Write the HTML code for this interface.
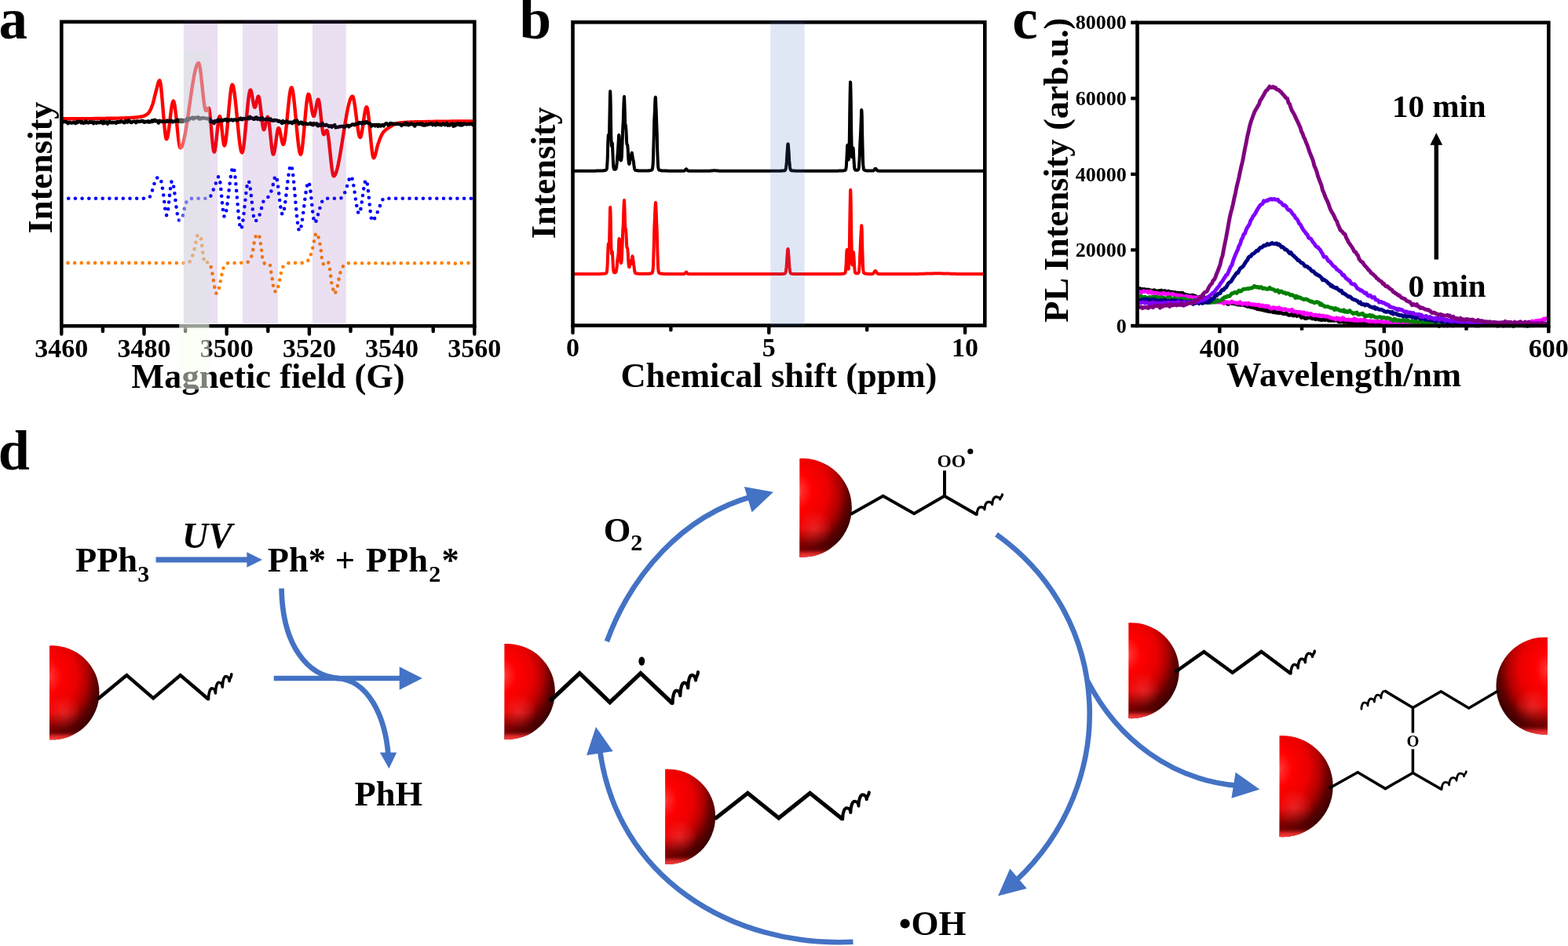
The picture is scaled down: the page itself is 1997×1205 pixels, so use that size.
<!DOCTYPE html>
<html><head><meta charset="utf-8"><title>Figure</title>
<style>html,body{margin:0;padding:0;background:#fff;overflow:hidden}svg{display:block}</style>
</head><body>
<svg width="1997" height="1205" viewBox="0 0 1997 1205" font-family="'Liberation Serif', serif" font-weight="bold">
<rect width="1997" height="1205" fill="#fff"/>
<defs>
<radialGradient id="g0" gradientUnits="userSpaceOnUse" cx="58.2" cy="861.9" r="79.2" gradientTransform="translate(58.2,861.9) scale(1,1.15) translate(-58.2,-861.9)"><stop offset="0" stop-color="#ff6a6a"/><stop offset="0.10" stop-color="#ff2a2a"/><stop offset="0.25" stop-color="#ff0000"/><stop offset="0.50" stop-color="#ea0000"/><stop offset="0.66" stop-color="#b40000"/><stop offset="0.80" stop-color="#620000"/><stop offset="0.92" stop-color="#3c0000"/><stop offset="1" stop-color="#2a0000"/></radialGradient>
<radialGradient id="f0" gradientUnits="userSpaceOnUse" cx="81" cy="907.5" r="22.8"><stop offset="0" stop-color="#ff4a4a" stop-opacity="0.45"/><stop offset="1" stop-color="#ff4a4a" stop-opacity="0"/></radialGradient>
<linearGradient id="r0" gradientUnits="userSpaceOnUse" x1="0" y1="822.3" x2="0" y2="942.3"><stop offset="0" stop-color="#400000" stop-opacity="0"/><stop offset="0.72" stop-color="#400000" stop-opacity="0"/><stop offset="0.86" stop-color="#500000" stop-opacity="0.3"/><stop offset="0.91" stop-color="#700000" stop-opacity="0.25"/><stop offset="0.96" stop-color="#ff3030" stop-opacity="0.75"/><stop offset="1" stop-color="#ff4545" stop-opacity="1"/></linearGradient>
<radialGradient id="g3" gradientUnits="userSpaceOnUse" cx="637.5" cy="860.3" r="80.5" gradientTransform="translate(637.5,860.3) scale(1,1.15) translate(-637.5,-860.3)"><stop offset="0" stop-color="#ff6a6a"/><stop offset="0.10" stop-color="#ff2a2a"/><stop offset="0.25" stop-color="#ff0000"/><stop offset="0.50" stop-color="#ea0000"/><stop offset="0.66" stop-color="#b40000"/><stop offset="0.80" stop-color="#620000"/><stop offset="0.92" stop-color="#3c0000"/><stop offset="1" stop-color="#2a0000"/></radialGradient>
<radialGradient id="f3" gradientUnits="userSpaceOnUse" cx="660.7" cy="906.6" r="23.2"><stop offset="0" stop-color="#ff4a4a" stop-opacity="0.45"/><stop offset="1" stop-color="#ff4a4a" stop-opacity="0"/></radialGradient>
<linearGradient id="r3" gradientUnits="userSpaceOnUse" x1="0" y1="820" x2="0" y2="942"><stop offset="0" stop-color="#400000" stop-opacity="0"/><stop offset="0.72" stop-color="#400000" stop-opacity="0"/><stop offset="0.86" stop-color="#500000" stop-opacity="0.3"/><stop offset="0.91" stop-color="#700000" stop-opacity="0.25"/><stop offset="0.96" stop-color="#ff3030" stop-opacity="0.75"/><stop offset="1" stop-color="#ff4545" stop-opacity="1"/></linearGradient>
<radialGradient id="g6" gradientUnits="userSpaceOnUse" cx="1013.3" cy="625.4" r="83.2" gradientTransform="translate(1013.3,625.4) scale(1,1.15) translate(-1013.3,-625.4)"><stop offset="0" stop-color="#ff6a6a"/><stop offset="0.10" stop-color="#ff2a2a"/><stop offset="0.25" stop-color="#ff0000"/><stop offset="0.50" stop-color="#ea0000"/><stop offset="0.66" stop-color="#b40000"/><stop offset="0.80" stop-color="#620000"/><stop offset="0.92" stop-color="#3c0000"/><stop offset="1" stop-color="#2a0000"/></radialGradient>
<radialGradient id="f6" gradientUnits="userSpaceOnUse" cx="1037.2" cy="673.3" r="23.9"><stop offset="0" stop-color="#ff4a4a" stop-opacity="0.45"/><stop offset="1" stop-color="#ff4a4a" stop-opacity="0"/></radialGradient>
<linearGradient id="r6" gradientUnits="userSpaceOnUse" x1="0" y1="583.8" x2="0" y2="709.8"><stop offset="0" stop-color="#400000" stop-opacity="0"/><stop offset="0.72" stop-color="#400000" stop-opacity="0"/><stop offset="0.86" stop-color="#500000" stop-opacity="0.3"/><stop offset="0.91" stop-color="#700000" stop-opacity="0.25"/><stop offset="0.96" stop-color="#ff3030" stop-opacity="0.75"/><stop offset="1" stop-color="#ff4545" stop-opacity="1"/></linearGradient>
<radialGradient id="g9" gradientUnits="userSpaceOnUse" cx="842.3" cy="1019.7" r="80" gradientTransform="translate(842.3,1019.7) scale(1,1.15) translate(-842.3,-1019.7)"><stop offset="0" stop-color="#ff6a6a"/><stop offset="0.10" stop-color="#ff2a2a"/><stop offset="0.25" stop-color="#ff0000"/><stop offset="0.50" stop-color="#ea0000"/><stop offset="0.66" stop-color="#b40000"/><stop offset="0.80" stop-color="#620000"/><stop offset="0.92" stop-color="#3c0000"/><stop offset="1" stop-color="#2a0000"/></radialGradient>
<radialGradient id="f9" gradientUnits="userSpaceOnUse" cx="865.3" cy="1065.8" r="23"><stop offset="0" stop-color="#ff4a4a" stop-opacity="0.45"/><stop offset="1" stop-color="#ff4a4a" stop-opacity="0"/></radialGradient>
<linearGradient id="r9" gradientUnits="userSpaceOnUse" x1="0" y1="979.7" x2="0" y2="1100.9"><stop offset="0" stop-color="#400000" stop-opacity="0"/><stop offset="0.72" stop-color="#400000" stop-opacity="0"/><stop offset="0.86" stop-color="#500000" stop-opacity="0.3"/><stop offset="0.91" stop-color="#700000" stop-opacity="0.25"/><stop offset="0.96" stop-color="#ff3030" stop-opacity="0.75"/><stop offset="1" stop-color="#ff4545" stop-opacity="1"/></linearGradient>
<radialGradient id="g12" gradientUnits="userSpaceOnUse" cx="1432.4" cy="833.5" r="80.5" gradientTransform="translate(1432.4,833.5) scale(1,1.15) translate(-1432.4,-833.5)"><stop offset="0" stop-color="#ff6a6a"/><stop offset="0.10" stop-color="#ff2a2a"/><stop offset="0.25" stop-color="#ff0000"/><stop offset="0.50" stop-color="#ea0000"/><stop offset="0.66" stop-color="#b40000"/><stop offset="0.80" stop-color="#620000"/><stop offset="0.92" stop-color="#3c0000"/><stop offset="1" stop-color="#2a0000"/></radialGradient>
<radialGradient id="f12" gradientUnits="userSpaceOnUse" cx="1455.6" cy="879.8" r="23.2"><stop offset="0" stop-color="#ff4a4a" stop-opacity="0.45"/><stop offset="1" stop-color="#ff4a4a" stop-opacity="0"/></radialGradient>
<linearGradient id="r12" gradientUnits="userSpaceOnUse" x1="0" y1="793.2" x2="0" y2="915.2"><stop offset="0" stop-color="#400000" stop-opacity="0"/><stop offset="0.72" stop-color="#400000" stop-opacity="0"/><stop offset="0.86" stop-color="#500000" stop-opacity="0.3"/><stop offset="0.91" stop-color="#700000" stop-opacity="0.25"/><stop offset="0.96" stop-color="#ff3030" stop-opacity="0.75"/><stop offset="1" stop-color="#ff4545" stop-opacity="1"/></linearGradient>
<radialGradient id="g15" gradientUnits="userSpaceOnUse" cx="1976" cy="852.6" r="81.8" gradientTransform="translate(1976,852.6) scale(1,1.15) translate(-1976,-852.6)"><stop offset="0" stop-color="#ff6a6a"/><stop offset="0.10" stop-color="#ff2a2a"/><stop offset="0.25" stop-color="#ff0000"/><stop offset="0.50" stop-color="#ea0000"/><stop offset="0.66" stop-color="#b40000"/><stop offset="0.80" stop-color="#620000"/><stop offset="0.92" stop-color="#3c0000"/><stop offset="1" stop-color="#2a0000"/></radialGradient>
<radialGradient id="f15" gradientUnits="userSpaceOnUse" cx="1952.4" cy="899.7" r="23.6"><stop offset="0" stop-color="#ff4a4a" stop-opacity="0.45"/><stop offset="1" stop-color="#ff4a4a" stop-opacity="0"/></radialGradient>
<linearGradient id="r15" gradientUnits="userSpaceOnUse" x1="0" y1="811.7" x2="0" y2="935.7"><stop offset="0" stop-color="#400000" stop-opacity="0"/><stop offset="0.72" stop-color="#400000" stop-opacity="0"/><stop offset="0.86" stop-color="#500000" stop-opacity="0.3"/><stop offset="0.91" stop-color="#700000" stop-opacity="0.25"/><stop offset="0.96" stop-color="#ff3030" stop-opacity="0.75"/><stop offset="1" stop-color="#ff4545" stop-opacity="1"/></linearGradient>
<radialGradient id="g18" gradientUnits="userSpaceOnUse" cx="1624.3" cy="979.6" r="85.3" gradientTransform="translate(1624.3,979.6) scale(1,1.15) translate(-1624.3,-979.6)"><stop offset="0" stop-color="#ff6a6a"/><stop offset="0.10" stop-color="#ff2a2a"/><stop offset="0.25" stop-color="#ff0000"/><stop offset="0.50" stop-color="#ea0000"/><stop offset="0.66" stop-color="#b40000"/><stop offset="0.80" stop-color="#620000"/><stop offset="0.92" stop-color="#3c0000"/><stop offset="1" stop-color="#2a0000"/></radialGradient>
<radialGradient id="f18" gradientUnits="userSpaceOnUse" cx="1648.9" cy="1028.7" r="24.5"><stop offset="0" stop-color="#ff4a4a" stop-opacity="0.45"/><stop offset="1" stop-color="#ff4a4a" stop-opacity="0"/></radialGradient>
<linearGradient id="r18" gradientUnits="userSpaceOnUse" x1="0" y1="937" x2="0" y2="1066.2"><stop offset="0" stop-color="#400000" stop-opacity="0"/><stop offset="0.72" stop-color="#400000" stop-opacity="0"/><stop offset="0.86" stop-color="#500000" stop-opacity="0.3"/><stop offset="0.91" stop-color="#700000" stop-opacity="0.25"/><stop offset="0.96" stop-color="#ff3030" stop-opacity="0.75"/><stop offset="1" stop-color="#ff4545" stop-opacity="1"/></linearGradient>
</defs>
<g id="panel-a">
<path d="M78.3,151.3L78.8,151.3L79.3,151.3L79.8,151.3L80.3,151.3L80.8,151.3L81.3,151.3L81.8,151.3L82.3,151.3L82.8,151.3L83.3,151.3L83.8,151.3L84.3,151.3L84.8,151.3L85.3,151.3L85.8,151.3L86.3,151.3L86.8,151.3L87.3,151.3L87.8,151.3L88.3,151.3L88.8,151.3L89.3,151.3L89.8,151.3L90.3,151.3L90.8,151.3L91.3,151.3L91.8,151.3L92.3,151.3L92.8,151.3L93.3,151.3L93.8,151.3L94.3,151.3L94.8,151.3L95.3,151.3L95.8,151.3L96.3,151.3L96.8,151.2L97.3,151.2L97.8,151.2L98.3,151.2L98.8,151.2L99.3,151.2L99.8,151.2L100.3,151.2L100.8,151.2L101.3,151.2L101.8,151.2L102.3,151.2L102.8,151.2L103.3,151.2L103.8,151.2L104.3,151.2L104.8,151.2L105.3,151.2L105.8,151.2L106.3,151.2L106.8,151.2L107.3,151.2L107.8,151.2L108.3,151.2L108.8,151.2L109.3,151.2L109.8,151.2L110.3,151.1L110.8,151.1L111.3,151.1L111.8,151.1L112.3,151.1L112.8,151.1L113.3,151.1L113.8,151.1L114.3,151.1L114.8,151.1L115.3,151.1L115.8,151.1L116.3,151.1L116.8,151.1L117.3,151.1L117.8,151.1L118.3,151.1L118.8,151.1L119.3,151.1L119.8,151.1L120.3,151L120.8,151L121.3,151L121.8,151L122.3,151L122.8,151L123.3,151L123.8,151L124.3,151L124.8,151L125.3,151L125.8,151L126.3,151L126.8,151L127.3,151L127.8,151L128.3,150.9L128.8,150.9L129.3,150.9L129.8,150.9L130.3,150.9L130.8,150.9L131.3,150.9L131.8,150.9L132.3,150.9L132.8,150.9L133.3,150.9L133.8,150.9L134.3,150.9L134.8,150.9L135.3,150.8L135.8,150.8L136.3,150.8L136.8,150.8L137.3,150.8L137.8,150.8L138.3,150.8L138.8,150.8L139.3,150.8L139.8,150.8L140.3,150.8L140.8,150.8L141.3,150.8L141.8,150.7L142.3,150.7L142.8,150.7L143.3,150.7L143.8,150.7L144.3,150.7L144.8,150.7L145.3,150.7L145.8,150.7L146.3,150.7L146.8,150.7L147.3,150.6L147.8,150.6L148.3,150.6L148.8,150.6L149.3,150.6L149.8,150.6L150.3,150.6L150.8,150.6L151.3,150.6L151.8,150.6L152.3,150.6L152.8,150.5L153.3,150.5L153.8,150.5L154.3,150.5L154.8,150.5L155.3,150.5L155.8,150.5L156.3,150.4L156.8,150.4L157.3,150.4L157.8,150.4L158.3,150.4L158.8,150.4L159.3,150.3L159.8,150.3L160.3,150.3L160.8,150.3L161.3,150.2L161.8,150.2L162.3,150.2L162.8,150.2L163.3,150.1L163.8,150.1L164.3,150.1L164.8,150.1L165.3,150L165.8,150L166.3,150L166.8,150L167.3,149.9L167.8,149.9L168.3,149.9L168.8,149.8L169.3,149.8L169.8,149.8L170.3,149.7L170.8,149.7L171.3,149.7L171.8,149.6L172.3,149.6L172.8,149.5L173.3,149.5L173.8,149.4L174.3,149.4L174.8,149.3L175.3,149.3L175.8,149.2L176.3,149.2L176.8,149.1L177.3,149L177.8,148.9L178.3,148.8L178.8,148.8L179.3,148.7L179.8,148.6L180.3,148.5L180.8,148.3L181.3,148.2L181.8,148.1L182.3,148L182.8,147.9L183.3,147.7L183.8,147.5L184.3,147.3L184.8,147.1L185.3,146.8L185.8,146.6L186.3,146.2L186.8,145.9L187.3,145.5L187.8,145.1L188.3,144.7L188.8,144.2L189.3,143.7L189.8,143L190.3,142.3L190.8,141.4L191.3,140.4L191.8,139.4L192.3,138.3L192.8,137.1L193.3,135.8L193.8,134.5L194.3,133.2L194.8,131.6L195.3,129.7L195.8,127.8L196.3,125.7L196.8,123.6L197.3,121.6L197.8,119.6L198.3,117.7L198.8,115.9L199.3,114L199.8,112L200.3,110L200.8,108L201.3,106.2L201.8,104.7L202.3,103.5L202.8,102.8L203.3,102.6L203.8,103.6L204.3,105.7L204.8,109L205.3,113.1L205.8,118L206.3,123.5L206.8,129.4L207.3,135.6L207.8,141.8L208.3,148.1L208.8,154.1L209.3,159.8L209.8,164.9L210.3,169.4L210.8,173L211.3,175.6L211.8,177.1L212.3,177.2L212.8,176.4L213.3,174.8L213.8,172.5L214.3,169.5L214.8,166.2L215.3,162.4L215.8,158.4L216.3,154.3L216.8,150.1L217.3,146L217.8,142.1L218.3,138.4L218.8,135.2L219.3,132.5L219.8,130.5L220.3,129.2L220.8,128.7L221.3,129.2L221.8,130.8L222.3,133.1L222.8,136.2L223.3,140L223.8,144.2L224.3,148.8L224.8,153.6L225.3,158.6L225.8,163.6L226.3,168.4L226.8,173L227.3,177.2L227.8,181L228.3,184.1L228.8,186.4L229.3,188L229.8,188.5L230.3,188.3L230.8,187.9L231.3,187.2L231.8,186.2L232.3,185L232.8,183.5L233.3,181.8L233.8,179.9L234.3,177.8L234.8,175.5L235.3,173L235.8,170.4L236.3,167.6L236.8,164.7L237.3,161.7L237.8,158.5L238.3,155.3L238.8,152L239.3,148.6L239.8,145.2L240.3,141.7L240.8,138.2L241.3,134.7L241.8,131.2L242.3,127.7L242.8,124.2L243.3,120.8L243.8,117.4L244.3,114.1L244.8,110.8L245.3,107.7L245.8,104.6L246.3,101.7L246.8,98.9L247.3,96.2L247.8,93.7L248.3,91.4L248.8,89.2L249.3,87.3L249.8,85.5L250.3,84L250.8,82.7L251.3,81.7L251.8,80.9L252.3,80.4L252.8,80.2L253.3,80.5L253.8,81.8L254.3,83.8L254.8,86.6L255.3,90.1L255.8,94L256.3,98.3L256.8,102.9L257.3,107.7L257.8,112.5L258.3,117.3L258.8,122L259.3,126.4L259.8,130.4L260.3,133.9L260.8,136.8L261.3,139.1L261.8,140.5L262.3,141L262.8,140.8L263.3,140.2L263.8,139.5L264.3,138.7L264.8,138L265.3,137.6L265.8,137.6L266.3,139L266.8,141.7L267.3,145.4L267.8,150L268.3,155.3L268.8,160.9L269.3,166.8L269.8,172.6L270.3,178.1L270.8,183.1L271.3,187.4L271.8,190.7L272.3,192.9L272.8,193.7L273.3,193L273.8,191.2L274.3,188.3L274.8,184.7L275.3,180.4L275.8,175.8L276.3,170.9L276.8,166L277.3,161.4L277.8,157.1L278.3,153.5L278.8,150.6L279.3,148.8L279.8,148.1L280.3,148.8L280.8,150.9L281.3,153.9L281.8,157.8L282.3,162.2L282.8,166.8L283.3,171.4L283.8,175.8L284.3,179.7L284.8,182.7L285.3,184.8L285.8,185.5L286.3,184.9L286.8,183.4L287.3,180.9L287.8,177.6L288.3,173.6L288.8,169L289.3,164L289.8,158.6L290.3,153L290.8,147.2L291.3,141.5L291.8,135.8L292.3,130.4L292.8,125.3L293.3,120.6L293.8,116.5L294.3,113L294.8,110.4L295.3,108.6L295.8,107.8L296.3,108.1L296.8,109.1L297.3,110.9L297.8,113.4L298.3,116.4L298.8,120L299.3,124L299.8,128.4L300.3,133.1L300.8,138.1L301.3,143.2L301.8,148.5L302.3,153.7L302.8,159L303.3,164.1L303.8,169.1L304.3,173.8L304.8,178.2L305.3,182.2L305.8,185.8L306.3,188.8L306.8,191.3L307.3,193.1L307.8,194.1L308.3,194.4L308.8,193.7L309.3,192.1L309.8,189.7L310.3,186.5L310.8,182.7L311.3,178.4L311.8,173.7L312.3,168.6L312.8,163.3L313.3,157.8L313.8,152.2L314.3,146.7L314.8,141.4L315.3,136.2L315.8,131.4L316.3,127L316.8,123.1L317.3,119.8L317.8,117.2L318.3,115.5L318.8,114.6L319.3,114.7L319.8,115.8L320.3,117.7L320.8,120.1L321.3,123L321.8,126L322.3,129L322.8,131.8L323.3,134.2L323.8,135.9L324.3,136.8L324.8,136.7L325.3,135.8L325.8,134.1L326.3,132.1L326.8,129.8L327.3,127.5L327.8,125.5L328.3,123.8L328.8,122.9L329.3,122.8L329.8,123.9L330.3,126L330.8,129L331.3,132.7L331.8,136.8L332.3,141.3L332.8,145.8L333.3,150.3L333.8,154.5L334.3,158.3L334.8,161.4L335.3,163.8L335.8,165.1L336.3,165.2L336.8,164.4L337.3,162.7L337.8,160.6L338.3,158.1L338.8,155.6L339.3,153.2L339.8,151.1L340.3,149.6L340.8,148.9L341.3,149.3L341.8,151L342.3,153.6L342.8,157.1L343.3,161.3L343.8,165.9L344.3,170.8L344.8,175.8L345.3,180.6L345.8,185.2L346.3,189.2L346.8,192.6L347.3,195.1L347.8,196.5L348.3,196.6L348.8,195.7L349.3,193.8L349.8,191.3L350.3,188.2L350.8,184.7L351.3,181L351.8,177.2L352.3,173.6L352.8,170.2L353.3,167.3L353.8,165L354.3,163.5L354.8,163L355.3,163.4L355.8,164.6L356.3,166.3L356.8,168.4L357.3,170.9L357.8,173.5L358.3,176.1L358.8,178.6L359.3,180.7L359.8,182.4L360.3,183.6L360.8,184L361.3,183.5L361.8,182.1L362.3,179.9L362.8,177L363.3,173.4L363.8,169.4L364.3,164.9L364.8,160.1L365.3,155L365.8,149.8L366.3,144.6L366.8,139.5L367.3,134.4L367.8,129.7L368.3,125.3L368.8,121.3L369.3,117.9L369.8,115.1L370.3,113L370.8,111.8L371.3,111.5L371.8,112.1L372.3,113.6L372.8,115.8L373.3,118.7L373.8,122.3L374.3,126.3L374.8,130.7L375.3,135.6L375.8,140.7L376.3,146L376.8,151.4L377.3,156.8L377.8,162.2L378.3,167.5L378.8,172.6L379.3,177.5L379.8,181.9L380.3,185.9L380.8,189.5L381.3,192.4L381.8,194.6L382.3,196.1L382.8,196.7L383.3,196.3L383.8,194.9L384.3,192.6L384.8,189.4L385.3,185.5L385.8,181L386.3,176.1L386.8,170.7L387.3,165.1L387.8,159.4L388.3,153.6L388.8,148L389.3,142.5L389.8,137.4L390.3,132.7L390.8,128.5L391.3,125.1L391.8,122.4L392.3,120.6L392.8,119.8L393.3,120.1L393.8,121.2L394.3,123L394.8,125.3L395.3,128.1L395.8,131.1L396.3,134.3L396.8,137.4L397.3,140.4L397.8,143.1L398.3,145.3L398.8,147L399.3,147.9L399.8,148L400.3,147.2L400.8,145.6L401.3,143.5L401.8,140.9L402.3,138.2L402.8,135.3L403.3,132.6L403.8,130.2L404.3,128.3L404.8,127L405.3,126.5L405.8,127.2L406.3,129L406.8,131.8L407.3,135.4L407.8,139.6L408.3,144.1L408.8,148.9L409.3,153.7L409.8,158.2L410.3,162.4L410.8,166L411.3,168.8L411.8,170.6L412.3,171.3L412.8,171L413.3,170.4L413.8,169.5L414.3,168.4L414.8,167.4L415.3,166.6L415.8,166.1L416.3,166.1L416.8,167L417.3,168.9L417.8,171.6L418.3,174.9L418.8,178.8L419.3,183.2L419.8,187.9L420.3,192.7L420.8,197.6L421.3,202.4L421.8,207.1L422.3,211.5L422.8,215.4L423.3,218.7L423.8,221.4L424.3,223.3L424.8,224.2L425.3,224.3L425.8,224L426.3,223.4L426.8,222.7L427.3,221.7L427.8,220.4L428.3,219L428.8,217.4L429.3,215.6L429.8,213.7L430.3,211.5L430.8,209.3L431.3,206.8L431.8,204.3L432.3,201.7L432.8,198.9L433.3,196.1L433.8,193.1L434.3,190.1L434.8,187.1L435.3,184L435.8,180.8L436.3,177.6L436.8,174.5L437.3,171.3L437.8,168.1L438.3,164.9L438.8,161.8L439.3,158.7L439.8,155.7L440.3,152.7L440.8,149.8L441.3,147L441.8,144.3L442.3,141.7L442.8,139.2L443.3,136.8L443.8,134.6L444.3,132.5L444.8,130.6L445.3,128.9L445.8,127.4L446.3,126L446.8,124.9L447.3,124L447.8,123.3L448.3,122.9L448.8,122.7L449.3,123L449.8,123.9L450.3,125.6L450.8,127.8L451.3,130.6L451.8,133.7L452.3,137.2L452.8,141L453.3,144.9L453.8,148.9L454.3,152.8L454.8,156.7L455.3,160.5L455.8,164L456.3,167.1L456.8,169.9L457.3,172.1L457.8,173.8L458.3,174.7L458.8,175L459.3,174.4L459.8,173.1L460.3,171.1L460.8,168.7L461.3,165.8L461.8,162.6L462.3,159.1L462.8,155.6L463.3,152.1L463.8,148.6L464.3,145.4L464.8,142.5L465.3,140.1L465.8,138.1L466.3,136.8L466.8,136.2L467.3,136.6L467.8,138L468.3,140.4L468.8,143.7L469.3,147.6L469.8,152.1L470.3,157L470.8,162.2L471.3,167.6L471.8,173L472.3,178.3L472.8,183.4L473.3,188.1L473.8,192.2L474.3,195.8L474.8,198.5L475.3,200.4L475.8,201.2L476.3,201L476.8,200.3L477.3,199.2L477.8,197.7L478.3,196L478.8,194L479.3,191.9L479.8,189.8L480.3,187.7L480.8,185.7L481.3,184L481.8,182.5L482.3,181.2L482.8,179.8L483.3,178.5L483.8,177.2L484.3,175.9L484.8,174.7L485.3,173.5L485.8,172.4L486.3,171.4L486.8,170.5L487.3,169.7L487.8,169L488.3,168.4L488.8,167.8L489.3,167.3L489.8,166.8L490.3,166.3L490.8,165.8L491.3,165.4L491.8,165L492.3,164.6L492.8,164.2L493.3,163.9L493.8,163.5L494.3,163.2L494.8,162.9L495.3,162.6L495.8,162.2L496.3,161.9L496.8,161.6L497.3,161.3L497.8,161L498.3,160.6L498.8,160.3L499.3,160L499.8,159.6L500.3,159.3L500.8,159L501.3,158.7L501.8,158.4L502.3,158.2L502.8,157.9L503.3,157.7L503.8,157.5L504.3,157.3L504.8,157.2L505.3,157.1L505.8,157L506.3,156.9L506.8,156.9L507.3,156.8L507.8,156.7L508.3,156.7L508.8,156.6L509.3,156.5L509.8,156.5L510.3,156.4L510.8,156.4L511.3,156.3L511.8,156.3L512.3,156.2L512.8,156.2L513.3,156.1L513.8,156.1L514.3,156.1L514.8,156L515.3,156L515.8,155.9L516.3,155.9L516.8,155.9L517.3,155.8L517.8,155.8L518.3,155.8L518.8,155.7L519.3,155.7L519.8,155.7L520.3,155.7L520.8,155.6L521.3,155.6L521.8,155.6L522.3,155.6L522.8,155.5L523.3,155.5L523.8,155.5L524.3,155.5L524.8,155.5L525.3,155.4L525.8,155.4L526.3,155.4L526.8,155.4L527.3,155.4L527.8,155.4L528.3,155.3L528.8,155.3L529.3,155.3L529.8,155.3L530.3,155.3L530.8,155.3L531.3,155.3L531.8,155.3L532.3,155.2L532.8,155.2L533.3,155.2L533.8,155.2L534.3,155.2L534.8,155.2L535.3,155.2L535.8,155.2L536.3,155.2L536.8,155.1L537.3,155.1L537.8,155.1L538.3,155.1L538.8,155.1L539.3,155.1L539.8,155.1L540.3,155.1L540.8,155.1L541.3,155.1L541.8,155L542.3,155L542.8,155L543.3,155L543.8,155L544.3,155L544.8,155L545.3,155L545.8,155L546.3,155L546.8,154.9L547.3,154.9L547.8,154.9L548.3,154.9L548.8,154.9L549.3,154.9L549.8,154.9L550.3,154.9L550.8,154.9L551.3,154.9L551.8,154.9L552.3,154.8L552.8,154.8L553.3,154.8L553.8,154.8L554.3,154.8L554.8,154.8L555.3,154.8L555.8,154.8L556.3,154.8L556.8,154.8L557.3,154.8L557.8,154.8L558.3,154.8L558.8,154.7L559.3,154.7L559.8,154.7L560.3,154.7L560.8,154.7L561.3,154.7L561.8,154.7L562.3,154.7L562.8,154.7L563.3,154.7L563.8,154.7L564.3,154.7L564.8,154.7L565.3,154.7L565.8,154.6L566.3,154.6L566.8,154.6L567.3,154.6L567.8,154.6L568.3,154.6L568.8,154.6L569.3,154.6L569.8,154.6L570.3,154.6L570.8,154.6L571.3,154.6L571.8,154.6L572.3,154.6L572.8,154.6L573.3,154.6L573.8,154.6L574.3,154.6L574.8,154.5L575.3,154.5L575.8,154.5L576.3,154.5L576.8,154.5L577.3,154.5L577.8,154.5L578.3,154.5L578.8,154.5L579.3,154.5L579.8,154.5L580.3,154.5L580.8,154.5L581.3,154.5L581.8,154.5L582.3,154.5L582.8,154.5L583.3,154.5L583.8,154.5L584.3,154.5L584.8,154.5L585.3,154.5L585.8,154.5L586.3,154.5L586.8,154.5L587.3,154.4L587.8,154.4L588.3,154.4L588.8,154.4L589.3,154.4L589.8,154.4L590.3,154.4L590.8,154.4L591.3,154.4L591.8,154.4L592.3,154.4L592.8,154.4L593.3,154.4L593.8,154.4L594.3,154.4L594.8,154.4L595.3,154.4L595.8,154.4L596.3,154.4L596.8,154.4L597.3,154.4L597.8,154.4L598.3,154.4L598.8,154.4L599.3,154.4L599.8,154.4L600.3,154.4L600.8,154.4L601.3,154.4L601.8,154.4L602.3,154.4L602.8,154.4L603.3,154.4L603.8,154.4L604.3,154.4" fill="none" stroke="#ff0000" stroke-width="4.4" stroke-linejoin="round" stroke-linecap="round"/>
<path d="M78.3,155.3L79.5,155.7L80.7,155.3L81.9,154.8L83.1,155.3L84.3,154.9L85.5,155.9L86.7,157.2L87.9,155.6L89.1,155.6L90.3,156.6L91.5,156.6L92.7,156.4L93.9,155.5L95.1,156.4L96.3,157.1L97.5,155.3L98.7,156.1L99.9,154.8L101.1,155.3L102.3,154.8L103.5,156.3L104.7,155.3L105.9,156.7L107.1,156.6L108.3,156.3L109.5,154.2L110.7,155.9L111.9,156.3L113.1,156.5L114.3,155L115.5,155.9L116.7,155.4L117.9,155.5L119.1,157.2L120.3,155.5L121.5,156.1L122.7,156.9L123.9,155.6L125.1,156L126.3,156.2L127.5,156.1L128.7,154.9L129.9,156.1L131.1,157.2L132.3,154.6L133.5,156.7L134.7,156L135.9,155.3L137.1,157.7L138.3,156.5L139.5,154.7L140.7,155.9L141.9,156.3L143.1,155.6L144.3,156.3L145.5,155.6L146.7,156.3L147.9,156.9L149.1,155L150.3,155.8L151.5,155.1L152.7,155.6L153.9,154.4L155.1,154.9L156.3,155.2L157.5,156.1L158.7,156.3L159.9,154L161.1,154.5L162.3,155.7L163.5,153.3L164.7,154.6L165.9,154.9L167.1,156.1L168.3,155.6L169.5,154.6L170.7,154.6L171.9,154.6L173.1,156.2L174.3,154.4L175.5,154.5L176.7,155.1L177.9,154.7L179.1,154.6L180.3,153.8L181.5,154.7L182.7,154.3L183.9,155.8L185.1,155.3L186.3,154.7L187.5,155.3L188.7,154.4L189.9,155.6L191.1,154.7L192.3,155.2L193.5,153.5L194.7,154.9L195.9,153.1L197.1,152.8L198.3,154.3L199.5,153.8L200.7,154.7L201.9,156.6L203.1,153.8L204.3,154L205.5,154.8L206.7,155L207.9,154.4L209.1,154.4L210.3,155.2L211.5,155L212.7,153.6L213.9,154.5L215.1,154.6L216.3,153.6L217.5,154.8L218.7,153.8L219.9,155.4L221.1,154.7L222.3,154.6L223.5,154L224.7,154.4L225.9,152.7L227.1,153.5L228.3,154.8L229.5,152.6L230.7,155.2L231.9,152.8L233.1,154.8L234.3,153.1L235.5,154.3L236.7,153.4L237.9,151.4L239.1,153.3L240.3,152.8L241.5,151L242.7,150.7L243.9,150.6L245.1,149.7L246.3,151.5L247.5,149.9L248.7,150.3L249.9,149.6L251.1,149.7L252.3,149.2L253.5,151.5L254.7,150.3L255.9,151.3L257.1,150.6L258.3,150L259.5,150.5L260.7,150.4L261.9,151L263.1,150.9L264.3,151.3L265.5,150.8L266.7,152L267.9,155.1L269.1,154L270.3,154.5L271.5,156.1L272.7,157L273.9,154.1L275.1,154.8L276.3,154L277.5,152.5L278.7,154.4L279.9,153.5L281.1,153.5L282.3,152.7L283.5,153.7L284.7,152.7L285.9,153L287.1,152.1L288.3,152L289.5,154.2L290.7,152.5L291.9,153.2L293.1,152.9L294.3,152.5L295.5,152.4L296.7,153.4L297.9,152.5L299.1,152.5L300.3,152.6L301.5,153.5L302.7,152.9L303.9,152.5L305.1,151.4L306.3,150.5L307.5,152.4L308.7,152.2L309.9,150.9L311.1,151.3L312.3,151.3L313.5,151.1L314.7,151L315.9,149.6L317.1,151.3L318.3,148.7L319.5,150.6L320.7,150.3L321.9,150.7L323.1,151.8L324.3,151.7L325.5,149.6L326.7,149.4L327.9,151.9L329.1,150.5L330.3,151.5L331.5,152.4L332.7,150.3L333.9,150L335.1,152.3L336.3,152.2L337.5,152L338.7,152.4L339.9,151.7L341.1,151.2L342.3,152.6L343.5,152L344.7,151.5L345.9,153.6L347.1,153.2L348.3,153.8L349.5,152.8L350.7,153.3L351.9,153.2L353.1,153.5L354.3,154.6L355.5,153.9L356.7,155.1L357.9,155.3L359.1,156.9L360.3,154L361.5,156.1L362.7,155.3L363.9,155.5L365.1,154.3L366.3,155.3L367.5,156.4L368.7,155.7L369.9,156L371.1,155.7L372.3,157.1L373.5,156.1L374.7,154.2L375.9,155.6L377.1,154.5L378.3,153.5L379.5,156L380.7,157.8L381.9,156.7L383.1,155.7L384.3,156L385.5,158L386.7,157.2L387.9,157.2L389.1,157.2L390.3,157.4L391.5,158.2L392.7,158.1L393.9,157.9L395.1,156.9L396.3,158.4L397.5,157.5L398.7,159.2L399.9,157.1L401.1,158.3L402.3,158.5L403.5,157.4L404.7,160.3L405.9,160.2L407.1,158.6L408.3,159.8L409.5,159.6L410.7,157L411.9,159.7L413.1,159.5L414.3,159.7L415.5,158.8L416.7,159.7L417.9,159.9L419.1,161.2L420.3,160.5L421.5,160.3L422.7,161.8L423.9,160.1L425.1,160.4L426.3,159.2L427.5,162.4L428.7,161.9L429.9,162L431.1,161.8L432.3,161.3L433.5,161.4L434.7,160.9L435.9,160.9L437.1,161L438.3,162.2L439.5,161.2L440.7,160.5L441.9,159.9L443.1,159.7L444.3,161.5L445.5,160.4L446.7,159.8L447.9,159.1L449.1,158.2L450.3,158.8L451.5,159.4L452.7,158L453.9,157.9L455.1,157.7L456.3,157.7L457.5,156L458.7,157L459.9,156.2L461.1,157.5L462.3,155.7L463.5,156.6L464.7,157.1L465.9,155.3L467.1,155.3L468.3,156.5L469.5,157.1L470.7,157L471.9,158.9L473.1,160.7L474.3,159L475.5,159.5L476.7,159L477.9,160.3L479.1,158.9L480.3,158.9L481.5,160.9L482.7,158.8L483.9,160.4L485.1,160.6L486.3,159.2L487.5,159.3L488.7,160.4L489.9,158.3L491.1,157.9L492.3,157.1L493.5,158.2L494.7,159.4L495.9,158.8L497.1,157L498.3,157.1L499.5,157.3L500.7,158.1L501.9,157.6L503.1,158L504.3,158.2L505.5,157.7L506.7,157.9L507.9,158.2L509.1,158L510.3,158.6L511.5,159.9L512.7,158.8L513.9,158.4L515.1,156.9L516.3,158.8L517.5,156.7L518.7,157.2L519.9,159.3L521.1,159.1L522.3,158.4L523.5,157L524.7,158.2L525.9,157.9L527.1,159.1L528.3,160.5L529.5,158.7L530.7,157.8L531.9,157.4L533.1,158.4L534.3,158.3L535.5,157.5L536.7,158.6L537.9,157.5L539.1,159.5L540.3,159.5L541.5,159.5L542.7,158.1L543.9,159L545.1,158.4L546.3,158.2L547.5,158.2L548.7,157.3L549.9,157.2L551.1,159.2L552.3,158.3L553.5,158.7L554.7,159.4L555.9,156.9L557.1,157.8L558.3,158.7L559.5,158.9L560.7,158.2L561.9,159.4L563.1,158.7L564.3,157.4L565.5,157.7L566.7,159.2L567.9,158.9L569.1,156.8L570.3,159.7L571.5,159L572.7,159.7L573.9,158.2L575.1,158.2L576.3,157.5L577.5,160.8L578.7,158.4L579.9,160L581.1,157.9L582.3,158.7L583.5,157L584.7,158.2L585.9,159.4L587.1,157.4L588.3,159.5L589.5,158.9L590.7,157.6L591.9,158.1L593.1,158.1L594.3,158.5L595.5,158.1L596.7,157.8L597.9,158.3L599.1,157.7L600.3,157.4L601.5,158.5L602.7,159.4L603.9,157.2" fill="none" stroke="#000" stroke-width="4.4" stroke-linejoin="round" stroke-linecap="round"/>
<path d="M79,252.7L79.3,252.7L79.6,252.7L79.9,252.7L80.2,252.7L80.5,252.7L80.8,252.7L81.1,252.7L81.4,252.7L81.7,252.7L82,252.7L82.3,252.7L82.6,252.7L82.9,252.7L83.2,252.7L83.5,252.7L83.8,252.7L84.1,252.7L84.4,252.7L84.7,252.7L85,252.7L85.3,252.7L85.6,252.7L85.9,252.7L86.2,252.7L86.5,252.7L86.8,252.7L87.1,252.7L87.4,252.7L87.7,252.7L88,252.7L88.3,252.7L88.6,252.7L88.9,252.7L89.2,252.7L89.5,252.7L89.8,252.7L90.1,252.7L90.4,252.7L90.7,252.7L91,252.7L91.3,252.7L91.6,252.7L91.9,252.7L92.2,252.7L92.5,252.7L92.8,252.7L93.1,252.7L93.4,252.7L93.7,252.7L94,252.7L94.3,252.7L94.6,252.7L94.9,252.7L95.2,252.7L95.5,252.7L95.8,252.7L96.1,252.7L96.4,252.7L96.7,252.7L97,252.7L97.3,252.7L97.6,252.7L97.9,252.7L98.2,252.7L98.5,252.7L98.8,252.7L99.1,252.7L99.4,252.7L99.7,252.7L100,252.7L100.3,252.7L100.6,252.7L100.9,252.7L101.2,252.7L101.5,252.7L101.8,252.7L102.1,252.7L102.4,252.7L102.7,252.7L103,252.7L103.3,252.7L103.6,252.7L103.9,252.7L104.2,252.7L104.5,252.7L104.8,252.7L105.1,252.7L105.4,252.7L105.7,252.7L106,252.7L106.3,252.7L106.6,252.7L106.9,252.7L107.2,252.7L107.5,252.7L107.8,252.7L108.1,252.7L108.4,252.7L108.7,252.7L109,252.7L109.3,252.7L109.6,252.7L109.9,252.7L110.2,252.7L110.5,252.7L110.8,252.7L111.1,252.7L111.4,252.7L111.7,252.7L112,252.7L112.3,252.7L112.6,252.7L112.9,252.7L113.2,252.7L113.5,252.7L113.8,252.7L114.1,252.7L114.4,252.7L114.7,252.7L115,252.7L115.3,252.7L115.6,252.7L115.9,252.7L116.2,252.7L116.5,252.7L116.8,252.7L117.1,252.7L117.4,252.7L117.7,252.7L118,252.7L118.3,252.7L118.6,252.7L118.9,252.7L119.2,252.7L119.5,252.7L119.8,252.7L120.1,252.7L120.4,252.7L120.7,252.7L121,252.7L121.3,252.7L121.6,252.7L121.9,252.7L122.2,252.7L122.5,252.7L122.8,252.7L123.1,252.7L123.4,252.7L123.7,252.7L124,252.7L124.3,252.7L124.6,252.7L124.9,252.7L125.2,252.7L125.5,252.7L125.8,252.7L126.1,252.7L126.4,252.7L126.7,252.7L127,252.7L127.3,252.7L127.6,252.7L127.9,252.7L128.2,252.7L128.5,252.7L128.8,252.7L129.1,252.7L129.4,252.7L129.7,252.7L130,252.7L130.3,252.7L130.6,252.7L130.9,252.7L131.2,252.7L131.5,252.7L131.8,252.7L132.1,252.7L132.4,252.7L132.7,252.7L133,252.7L133.3,252.7L133.6,252.7L133.9,252.7L134.2,252.7L134.5,252.7L134.8,252.7L135.1,252.7L135.4,252.7L135.7,252.7L136,252.7L136.3,252.7L136.6,252.7L136.9,252.7L137.2,252.7L137.5,252.7L137.8,252.7L138.1,252.7L138.4,252.7L138.7,252.7L139,252.7L139.3,252.7L139.6,252.7L139.9,252.7L140.2,252.7L140.5,252.7L140.8,252.7L141.1,252.7L141.4,252.7L141.7,252.7L142,252.7L142.3,252.7L142.6,252.7L142.9,252.7L143.2,252.7L143.5,252.7L143.8,252.7L144.1,252.7L144.4,252.7L144.7,252.7L145,252.7L145.3,252.7L145.6,252.7L145.9,252.7L146.2,252.7L146.5,252.7L146.8,252.7L147.1,252.7L147.4,252.7L147.7,252.7L148,252.7L148.3,252.7L148.6,252.7L148.9,252.7L149.2,252.7L149.5,252.7L149.8,252.7L150.1,252.7L150.4,252.7L150.7,252.7L151,252.7L151.3,252.7L151.6,252.7L151.9,252.7L152.2,252.7L152.5,252.7L152.8,252.7L153.1,252.7L153.4,252.7L153.7,252.7L154,252.7L154.3,252.7L154.6,252.7L154.9,252.7L155.2,252.7L155.5,252.7L155.8,252.7L156.1,252.7L156.4,252.7L156.7,252.7L157,252.7L157.3,252.7L157.6,252.7L157.9,252.7L158.2,252.7L158.5,252.7L158.8,252.7L159.1,252.7L159.4,252.7L159.7,252.7L160,252.7L160.3,252.7L160.6,252.7L160.9,252.7L161.2,252.7L161.5,252.7L161.8,252.7L162.1,252.7L162.4,252.7L162.7,252.7L163,252.7L163.3,252.7L163.6,252.7L163.9,252.7L164.2,252.7L164.5,252.7L164.8,252.7L165.1,252.7L165.4,252.7L165.7,252.7L166,252.7L166.3,252.7L166.6,252.7L166.9,252.7L167.2,252.7L167.5,252.7L167.8,252.7L168.1,252.7L168.4,252.7L168.7,252.7L169,252.7L169.3,252.7L169.6,252.7L169.9,252.7L170.2,252.7L170.5,252.7L170.8,252.7L171.1,252.7L171.4,252.7L171.7,252.7L172,252.7L172.3,252.7L172.6,252.7L172.9,252.7L173.2,252.7L173.5,252.7L173.8,252.7L174.1,252.7L174.4,252.7L174.7,252.7L175,252.7L175.3,252.7L175.6,252.7L175.9,252.7L176.2,252.7L176.5,252.7L176.8,252.7L177.1,252.7L177.4,252.7L177.7,252.7L178,252.7L178.3,252.7L178.6,252.7L178.9,252.7L179.2,252.7L179.5,252.7L179.8,252.7L180.1,252.7L180.4,252.7L180.7,252.7L181,252.7L181.3,252.7L181.6,252.7L181.9,252.7L182.2,252.7L182.5,252.7L182.8,252.7L183.1,252.7L183.4,252.7L183.7,252.7L184,252.7L184.3,252.7L184.6,252.7L184.9,252.7L185.2,252.7L185.5,252.7L185.8,252.7L186.1,252.7L186.4,252.7L186.7,252.6L187,252.6L187.3,252.5L187.6,252.4L187.9,252.3L188.2,252.2L188.5,252.1L188.8,252L189.1,251.8L189.4,251.6L189.7,251.5L190,251.3L190.3,251.1L190.6,250.9L190.9,250.6L191.2,250.2L191.5,249.7L191.8,249.1L192.1,248.3L192.4,247.5L192.7,246.6L193,245.7L193.3,244.8L193.6,243.8L193.9,242.8L194.2,241.9L194.5,241L194.8,240.1L195.1,239.1L195.4,238L195.7,236.9L196,235.8L196.3,234.7L196.6,233.6L196.9,232.6L197.2,231.8L197.5,231L197.8,230.3L198.1,229.5L198.4,228.8L198.7,228.1L199,227.5L199.3,227L199.6,226.7L199.9,226.5L200.2,226.5L200.5,226.5L200.8,226.5L201.1,226.5L201.4,226.5L201.7,226.5L202,226.5L202.3,226.5L202.6,226.5L202.9,226.5L203.2,226.5L203.5,226.5L203.8,226.5L204.1,226.7L204.4,227.3L204.7,228.2L205,229.4L205.3,230.7L205.6,232.3L205.9,233.9L206.2,235.6L206.5,237.3L206.8,239L207.1,240.5L207.4,242.3L207.7,244.3L208,246.5L208.3,248.9L208.6,251.4L208.9,254L209.2,256.6L209.5,259.2L209.8,261.7L210.1,264.2L210.4,266.4L210.7,268.5L211,270.3L211.3,271.9L211.6,273.1L211.9,273.9L212.2,274.3L212.5,274.2L212.8,273.6L213.1,272.6L213.4,271.2L213.7,269.4L214,267.3L214.3,265L214.6,262.4L214.9,259.7L215.2,256.9L215.5,254L215.8,251L216.1,248.1L216.4,245.3L216.7,242.6L217,240L217.3,237.7L217.6,235.6L217.9,233.8L218.2,232.4L218.5,231.4L218.8,230.8L219.1,230.7L219.4,231L219.7,231.5L220,232.4L220.3,233.5L220.6,234.8L220.9,236.3L221.2,238L221.5,239.9L221.8,241.9L222.1,244.1L222.4,246.4L222.7,248.7L223,251.1L223.3,253.5L223.6,256L223.9,258.5L224.2,260.9L224.5,263.3L224.8,265.6L225.1,267.8L225.4,269.9L225.7,271.9L226,273.8L226.3,275.4L226.6,276.9L226.9,278.1L227.2,279.1L227.5,279.9L227.8,280.3L228.1,280.5L228.4,280.5L228.7,280.4L229,280.4L229.3,280.3L229.6,280.2L229.9,280L230.2,279.8L230.5,279.6L230.8,279.4L231.1,279.2L231.4,278.9L231.7,278.6L232,278.3L232.3,277.5L232.6,276.4L232.9,275L233.2,273.5L233.5,271.9L233.8,270.5L234.1,269.3L234.4,268L234.7,266.7L235,265.5L235.3,264.3L235.6,263.1L235.9,262.1L236.2,261.2L236.5,260.2L236.8,259.3L237.1,258.4L237.4,257.6L237.7,256.8L238,256.1L238.3,255.5L238.6,255.1L238.9,254.8L239.2,254.6L239.5,254.5L239.8,254.3L240.1,254.1L240.4,254L240.7,253.9L241,253.7L241.3,253.6L241.6,253.5L241.9,253.4L242.2,253.3L242.5,253.2L242.8,253.1L243.1,253.1L243.4,253L243.7,252.9L244,252.9L244.3,252.8L244.6,252.8L244.9,252.8L245.2,252.7L245.5,252.7L245.8,252.7L246.1,252.7L246.4,252.7L246.7,252.7L247,252.7L247.3,252.7L247.6,252.7L247.9,252.7L248.2,252.7L248.5,252.7L248.8,252.7L249.1,252.7L249.4,252.7L249.7,252.7L250,252.7L250.3,252.7L250.6,252.7L250.9,252.7L251.2,252.7L251.5,252.7L251.8,252.7L252.1,252.7L252.4,252.7L252.7,252.7L253,252.7L253.3,252.7L253.6,252.7L253.9,252.7L254.2,252.7L254.5,252.7L254.8,252.7L255.1,252.7L255.4,252.7L255.7,252.7L256,252.7L256.3,252.7L256.6,252.7L256.9,252.7L257.2,252.7L257.5,252.7L257.8,252.7L258.1,252.7L258.4,252.7L258.7,252.7L259,252.7L259.3,252.7L259.6,252.7L259.9,252.7L260.2,252.7L260.5,252.7L260.8,252.7L261.1,252.7L261.4,252.7L261.7,252.7L262,252.7L262.3,252.7L262.6,252.7L262.9,252.7L263.2,252.7L263.5,252.7L263.8,252.7L264.1,252.7L264.4,252.7L264.7,252.7L265,252.7L265.3,252.7L265.6,252.7L265.9,252.7L266.2,252.7L266.5,252.5L266.8,252.3L267.1,251.9L267.4,251.4L267.7,250.9L268,250.3L268.3,249.7L268.6,249L268.9,248.3L269.2,247.6L269.5,246.8L269.8,246.1L270.1,245.4L270.4,244.8L270.7,244.2L271,243.5L271.3,242.8L271.6,242L271.9,241.3L272.2,240.5L272.5,239.8L272.8,239L273.1,238.2L273.4,237.5L273.7,236.7L274,236L274.3,235.2L274.6,234.4L274.9,233.5L275.2,232.6L275.5,231.7L275.8,230.7L276.1,229.8L276.4,228.9L276.7,228L277,227.3L277.3,226.6L277.6,226L277.9,225.5L278.2,225.1L278.5,224.9L278.8,224.9L279.1,225.4L279.4,226.3L279.7,227.7L280,229.4L280.3,231.5L280.6,233.9L280.9,236.6L281.2,239.4L281.5,242.4L281.8,245.6L282.1,248.8L282.4,252L282.7,255.2L283,258.4L283.3,261.4L283.6,264.2L283.9,266.9L284.2,269.3L284.5,271.4L284.8,273.1L285.1,274.5L285.4,275.4L285.7,275.9L286,275.8L286.3,275.5L286.6,275L286.9,274.2L287.2,273.2L287.5,272L287.8,270.6L288.1,269L288.4,267.3L288.7,265.4L289,263.4L289.3,261.3L289.6,259L289.9,256.7L290.2,254.3L290.5,251.9L290.8,249.4L291.1,246.9L291.4,244.4L291.7,241.8L292,239.3L292.3,236.8L292.6,234.4L292.9,232L293.2,229.7L293.5,227.4L293.8,225.3L294.1,223.3L294.4,221.4L294.7,219.7L295,218.1L295.3,216.7L295.6,215.5L295.9,214.5L296.2,213.7L296.5,213.2L296.8,212.9L297.1,212.8L297.4,213.2L297.7,213.9L298,215.1L298.3,216.5L298.6,218.3L298.9,220.4L299.2,222.8L299.5,225.4L299.8,228.2L300.1,231.2L300.4,234.3L300.7,237.6L301,241L301.3,244.5L301.6,248.1L301.9,251.7L302.2,255.2L302.5,258.8L302.8,262.3L303.1,265.8L303.4,269.1L303.7,272.3L304,275.4L304.3,278.2L304.6,280.9L304.9,283.3L305.2,285.5L305.5,287.4L305.8,289L306.1,290.2L306.4,291.1L306.7,291.6L307,291.7L307.3,291.4L307.6,290.8L307.9,289.9L308.2,288.6L308.5,287.2L308.8,285.5L309.1,283.6L309.4,281.4L309.7,279.2L310,276.7L310.3,274.2L310.6,271.5L310.9,268.8L311.2,265.9L311.5,263.1L311.8,260.2L312.1,257.4L312.4,254.6L312.7,251.8L313,249.1L313.3,246.5L313.6,244L313.9,241.7L314.2,239.5L314.5,237.5L314.8,235.8L315.1,234.2L315.4,232.9L315.7,231.9L316,231.2L316.3,230.8L316.6,230.7L316.9,231L317.2,231.7L317.5,232.7L317.8,234.1L318.1,235.7L318.4,237.5L318.7,239.5L319,241.8L319.3,244.2L319.6,246.7L319.9,249.4L320.2,252.1L320.5,254.8L320.8,257.6L321.1,260.3L321.4,263L321.7,265.7L322,268.2L322.3,270.6L322.6,272.9L322.9,274.9L323.2,276.7L323.5,278.3L323.8,279.7L324.1,280.7L324.4,281.4L324.7,281.7L325,281.7L325.3,281.6L325.6,281.5L325.9,281.3L326.2,281L326.5,280.7L326.8,280.3L327.1,279.9L327.4,279.5L327.7,279.1L328,278.6L328.3,278.1L328.6,277.5L328.9,277L329.2,276.5L329.5,275.9L329.8,275.4L330.1,274.8L330.4,274.2L330.7,273.4L331,272.6L331.3,271.6L331.6,270.6L331.9,269.6L332.2,268.5L332.5,267.3L332.8,266.1L333.1,265L333.4,263.8L333.7,262.6L334,261.4L334.3,260.3L334.6,259.3L334.9,258.3L335.2,257.3L335.5,256.5L335.8,255.7L336.1,255.1L336.4,254.6L336.7,254.2L337,253.9L337.3,253.6L337.6,253.3L337.9,253.1L338.2,252.8L338.5,252.6L338.8,252.5L339.1,252.3L339.4,252.1L339.7,252L340,251.8L340.3,251.7L340.6,251.5L340.9,251.4L341.2,251.2L341.5,251L341.8,250.8L342.1,250.5L342.4,250.3L342.7,250L343,249.6L343.3,249.3L343.6,248.8L343.9,248.1L344.2,247.4L344.5,246.5L344.8,245.6L345.1,244.6L345.4,243.6L345.7,242.5L346,241.4L346.3,240.4L346.6,239.3L346.9,238.3L347.2,237.3L347.5,236.2L347.8,235L348.1,233.6L348.4,232.3L348.7,230.9L349,229.6L349.3,228.3L349.6,227.1L349.9,226.1L350.2,225.2L350.5,224.6L350.8,224.1L351.1,224L351.4,224.2L351.7,224.7L352,225.5L352.3,226.5L352.6,227.9L352.9,229.4L353.2,231.2L353.5,233.1L353.8,235.2L354.1,237.5L354.4,239.8L354.7,242.2L355,244.7L355.3,247.2L355.6,249.8L355.9,252.3L356.2,254.8L356.5,257.2L356.8,259.5L357.1,261.8L357.4,263.9L357.7,265.8L358,267.6L358.3,269.1L358.6,270.5L358.9,271.5L359.2,272.3L359.5,272.8L359.8,273L360.1,272.9L360.4,272.4L360.7,271.8L361,270.9L361.3,269.7L361.6,268.4L361.9,266.8L362.2,265.1L362.5,263.2L362.8,261.2L363.1,259L363.4,256.8L363.7,254.4L364,252L364.3,249.5L364.6,246.9L364.9,244.3L365.2,241.7L365.5,239.1L365.8,236.5L366.1,233.9L366.4,231.4L366.7,229L367,226.6L367.3,224.4L367.6,222.2L367.9,220.2L368.2,218.3L368.5,216.6L368.8,215L369.1,213.7L369.4,212.5L369.7,211.6L370,211L370.3,210.5L370.6,210.4L370.9,210.6L371.2,211.1L371.5,212L371.8,213.3L372.1,214.8L372.4,216.6L372.7,218.7L373,221L373.3,223.5L373.6,226.2L373.9,229.1L374.2,232.1L374.5,235.3L374.8,238.6L375.1,241.9L375.4,245.3L375.7,248.8L376,252.3L376.3,255.8L376.6,259.3L376.9,262.7L377.2,266L377.5,269.3L377.8,272.5L378.1,275.5L378.4,278.4L378.7,281.1L379,283.6L379.3,285.9L379.6,288L379.9,289.8L380.2,291.3L380.5,292.6L380.8,293.5L381.1,294L381.4,294.2L381.7,294.1L382,293.7L382.3,293.1L382.6,292.3L382.9,291.3L383.2,290.2L383.5,288.8L383.8,287.3L384.1,285.6L384.4,283.9L384.7,281.9L385,279.9L385.3,277.8L385.6,275.6L385.9,273.3L386.2,271L386.5,268.7L386.8,266.3L387.1,263.9L387.4,261.4L387.7,259L388,256.6L388.3,254.3L388.6,252L388.9,249.7L389.2,247.6L389.5,245.5L389.8,243.5L390.1,241.6L390.4,239.9L390.7,238.3L391,236.8L391.3,235.5L391.6,234.4L391.9,233.5L392.2,232.7L392.5,232.2L392.8,232L393.1,231.9L393.4,232.3L393.7,233L394,234.1L394.3,235.6L394.6,237.3L394.9,239.3L395.2,241.5L395.5,243.9L395.8,246.5L396.1,249.2L396.4,252.1L396.7,254.9L397,257.8L397.3,260.8L397.6,263.6L397.9,266.5L398.2,269.2L398.5,271.8L398.8,274.2L399.1,276.4L399.4,278.4L399.7,280.1L400,281.6L400.3,282.7L400.6,283.4L400.9,283.8L401.2,283.8L401.5,283.5L401.8,283.2L402.1,282.7L402.4,282L402.7,281.2L403,280.4L403.3,279.4L403.6,278.4L403.9,277.4L404.2,276.3L404.5,275.2L404.8,274.1L405.1,273L405.4,271.9L405.7,270.9L406,270L406.3,269.1L406.6,268L406.9,266.9L407.2,265.8L407.5,264.6L407.8,263.5L408.1,262.3L408.4,261.2L408.7,260.2L409,259.3L409.3,258.4L409.6,257.7L409.9,257.1L410.2,256.7L410.5,256.3L410.8,255.9L411.1,255.5L411.4,255.2L411.7,254.8L412,254.5L412.3,254.2L412.6,253.9L412.9,253.6L413.2,253.4L413.5,253.2L413.8,253L414.1,252.9L414.4,252.8L414.7,252.7L415,252.7L415.3,252.7L415.6,252.7L415.9,252.7L416.2,252.7L416.5,252.7L416.8,252.7L417.1,252.7L417.4,252.7L417.7,252.7L418,252.7L418.3,252.7L418.6,252.7L418.9,252.7L419.2,252.7L419.5,252.7L419.8,252.7L420.1,252.7L420.4,252.7L420.7,252.7L421,252.7L421.3,252.7L421.6,252.7L421.9,252.7L422.2,252.7L422.5,252.7L422.8,252.7L423.1,252.7L423.4,252.7L423.7,252.7L424,252.7L424.3,252.7L424.6,252.7L424.9,252.7L425.2,252.7L425.5,252.7L425.8,252.7L426.1,252.7L426.4,252.7L426.7,252.7L427,252.7L427.3,252.7L427.6,252.7L427.9,252.7L428.2,252.7L428.5,252.7L428.8,252.7L429.1,252.7L429.4,252.7L429.7,252.7L430,252.7L430.3,252.7L430.6,252.7L430.9,252.7L431.2,252.7L431.5,252.7L431.8,252.7L432.1,252.7L432.4,252.7L432.7,252.7L433,252.7L433.3,252.7L433.6,252.6L433.9,252.5L434.2,252.4L434.5,252.2L434.8,252L435.1,251.8L435.4,251.6L435.7,251.3L436,251L436.3,250.7L436.6,250.4L436.9,250.1L437.2,249.8L437.5,249.3L437.8,248.7L438.1,248.1L438.4,247.4L438.7,246.6L439,245.7L439.3,244.9L439.6,244L439.9,243.1L440.2,242.2L440.5,241.3L440.8,240.5L441.1,239.7L441.4,238.9L441.7,238L442,237.1L442.3,236.1L442.6,235.1L442.9,234.1L443.2,233L443.5,232L443.8,231L444.1,230L444.4,229.1L444.7,228.2L445,227.4L445.3,226.7L445.6,226L445.9,225.5L446.2,225L446.5,224.7L446.8,224.5L447.1,224.5L447.4,224.7L447.7,225.1L448,225.8L448.3,226.6L448.6,227.6L448.9,228.8L449.2,230.1L449.5,231.6L449.8,233.2L450.1,234.9L450.4,236.7L450.7,238.5L451,240.5L451.3,242.5L451.6,244.5L451.9,246.6L452.2,248.7L452.5,250.8L452.8,252.8L453.1,254.9L453.4,256.9L453.7,258.8L454,260.6L454.3,262.4L454.6,264.1L454.9,265.6L455.2,267.1L455.5,268.3L455.8,269.5L456.1,270.4L456.4,271.2L456.7,271.7L457,272.1L457.3,272.2L457.6,272.1L457.9,271.6L458.2,271L458.5,270.1L458.8,268.9L459.1,267.6L459.4,266.1L459.7,264.5L460,262.7L460.3,260.8L460.6,258.8L460.9,256.8L461.2,254.7L461.5,252.5L461.8,250.3L462.1,248.2L462.4,246L462.7,243.9L463,241.9L463.3,239.9L463.6,238.1L463.9,236.3L464.2,234.7L464.5,233.3L464.8,232.1L465.1,231L465.4,230.2L465.7,229.6L466,229.3L466.3,229.2L466.6,229.6L466.9,230.3L467.2,231.4L467.5,232.9L467.8,234.6L468.1,236.6L468.4,238.9L468.7,241.3L469,243.9L469.3,246.7L469.6,249.5L469.9,252.4L470.2,255.3L470.5,258.3L470.8,261.2L471.1,264L471.4,266.8L471.7,269.4L472,271.8L472.3,274.1L472.6,276.1L472.9,277.8L473.2,279.3L473.5,280.4L473.8,281.1L474.1,281.5L474.4,281.5L474.7,281.4L475,281.2L475.3,280.9L475.6,280.6L475.9,280.2L476.2,279.8L476.5,279.3L476.8,278.8L477.1,278.2L477.4,277.6L477.7,277L478,276.3L478.3,275.7L478.6,275L478.9,274.3L479.2,273.7L479.5,273L479.8,272.4L480.1,271.8L480.4,271.1L480.7,270.5L481,269.7L481.3,268.9L481.6,268.1L481.9,267.3L482.2,266.5L482.5,265.7L482.8,264.9L483.1,264.1L483.4,263.4L483.7,262.7L484,262L484.3,261.3L484.6,260.6L484.9,259.9L485.2,259.2L485.5,258.4L485.8,257.7L486.1,256.9L486.4,256.2L486.7,255.6L487,254.9L487.3,254.4L487.6,253.9L487.9,253.4L488.2,253.1L488.5,252.9L488.8,252.7L489.1,252.7L489.4,252.7L489.7,252.7L490,252.7L490.3,252.7L490.6,252.7L490.9,252.7L491.2,252.7L491.5,252.7L491.8,252.7L492.1,252.7L492.4,252.7L492.7,252.7L493,252.7L493.3,252.7L493.6,252.7L493.9,252.7L494.2,252.7L494.5,252.7L494.8,252.7L495.1,252.7L495.4,252.7L495.7,252.7L496,252.7L496.3,252.7L496.6,252.7L496.9,252.7L497.2,252.7L497.5,252.7L497.8,252.7L498.1,252.7L498.4,252.7L498.7,252.7L499,252.7L499.3,252.7L499.6,252.7L499.9,252.7L500.2,252.7L500.5,252.7L500.8,252.7L501.1,252.7L501.4,252.7L501.7,252.7L502,252.7L502.3,252.7L502.6,252.7L502.9,252.7L503.2,252.7L503.5,252.7L503.8,252.7L504.1,252.7L504.4,252.7L504.7,252.7L505,252.7L505.3,252.7L505.6,252.7L505.9,252.7L506.2,252.7L506.5,252.7L506.8,252.7L507.1,252.7L507.4,252.7L507.7,252.7L508,252.7L508.3,252.7L508.6,252.7L508.9,252.7L509.2,252.7L509.5,252.7L509.8,252.7L510.1,252.7L510.4,252.7L510.7,252.7L511,252.7L511.3,252.7L511.6,252.7L511.9,252.7L512.2,252.7L512.5,252.7L512.8,252.7L513.1,252.7L513.4,252.7L513.7,252.7L514,252.7L514.3,252.7L514.6,252.7L514.9,252.7L515.2,252.7L515.5,252.7L515.8,252.7L516.1,252.7L516.4,252.7L516.7,252.7L517,252.7L517.3,252.7L517.6,252.7L517.9,252.7L518.2,252.7L518.5,252.7L518.8,252.7L519.1,252.7L519.4,252.7L519.7,252.7L520,252.7L520.3,252.7L520.6,252.7L520.9,252.7L521.2,252.7L521.5,252.7L521.8,252.7L522.1,252.7L522.4,252.7L522.7,252.7L523,252.7L523.3,252.7L523.6,252.7L523.9,252.7L524.2,252.7L524.5,252.7L524.8,252.7L525.1,252.7L525.4,252.7L525.7,252.7L526,252.7L526.3,252.7L526.6,252.7L526.9,252.7L527.2,252.7L527.5,252.7L527.8,252.7L528.1,252.7L528.4,252.7L528.7,252.7L529,252.7L529.3,252.7L529.6,252.7L529.9,252.7L530.2,252.7L530.5,252.7L530.8,252.7L531.1,252.7L531.4,252.7L531.7,252.7L532,252.7L532.3,252.7L532.6,252.7L532.9,252.7L533.2,252.7L533.5,252.7L533.8,252.7L534.1,252.7L534.4,252.7L534.7,252.7L535,252.7L535.3,252.7L535.6,252.7L535.9,252.7L536.2,252.7L536.5,252.7L536.8,252.7L537.1,252.7L537.4,252.7L537.7,252.7L538,252.7L538.3,252.7L538.6,252.7L538.9,252.7L539.2,252.7L539.5,252.7L539.8,252.7L540.1,252.7L540.4,252.7L540.7,252.7L541,252.7L541.3,252.7L541.6,252.7L541.9,252.7L542.2,252.7L542.5,252.7L542.8,252.7L543.1,252.7L543.4,252.7L543.7,252.7L544,252.7L544.3,252.7L544.6,252.7L544.9,252.7L545.2,252.7L545.5,252.7L545.8,252.7L546.1,252.7L546.4,252.7L546.7,252.7L547,252.7L547.3,252.7L547.6,252.7L547.9,252.7L548.2,252.7L548.5,252.7L548.8,252.7L549.1,252.7L549.4,252.7L549.7,252.7L550,252.7L550.3,252.7L550.6,252.7L550.9,252.7L551.2,252.7L551.5,252.7L551.8,252.7L552.1,252.7L552.4,252.7L552.7,252.7L553,252.7L553.3,252.7L553.6,252.7L553.9,252.7L554.2,252.7L554.5,252.7L554.8,252.7L555.1,252.7L555.4,252.7L555.7,252.7L556,252.7L556.3,252.7L556.6,252.7L556.9,252.7L557.2,252.7L557.5,252.7L557.8,252.7L558.1,252.7L558.4,252.7L558.7,252.7L559,252.7L559.3,252.7L559.6,252.7L559.9,252.7L560.2,252.7L560.5,252.7L560.8,252.7L561.1,252.7L561.4,252.7L561.7,252.7L562,252.7L562.3,252.7L562.6,252.7L562.9,252.7L563.2,252.7L563.5,252.7L563.8,252.7L564.1,252.7L564.4,252.7L564.7,252.7L565,252.7L565.3,252.7L565.6,252.7L565.9,252.7L566.2,252.7L566.5,252.7L566.8,252.7L567.1,252.7L567.4,252.7L567.7,252.7L568,252.7L568.3,252.7L568.6,252.7L568.9,252.7L569.2,252.7L569.5,252.7L569.8,252.7L570.1,252.7L570.4,252.7L570.7,252.7L571,252.7L571.3,252.7L571.6,252.7L571.9,252.7L572.2,252.7L572.5,252.7L572.8,252.7L573.1,252.7L573.4,252.7L573.7,252.7L574,252.7L574.3,252.7L574.6,252.7L574.9,252.7L575.2,252.7L575.5,252.7L575.8,252.7L576.1,252.7L576.4,252.7L576.7,252.7L577,252.7L577.3,252.7L577.6,252.7L577.9,252.7L578.2,252.7L578.5,252.7L578.8,252.7L579.1,252.7L579.4,252.7L579.7,252.7L580,252.7L580.3,252.7L580.6,252.7L580.9,252.7L581.2,252.7L581.5,252.7L581.8,252.7L582.1,252.7L582.4,252.7L582.7,252.7L583,252.7L583.3,252.7L583.6,252.7L583.9,252.7L584.2,252.7L584.5,252.7L584.8,252.7L585.1,252.7L585.4,252.7L585.7,252.7L586,252.7L586.3,252.7L586.6,252.7L586.9,252.7L587.2,252.7L587.5,252.7L587.8,252.7L588.1,252.7L588.4,252.7L588.7,252.7L589,252.7L589.3,252.7L589.6,252.7L589.9,252.7L590.2,252.7L590.5,252.7L590.8,252.7L591.1,252.7L591.4,252.7L591.7,252.7L592,252.7L592.3,252.7L592.6,252.7L592.9,252.7L593.2,252.7L593.5,252.7L593.8,252.7L594.1,252.7L594.4,252.7L594.7,252.7L595,252.7L595.3,252.7L595.6,252.7L595.9,252.7L596.2,252.7L596.5,252.7L596.8,252.7L597.1,252.7L597.4,252.7L597.7,252.7L598,252.7L598.3,252.7L598.6,252.7L598.9,252.7L599.2,252.7L599.5,252.7L599.8,252.7L600.1,252.7L600.4,252.7L600.7,252.7L601,252.7L601.3,252.7L601.6,252.7L601.9,252.7L602.2,252.7L602.5,252.7L602.8,252.7L603.1,252.7L603.4,252.7L603.7,252.7L604,252.7" fill="none" stroke="#0000ff" stroke-width="4.6" stroke-linecap="round" stroke-dasharray="0 8.7" stroke-dashoffset="0.5"/>
<path d="M79,334.9L79.3,334.9L79.6,334.9L79.9,334.9L80.2,334.9L80.5,334.9L80.8,334.9L81.1,334.9L81.4,334.9L81.7,334.9L82,334.9L82.3,334.9L82.6,334.9L82.9,334.9L83.2,334.9L83.5,334.9L83.8,334.9L84.1,334.9L84.4,334.9L84.7,334.9L85,334.9L85.3,334.9L85.6,334.9L85.9,334.9L86.2,334.9L86.5,334.9L86.8,334.9L87.1,334.9L87.4,334.9L87.7,334.9L88,334.9L88.3,334.9L88.6,334.9L88.9,334.9L89.2,334.9L89.5,334.9L89.8,334.9L90.1,334.9L90.4,334.9L90.7,334.9L91,334.9L91.3,334.9L91.6,334.9L91.9,334.9L92.2,334.9L92.5,334.9L92.8,334.9L93.1,334.9L93.4,334.9L93.7,334.9L94,334.9L94.3,334.9L94.6,334.9L94.9,334.9L95.2,334.9L95.5,334.9L95.8,334.9L96.1,334.9L96.4,334.9L96.7,334.9L97,334.9L97.3,334.9L97.6,334.9L97.9,334.9L98.2,334.9L98.5,334.9L98.8,334.9L99.1,334.9L99.4,334.9L99.7,334.9L100,334.9L100.3,334.9L100.6,334.9L100.9,334.9L101.2,334.9L101.5,334.9L101.8,334.9L102.1,334.9L102.4,334.9L102.7,334.9L103,334.9L103.3,334.9L103.6,334.9L103.9,334.9L104.2,334.9L104.5,334.9L104.8,334.9L105.1,334.9L105.4,334.9L105.7,334.9L106,334.9L106.3,334.9L106.6,334.9L106.9,334.9L107.2,334.9L107.5,334.9L107.8,334.9L108.1,334.9L108.4,334.9L108.7,334.9L109,334.9L109.3,334.9L109.6,334.9L109.9,334.9L110.2,334.9L110.5,334.9L110.8,334.9L111.1,334.9L111.4,334.9L111.7,334.9L112,334.9L112.3,334.9L112.6,334.9L112.9,334.9L113.2,334.9L113.5,334.9L113.8,334.9L114.1,334.9L114.4,334.9L114.7,334.9L115,334.9L115.3,334.9L115.6,334.9L115.9,334.9L116.2,334.9L116.5,334.9L116.8,334.9L117.1,334.9L117.4,334.9L117.7,334.9L118,334.9L118.3,334.9L118.6,334.9L118.9,334.9L119.2,334.9L119.5,334.9L119.8,334.9L120.1,334.9L120.4,334.9L120.7,334.9L121,334.9L121.3,334.9L121.6,334.9L121.9,334.9L122.2,334.9L122.5,334.9L122.8,334.9L123.1,334.9L123.4,334.9L123.7,334.9L124,334.9L124.3,334.9L124.6,334.9L124.9,334.9L125.2,334.9L125.5,334.9L125.8,334.9L126.1,334.9L126.4,334.9L126.7,334.9L127,334.9L127.3,334.9L127.6,334.9L127.9,334.9L128.2,334.9L128.5,334.9L128.8,334.9L129.1,334.9L129.4,334.9L129.7,334.9L130,334.9L130.3,334.9L130.6,334.9L130.9,334.9L131.2,334.9L131.5,334.9L131.8,334.9L132.1,334.9L132.4,334.9L132.7,334.9L133,334.9L133.3,334.9L133.6,334.9L133.9,334.9L134.2,334.9L134.5,334.9L134.8,334.9L135.1,334.9L135.4,334.9L135.7,334.9L136,334.9L136.3,334.9L136.6,334.9L136.9,334.9L137.2,334.9L137.5,334.9L137.8,334.9L138.1,334.9L138.4,334.9L138.7,334.9L139,334.9L139.3,334.9L139.6,334.9L139.9,334.9L140.2,334.9L140.5,334.9L140.8,334.9L141.1,334.9L141.4,334.9L141.7,334.9L142,334.9L142.3,334.9L142.6,334.9L142.9,334.9L143.2,334.9L143.5,334.9L143.8,334.9L144.1,334.9L144.4,334.9L144.7,334.9L145,334.9L145.3,334.9L145.6,334.9L145.9,334.9L146.2,334.9L146.5,334.9L146.8,334.9L147.1,334.9L147.4,334.9L147.7,334.9L148,334.9L148.3,334.9L148.6,334.9L148.9,334.9L149.2,334.9L149.5,334.9L149.8,334.9L150.1,334.9L150.4,334.9L150.7,334.9L151,334.9L151.3,334.9L151.6,334.9L151.9,334.9L152.2,334.9L152.5,334.9L152.8,334.9L153.1,334.9L153.4,334.9L153.7,334.9L154,334.9L154.3,334.9L154.6,334.9L154.9,334.9L155.2,334.9L155.5,334.9L155.8,334.9L156.1,334.9L156.4,334.9L156.7,334.9L157,334.9L157.3,334.9L157.6,334.9L157.9,334.9L158.2,334.9L158.5,334.9L158.8,334.9L159.1,334.9L159.4,334.9L159.7,334.9L160,334.9L160.3,334.9L160.6,334.9L160.9,334.9L161.2,334.9L161.5,334.9L161.8,334.9L162.1,334.9L162.4,334.9L162.7,334.9L163,334.9L163.3,334.9L163.6,334.9L163.9,334.9L164.2,334.9L164.5,334.9L164.8,334.9L165.1,334.9L165.4,334.9L165.7,334.9L166,334.9L166.3,334.9L166.6,334.9L166.9,334.9L167.2,334.9L167.5,334.9L167.8,334.9L168.1,334.9L168.4,334.9L168.7,334.9L169,334.9L169.3,334.9L169.6,334.9L169.9,334.9L170.2,334.9L170.5,334.9L170.8,334.9L171.1,334.9L171.4,334.9L171.7,334.9L172,334.9L172.3,334.9L172.6,334.9L172.9,334.9L173.2,334.9L173.5,334.9L173.8,334.9L174.1,334.9L174.4,334.9L174.7,334.9L175,334.9L175.3,334.9L175.6,334.9L175.9,334.9L176.2,334.9L176.5,334.9L176.8,334.9L177.1,334.9L177.4,334.9L177.7,334.9L178,334.9L178.3,334.9L178.6,334.9L178.9,334.9L179.2,334.9L179.5,334.9L179.8,334.9L180.1,334.9L180.4,334.9L180.7,334.9L181,334.9L181.3,334.9L181.6,334.9L181.9,334.9L182.2,334.9L182.5,334.9L182.8,334.9L183.1,334.9L183.4,334.9L183.7,334.9L184,334.9L184.3,334.9L184.6,334.9L184.9,334.9L185.2,334.9L185.5,334.9L185.8,334.9L186.1,334.9L186.4,334.9L186.7,334.9L187,334.9L187.3,334.9L187.6,334.9L187.9,334.9L188.2,334.9L188.5,334.9L188.8,334.9L189.1,334.9L189.4,334.9L189.7,334.9L190,334.9L190.3,334.9L190.6,334.9L190.9,334.9L191.2,334.9L191.5,334.9L191.8,334.9L192.1,334.9L192.4,334.9L192.7,334.9L193,334.9L193.3,334.9L193.6,334.9L193.9,334.9L194.2,334.9L194.5,334.9L194.8,334.9L195.1,334.9L195.4,334.9L195.7,334.9L196,334.9L196.3,334.9L196.6,334.9L196.9,334.9L197.2,334.9L197.5,334.9L197.8,334.9L198.1,334.9L198.4,334.9L198.7,334.9L199,335L199.3,335L199.6,335L199.9,335L200.2,335L200.5,335L200.8,335L201.1,335L201.4,335L201.7,335L202,335L202.3,335L202.6,335L202.9,335L203.2,335L203.5,335L203.8,335L204.1,335L204.4,335L204.7,335L205,335L205.3,335L205.6,335L205.9,335L206.2,335L206.5,335L206.8,335L207.1,335L207.4,335L207.7,335L208,335L208.3,335L208.6,335L208.9,335L209.2,335L209.5,335L209.8,335L210.1,335L210.4,335L210.7,335L211,335L211.3,335L211.6,335L211.9,335L212.2,335L212.5,335L212.8,335L213.1,335L213.4,335L213.7,335L214,335L214.3,335L214.6,335L214.9,335L215.2,335L215.5,335L215.8,335L216.1,335L216.4,335L216.7,335L217,335L217.3,335L217.6,335L217.9,335L218.2,335L218.5,335L218.8,335L219.1,335L219.4,335L219.7,335L220,335L220.3,335L220.6,335L220.9,335L221.2,335L221.5,335L221.8,335L222.1,335L222.4,335L222.7,335L223,335L223.3,335L223.6,335L223.9,335L224.2,335L224.5,335L224.8,335L225.1,335L225.4,335L225.7,335L226,335L226.3,335L226.6,335L226.9,335L227.2,335L227.5,335L227.8,335L228.1,335L228.4,335L228.7,335L229,335L229.3,335L229.6,335L229.9,335L230.2,335L230.5,335L230.8,335L231.1,335L231.4,335L231.7,335L232,335L232.3,335L232.6,335L232.9,335L233.2,335.1L233.5,335.1L233.8,335.1L234.1,335.1L234.4,335.1L234.7,335.2L235,335.2L235.3,335.2L235.6,335.2L235.9,335.2L236.2,335.2L236.5,335.1L236.8,335.1L237.1,335.1L237.4,335L237.7,334.9L238,334.8L238.3,334.8L238.6,334.7L238.9,334.5L239.2,334.4L239.5,334.3L239.8,334.2L240.1,334L240.4,333.9L240.7,333.7L241,333.5L241.3,333.3L241.6,333.2L241.9,333L242.2,332.7L242.5,332.4L242.8,331.9L243.1,331.4L243.4,330.8L243.7,330.1L244,329.3L244.3,328.5L244.6,327.6L244.9,326.8L245.2,325.9L245.5,325L245.8,324.1L246.1,323.1L246.4,322.1L246.7,320.9L247,319.7L247.3,318.5L247.6,317.3L247.9,316L248.2,314.7L248.5,313.3L248.8,311.8L249.1,310.4L249.4,308.9L249.7,307.4L250,305.7L250.3,303.9L250.6,302.2L250.9,300.9L251.2,300.4L251.5,300.1L251.8,299.8L252.1,299.6L252.4,299.4L252.7,299.3L253,299.2L253.3,299.2L253.6,299.3L253.9,299.4L254.2,299.6L254.5,299.8L254.8,300.1L255.1,300.4L255.4,300.9L255.7,301.6L256,303.4L256.3,305.9L256.6,308.5L256.9,310.7L257.2,312.8L257.5,314.9L257.8,317.1L258.1,319.3L258.4,321.6L258.7,324.1L259,326.6L259.3,328.9L259.6,330.5L259.9,332L260.2,333.4L260.5,334.4L260.8,335L261.1,335L261.4,335L261.7,334.9L262,334.9L262.3,334.9L262.6,334.8L262.9,334.7L263.2,334.7L263.5,334.6L263.8,334.5L264.1,334.3L264.4,334.1L264.7,334L265,333.8L265.3,333.8L265.6,333.9L265.9,334.1L266.2,334.5L266.5,335L266.8,335.6L267.1,336.2L267.4,336.8L267.7,337.4L268,338.2L268.3,339.1L268.6,340.1L268.9,341.2L269.2,342.4L269.5,343.7L269.8,345L270.1,346.5L270.4,348.2L270.7,350L271,351.9L271.3,353.8L271.6,355.6L271.9,357.4L272.2,359.2L272.5,361L272.8,362.7L273.1,364.4L273.4,366.2L273.7,368.3L274,370.4L274.3,372.1L274.6,373.3L274.9,373.5L275.2,373.5L275.5,373.5L275.8,373.4L276.1,373.4L276.4,373.3L276.7,373.3L277,373.2L277.3,373.1L277.6,373L277.9,372.5L278.2,371.4L278.5,369.8L278.8,368L279.1,366.2L279.4,364.5L279.7,363.1L280,361.8L280.3,360.4L280.6,359.1L280.9,357.8L281.2,356.4L281.5,355L281.8,353.4L282.1,351.7L282.4,350L282.7,348.3L283,346.9L283.3,345.6L283.6,344.4L283.9,343.3L284.2,342.3L284.5,341.3L284.8,340.4L285.1,339.7L285.4,339.1L285.7,338.7L286,338.4L286.3,338L286.6,337.6L286.9,337.3L287.2,337L287.5,336.7L287.8,336.4L288.1,336.2L288.4,336L288.7,335.8L289,335.6L289.3,335.5L289.6,335.4L289.9,335.3L290.2,335.2L290.5,335.2L290.8,335.2L291.1,335.2L291.4,335.2L291.7,335.1L292,335.1L292.3,335.1L292.6,335.1L292.9,335.1L293.2,335.1L293.5,335.1L293.8,335.1L294.1,335.1L294.4,335L294.7,335L295,335L295.3,335L295.6,335L295.9,335L296.2,335L296.5,335L296.8,335L297.1,335L297.4,335L297.7,335L298,335L298.3,335L298.6,335L298.9,335L299.2,335L299.5,335L299.8,335L300.1,335L300.4,335L300.7,335L301,335L301.3,334.9L301.6,334.9L301.9,334.9L302.2,334.9L302.5,334.9L302.8,334.9L303.1,334.9L303.4,334.9L303.7,334.9L304,334.9L304.3,334.9L304.6,334.9L304.9,334.9L305.2,334.9L305.5,334.9L305.8,334.9L306.1,334.9L306.4,334.8L306.7,334.8L307,334.8L307.3,334.8L307.6,334.8L307.9,334.8L308.2,334.8L308.5,334.8L308.8,334.7L309.1,334.7L309.4,334.7L309.7,334.7L310,334.7L310.3,334.7L310.6,334.6L310.9,334.6L311.2,334.6L311.5,334.6L311.8,334.5L312.1,334.5L312.4,334.5L312.7,334.4L313,334.4L313.3,334.3L313.6,334.3L313.9,334.2L314.2,334.2L314.5,334.1L314.8,334.1L315.1,334L315.4,333.9L315.7,333.8L316,333.6L316.3,333.4L316.6,333L316.9,332.6L317.2,332.1L317.5,331.7L317.8,331.2L318.1,330.7L318.4,330.2L318.7,329.7L319,329.2L319.3,328.7L319.6,328.2L319.9,327.6L320.2,326.9L320.5,326.1L320.8,325.1L321.1,323.9L321.4,322.6L321.7,321.1L322,319.5L322.3,317.9L322.6,316.1L322.9,314.1L323.2,312.1L323.5,310.3L323.8,308.7L324.1,307.3L324.4,305.8L324.7,304.4L325,303.2L325.3,302.1L325.6,301.2L325.9,300.6L326.2,300.3L326.5,300L326.8,299.7L327.1,299.4L327.4,299.2L327.7,299L328,298.8L328.3,298.6L328.6,298.5L328.9,298.4L329.2,298.3L329.5,298.3L329.8,298.5L330.1,299.5L330.4,301L330.7,302.9L331,304.9L331.3,306.8L331.6,308.5L331.9,310.1L332.2,311.7L332.5,313.5L332.8,315.6L333.1,318.3L333.4,321.5L333.7,324.3L334,326.7L334.3,328.9L334.6,330.9L334.9,332.4L335.2,333.2L335.5,333.7L335.8,334.2L336.1,334.7L336.4,335L336.7,335.4L337,335.7L337.3,336L337.6,336.2L337.9,336.3L338.2,336.5L338.5,336.6L338.8,336.6L339.1,336.7L339.4,336.7L339.7,336.7L340,336.7L340.3,336.7L340.6,336.8L340.9,336.8L341.2,336.8L341.5,336.8L341.8,336.8L342.1,336.8L342.4,336.8L342.7,336.9L343,336.9L343.3,336.9L343.6,337L343.9,337.1L344.2,338.5L344.5,340.8L344.8,343.4L345.1,345.7L345.4,347.5L345.7,349.2L346,351L346.3,352.7L346.6,354.5L346.9,356.5L347.2,358.6L347.5,360.6L347.8,362.4L348.1,364.1L348.4,366L348.7,367.8L349,369.4L349.3,370.6L349.6,371.3L349.9,371.3L350.2,371.3L350.5,371.3L350.8,371.3L351.1,371.3L351.4,371.2L351.7,371.2L352,371.2L352.3,371.1L352.6,371.1L352.9,370.8L353.2,370.1L353.5,369L353.8,367.6L354.1,366.2L354.4,364.6L354.7,363.2L355,361.9L355.3,360.6L355.6,359.2L355.9,357.9L356.2,356.5L356.5,355L356.8,353.6L357.1,352.1L357.4,350.4L357.7,348.8L358,347.2L358.3,345.8L358.6,344.8L358.9,343.8L359.2,342.9L359.5,342L359.8,341.2L360.1,340.5L360.4,339.8L360.7,339.2L361,338.8L361.3,338.4L361.6,338.1L361.9,337.9L362.2,337.7L362.5,337.5L362.8,337.3L363.1,337.1L363.4,336.9L363.7,336.7L364,336.5L364.3,336.3L364.6,336.2L364.9,336L365.2,335.9L365.5,335.8L365.8,335.6L366.1,335.5L366.4,335.4L366.7,335.3L367,335.2L367.3,335.2L367.6,335.1L367.9,335L368.2,335L368.5,335L368.8,334.9L369.1,334.9L369.4,334.9L369.7,334.9L370,334.9L370.3,334.9L370.6,334.9L370.9,334.9L371.2,334.9L371.5,334.9L371.8,334.9L372.1,334.9L372.4,334.9L372.7,334.9L373,334.9L373.3,334.9L373.6,334.9L373.9,334.9L374.2,334.9L374.5,334.9L374.8,334.9L375.1,334.9L375.4,334.9L375.7,334.9L376,334.9L376.3,334.9L376.6,334.9L376.9,334.9L377.2,334.9L377.5,334.9L377.8,334.9L378.1,334.9L378.4,334.9L378.7,334.9L379,334.9L379.3,334.9L379.6,334.9L379.9,334.9L380.2,334.9L380.5,334.9L380.8,334.9L381.1,334.9L381.4,334.9L381.7,334.9L382,334.9L382.3,334.9L382.6,334.9L382.9,334.9L383.2,334.9L383.5,334.9L383.8,334.9L384.1,334.9L384.4,334.9L384.7,334.9L385,334.9L385.3,334.9L385.6,334.9L385.9,334.9L386.2,334.9L386.5,334.9L386.8,334.9L387.1,334.9L387.4,334.9L387.7,334.9L388,334.8L388.3,334.7L388.6,334.6L388.9,334.5L389.2,334.4L389.5,334.2L389.8,334L390.1,333.8L390.4,333.6L390.7,333.4L391,333.2L391.3,332.9L391.6,332.6L391.9,332.3L392.2,332L392.5,331.7L392.8,331.4L393.1,331L393.4,330.7L393.7,330.3L394,329.9L394.3,329.4L394.6,328.7L394.9,327.8L395.2,326.9L395.5,325.8L395.8,324.7L396.1,323.5L396.4,322.4L396.7,321.4L397,320.3L397.3,319.2L397.6,318.1L397.9,317L398.2,315.8L398.5,314.6L398.8,313.3L399.1,311.9L399.4,310.3L399.7,308.7L400,307.1L400.3,305.6L400.6,304.3L400.9,302.9L401.2,301.5L401.5,300.1L401.8,298.8L402.1,297.8L402.4,297.1L402.7,296.9L403,297L403.3,297.2L403.6,297.6L403.9,298L404.2,298.6L404.5,299.3L404.8,300L405.1,300.8L405.4,301.6L405.7,302.5L406,303.4L406.3,304.5L406.6,305.8L406.9,307.3L407.2,309L407.5,310.7L407.8,312.5L408.1,314.3L408.4,316.2L408.7,318.3L409,320.6L409.3,323.5L409.6,326.8L409.9,329.2L410.2,330.8L410.5,332.2L410.8,333.5L411.1,334.7L411.4,335.6L411.7,336.2L412,336.5L412.3,336.5L412.6,336.3L412.9,336.1L413.2,335.8L413.5,335.5L413.8,335.1L414.1,334.8L414.4,334.6L414.7,334.4L415,334.2L415.3,334L415.6,333.8L415.9,333.6L416.2,333.4L416.5,333.3L416.8,333.2L417.1,333.1L417.4,333.1L417.7,333.3L418,333.8L418.3,334.6L418.6,335.7L418.9,336.9L419.2,338.3L419.5,339.8L419.8,341.3L420.1,343L420.4,345.2L420.7,347.8L421,350.3L421.3,353L421.6,355.7L421.9,358.2L422.2,359.9L422.5,361.4L422.8,362.7L423.1,363.8L423.4,364.9L423.7,366L424,367.2L424.3,368.6L424.6,370.2L424.9,371.7L425.2,373.1L425.5,374L425.8,374.4L426.1,374.3L426.4,374.1L426.7,373.7L427,373.1L427.3,372.5L427.6,371.8L427.9,371L428.2,370.1L428.5,369.2L428.8,368.2L429.1,367.3L429.4,366.3L429.7,365.1L430,363.7L430.3,362.1L430.6,360.5L430.9,359L431.2,357.5L431.5,355.9L431.8,354.3L432.1,352.7L432.4,351.2L432.7,349.9L433,348.7L433.3,347.6L433.6,346.5L433.9,345.4L434.2,344.5L434.5,343.6L434.8,342.8L435.1,342.2L435.4,341.6L435.7,341.2L436,340.7L436.3,340.2L436.6,339.8L436.9,339.3L437.2,338.9L437.5,338.5L437.8,338.1L438.1,337.7L438.4,337.4L438.7,337.1L439,336.8L439.3,336.5L439.6,336.2L439.9,336L440.2,335.8L440.5,335.6L440.8,335.5L441.1,335.4L441.4,335.3L441.7,335.3L442,335.3L442.3,335.3L442.6,335.3L442.9,335.3L443.2,335.3L443.5,335.3L443.8,335.3L444.1,335.3L444.4,335.3L444.7,335.3L445,335.3L445.3,335.3L445.6,335.3L445.9,335.3L446.2,335.3L446.5,335.3L446.8,335.3L447.1,335.3L447.4,335.3L447.7,335.3L448,335.3L448.3,335.3L448.6,335.3L448.9,335.3L449.2,335.3L449.5,335.3L449.8,335.3L450.1,335.3L450.4,335.3L450.7,335.3L451,335.3L451.3,335.3L451.6,335.3L451.9,335.3L452.2,335.3L452.5,335.3L452.8,335.2L453.1,335.2L453.4,335.2L453.7,335.2L454,335.2L454.3,335.2L454.6,335.2L454.9,335.2L455.2,335.2L455.5,335.2L455.8,335.2L456.1,335.2L456.4,335.2L456.7,335.2L457,335.2L457.3,335.2L457.6,335.2L457.9,335.2L458.2,335.2L458.5,335.2L458.8,335.2L459.1,335.2L459.4,335.2L459.7,335.2L460,335.2L460.3,335.2L460.6,335.2L460.9,335.2L461.2,335.2L461.5,335.2L461.8,335.2L462.1,335.2L462.4,335.2L462.7,335.2L463,335.2L463.3,335.2L463.6,335.2L463.9,335.2L464.2,335.2L464.5,335.2L464.8,335.2L465.1,335.2L465.4,335.2L465.7,335.2L466,335.2L466.3,335.2L466.6,335.2L466.9,335.2L467.2,335.2L467.5,335.2L467.8,335.2L468.1,335.2L468.4,335.2L468.7,335.2L469,335.2L469.3,335.2L469.6,335.2L469.9,335.2L470.2,335.2L470.5,335.2L470.8,335.2L471.1,335.2L471.4,335.2L471.7,335.2L472,335.2L472.3,335.2L472.6,335.2L472.9,335.2L473.2,335.2L473.5,335.2L473.8,335.2L474.1,335.2L474.4,335.2L474.7,335.2L475,335.2L475.3,335.2L475.6,335.2L475.9,335.2L476.2,335.2L476.5,335.2L476.8,335.2L477.1,335.2L477.4,335.2L477.7,335.2L478,335.2L478.3,335.2L478.6,335.2L478.9,335.2L479.2,335.2L479.5,335.2L479.8,335.2L480.1,335.2L480.4,335.2L480.7,335.2L481,335.2L481.3,335.2L481.6,335.2L481.9,335.2L482.2,335.2L482.5,335.2L482.8,335.2L483.1,335.2L483.4,335.2L483.7,335.2L484,335.2L484.3,335.2L484.6,335.2L484.9,335.2L485.2,335.2L485.5,335.2L485.8,335.2L486.1,335.2L486.4,335.2L486.7,335.2L487,335.2L487.3,335.2L487.6,335.2L487.9,335.2L488.2,335.2L488.5,335.3L488.8,335.5L489.1,335.7L489.4,336L489.7,336.3L490,336.6L490.3,336.8L490.6,337.1L490.9,337.2L491.2,337.3L491.5,337.3L491.8,337.2L492.1,337.2L492.4,337L492.7,336.9L493,336.7L493.3,336.5L493.6,336.4L493.9,336.2L494.2,336L494.5,335.8L494.8,335.6L495.1,335.4L495.4,335.3L495.7,335.1L496,334.9L496.3,334.7L496.6,334.5L496.9,334.3L497.2,334.1L497.5,333.9L497.8,333.7L498.1,333.6L498.4,333.5L498.7,333.4L499,333.4L499.3,333.4L499.6,333.5L499.9,333.6L500.2,333.8L500.5,334L500.8,334.2L501.1,334.4L501.4,334.6L501.7,334.8L502,334.9L502.3,335.1L502.6,335.1L502.9,335.2L503.2,335.2L503.5,335.2L503.8,335.2L504.1,335.2L504.4,335.2L504.7,335.2L505,335.2L505.3,335.2L505.6,335.2L505.9,335.2L506.2,335.2L506.5,335.2L506.8,335.2L507.1,335.2L507.4,335.2L507.7,335.2L508,335.2L508.3,335.2L508.6,335.2L508.9,335.2L509.2,335.2L509.5,335.2L509.8,335.2L510.1,335.2L510.4,335.2L510.7,335.2L511,335.2L511.3,335.2L511.6,335.2L511.9,335.2L512.2,335.2L512.5,335.2L512.8,335.2L513.1,335.2L513.4,335.2L513.7,335.2L514,335.2L514.3,335.2L514.6,335.2L514.9,335.2L515.2,335.2L515.5,335.2L515.8,335.2L516.1,335.2L516.4,335.2L516.7,335.2L517,335.2L517.3,335.2L517.6,335.2L517.9,335.2L518.2,335.2L518.5,335.2L518.8,335.2L519.1,335.2L519.4,335.2L519.7,335.2L520,335.2L520.3,335.2L520.6,335.2L520.9,335.2L521.2,335.2L521.5,335.2L521.8,335.2L522.1,335.2L522.4,335.2L522.7,335.2L523,335.2L523.3,335.2L523.6,335.2L523.9,335.2L524.2,335.2L524.5,335.2L524.8,335.2L525.1,335.2L525.4,335.2L525.7,335.2L526,335.2L526.3,335.2L526.6,335.2L526.9,335.2L527.2,335.2L527.5,335.2L527.8,335.2L528.1,335.2L528.4,335.2L528.7,335.2L529,335.2L529.3,335.2L529.6,335.2L529.9,335.2L530.2,335.2L530.5,335.2L530.8,335.2L531.1,335.2L531.4,335.2L531.7,335.2L532,335.2L532.3,335.2L532.6,335.2L532.9,335.2L533.2,335.2L533.5,335.2L533.8,335.2L534.1,335.2L534.4,335.2L534.7,335.2L535,335.2L535.3,335.2L535.6,335.2L535.9,335.2L536.2,335.2L536.5,335.2L536.8,335.2L537.1,335.2L537.4,335.2L537.7,335.2L538,335.2L538.3,335.2L538.6,335.2L538.9,335.2L539.2,335.2L539.5,335.2L539.8,335.2L540.1,335.2L540.4,335.2L540.7,335.1L541,335.1L541.3,335.1L541.6,335.1L541.9,335.1L542.2,335.1L542.5,335.1L542.8,335.1L543.1,335.1L543.4,335.1L543.7,335.1L544,335.1L544.3,335.1L544.6,335.1L544.9,335.1L545.2,335.1L545.5,335.1L545.8,335.1L546.1,335.1L546.4,335.1L546.7,335.1L547,335.1L547.3,335.1L547.6,335.1L547.9,335.1L548.2,335.1L548.5,335.1L548.8,335.1L549.1,335.1L549.4,335.1L549.7,335.1L550,335.1L550.3,335.1L550.6,335.1L550.9,335.1L551.2,335.1L551.5,335.1L551.8,335.1L552.1,335.1L552.4,335.1L552.7,335.1L553,335.1L553.3,335.1L553.6,335.1L553.9,335.1L554.2,335.1L554.5,335.1L554.8,335.1L555.1,335.1L555.4,335.1L555.7,335.1L556,335.1L556.3,335.1L556.6,335.1L556.9,335.1L557.2,335.1L557.5,335.1L557.8,335.1L558.1,335.1L558.4,335.1L558.7,335.1L559,335.1L559.3,335.1L559.6,335.1L559.9,335.1L560.2,335.1L560.5,335.1L560.8,335.1L561.1,335.1L561.4,335.1L561.7,335.1L562,335.1L562.3,335.1L562.6,335.1L562.9,335.1L563.2,335.1L563.5,335.1L563.8,335.1L564.1,335.1L564.4,335.1L564.7,335.1L565,335.1L565.3,335.1L565.6,335.1L565.9,335.1L566.2,335.1L566.5,335.1L566.8,335.1L567.1,335.1L567.4,335.1L567.7,335.1L568,335.1L568.3,335.1L568.6,335.1L568.9,335.1L569.2,335.1L569.5,335.1L569.8,335.1L570.1,335.1L570.4,335.1L570.7,335.1L571,335.1L571.3,335.1L571.6,335.1L571.9,335.1L572.2,335.1L572.5,335.1L572.8,335.1L573.1,335.1L573.4,335.1L573.7,335.1L574,335.1L574.3,335.1L574.6,335.1L574.9,335.1L575.2,335.1L575.5,335.1L575.8,335.1L576.1,335.1L576.4,335.1L576.7,335.1L577,335.1L577.3,335.1L577.6,335.1L577.9,335.1L578.2,335.1L578.5,335.2L578.8,335.2L579.1,335.3L579.4,335.5L579.7,335.6L580,335.7L580.3,335.9L580.6,336.1L580.9,336.2L581.2,336.3L581.5,336.4L581.8,336.5L582.1,336.6L582.4,336.6L582.7,336.6L583,336.5L583.3,336.4L583.6,336.2L583.9,336L584.2,335.9L584.5,335.7L584.8,335.5L585.1,335.3L585.4,335.2L585.7,335.1L586,335.1L586.3,335.1L586.6,335.1L586.9,335.1L587.2,335.1L587.5,335.1L587.8,335.1L588.1,335.1L588.4,335.1L588.7,335.1L589,335.1L589.3,335.1L589.6,335.1L589.9,335.1L590.2,335.1L590.5,335.1L590.8,335.1L591.1,335.1L591.4,335.1L591.7,335.1L592,335.1L592.3,335.1L592.6,335.1L592.9,335.1L593.2,335.1L593.5,335.1L593.8,335.1L594.1,335.1L594.4,335.1L594.7,335.1L595,335.1L595.3,335.1L595.6,335.1L595.9,335.1L596.2,335.1L596.5,335.1L596.8,335.1L597.1,335.1L597.4,335.1L597.7,335.1L598,335.1L598.3,335.1L598.6,335.1L598.9,335.1L599.2,335.1L599.5,335.1L599.8,335.1L600.1,335.1L600.4,335.1L600.7,335.1L601,335.1L601.3,335.1L601.6,335.1L601.9,335.1L602.2,335.1L602.5,335.1L602.8,335.1L603.1,335.1L603.4,335.1L603.7,335.1L604,335.1" fill="none" stroke="#ff8000" stroke-width="4.6" stroke-linecap="round" stroke-dasharray="0 8.65" stroke-dashoffset="1.2"/>
<rect x="78.3" y="27.8" width="526" height="387.4" fill="none" stroke="#000" stroke-width="4.6"/>
<path d="M78.3,415.2V425.5M130.9,415.2V422M183.5,415.2V425.5M236.1,415.2V422M288.7,415.2V425.5M341.3,415.2V422M393.9,415.2V425.5M446.5,415.2V422M499.1,415.2V425.5M551.7,415.2V422M604.3,415.2V425.5" stroke="#000" stroke-width="4.4" stroke-linecap="round"/>
<text x="78.3" y="455" text-anchor="middle" font-size="34">3460</text>
<text x="183.5" y="455" text-anchor="middle" font-size="34">3480</text>
<text x="288.7" y="455" text-anchor="middle" font-size="34">3500</text>
<text x="393.9" y="455" text-anchor="middle" font-size="34">3520</text>
<text x="499.1" y="455" text-anchor="middle" font-size="34">3540</text>
<text x="604.3" y="455" text-anchor="middle" font-size="34">3560</text>
<text x="341.4" y="494" text-anchor="middle" font-size="44.5">Magnetic field (G)</text>
<text transform="translate(65.7,213.5) rotate(-90)" text-anchor="middle" font-size="44.5">Intensity</text>
<rect x="233.9" y="25.3" width="43.2" height="386.5" fill="#7030a0" fill-opacity="0.15"/>
<rect x="309" y="25.3" width="45" height="386.5" fill="#7030a0" fill-opacity="0.15"/>
<rect x="398" y="25.3" width="42.8" height="386.5" fill="#7030a0" fill-opacity="0.15"/>
<rect x="233.9" y="64.2" width="32.6" height="347.6" fill="#9696be" fill-opacity="0.2"/>
<rect x="228.2" y="64.2" width="38.3" height="347.6" fill="#f5fff0" fill-opacity="0.36"/>
<rect x="228.2" y="411.8" width="38.3" height="8" fill="#f5fff0" fill-opacity="0.62"/>
<rect x="228.2" y="419.8" width="38.3" height="76.5" fill="#f5fff0" fill-opacity="0.5"/>
</g>
<g id="panel-b">
<path d="M729.5,217.8L739.5,217.8L739.8,217.7L740,217.7L740.2,217.7L740.5,217.7L740.8,217.7L741,217.7L741.2,217.7L741.5,217.7L741.8,217.7L742,217.7L742.2,217.7L742.5,217.7L742.8,217.7L743,217.7L743.2,217.7L743.5,217.7L743.8,217.7L744,217.7L744.2,217.7L744.5,217.7L744.8,217.7L745,217.7L745.2,217.7L745.5,217.7L745.8,217.7L746,217.7L746.2,217.7L746.5,217.7L746.8,217.7L747,217.7L747.2,217.7L747.5,217.7L747.8,217.7L748,217.7L748.2,217.7L748.5,217.7L748.8,217.7L749,217.7L749.2,217.7L749.5,217.7L749.8,217.7L750,217.7L750.2,217.7L750.5,217.7L750.8,217.7L751,217.7L751.2,217.7L751.5,217.7L751.8,217.7L752,217.7L752.2,217.7L752.5,217.7L752.8,217.7L753,217.7L753.2,217.7L753.5,217.7L753.8,217.7L754,217.7L754.2,217.7L754.5,217.7L754.8,217.7L755,217.7L755.2,217.7L755.5,217.7L755.8,217.7L756,217.7L756.2,217.7L756.5,217.7L756.8,217.7L757,217.7L757.2,217.7L757.5,217.7L757.8,217.7L758,217.7L758.2,217.7L758.5,217.7L758.8,217.7L759,217.7L759.2,217.6L759.5,217.6L759.8,217.6L760,217.6L760.2,217.6L760.5,217.6L760.8,217.6L761,217.6L761.2,217.6L761.5,217.6L761.8,217.6L762,217.6L762.2,217.6L762.5,217.6L762.8,217.6L763,217.6L763.2,217.6L763.5,217.6L763.8,217.6L764,217.6L764.2,217.6L764.5,217.5L764.8,217.5L765,217.5L765.2,217.5L765.5,217.5L765.8,217.5L766,217.5L766.2,217.5L766.5,217.5L766.8,217.5L767,217.4L767.2,217.4L767.5,217.4L767.8,217.4L768,217.4L768.2,217.3L768.5,217.3L768.8,217.3L769,217.3L769.2,217.2L769.5,217.2L769.8,217.2L770,217.1L770.2,217.1L770.5,217L770.8,217L771,216.9L771.2,216.8L771.5,216.7L771.8,216.6L772,216.4L772.2,216.2L772.5,215.7L772.8,214.9L773,213.4L773.2,210.7L773.5,206.3L773.8,200L774,191.9L774.2,183.4L774.5,176L774.8,171.8L775,171.7L775.2,174.5L775.5,177.2L775.8,176.9L776,171.4L776.2,160.4L776.5,145.4L776.8,130.1L777,119.1L777.2,116.3L777.5,123.1L777.8,136.9L778,153.5L778.2,168.8L778.5,179.7L778.8,185.2L779,186.1L779.2,184.2L779.5,182.1L779.8,182.2L780,185.4L780.2,190.9L780.5,197.5L780.8,203.5L781,208.4L781.2,211.7L781.5,213.7L781.8,214.8L782,215.4L782.2,215.6L782.5,215.7L782.8,215.8L783,215.8L783.2,215.8L783.5,215.7L783.8,215.6L784,215.5L784.2,215.3L784.5,214.9L784.8,214.2L785,213.2L785.2,211.6L785.5,209.3L785.8,206.6L786,203.4L786.2,200.2L786.5,197.1L786.8,194.3L787,191.2L787.2,187.5L787.5,182.8L787.8,177.8L788,173.6L788.2,171.9L788.5,173.6L788.8,178.3L789,184.7L789.2,191.3L789.5,196.8L789.8,200.7L790,203L790.2,204L790.5,204.4L790.8,204.4L791,204.2L791.2,203.7L791.5,202.3L791.8,199.7L792,195.5L792.2,189.7L792.5,182.8L792.8,175.4L793,168.5L793.2,162.9L793.5,158.3L793.8,153.4L794,147.2L794.2,139.5L794.5,131.3L794.8,125.1L795,123.1L795.2,126.5L795.5,134.1L795.8,143.3L796,151.4L796.2,156.7L796.5,159.1L796.8,159.7L797,160.4L797.2,163L797.5,167.6L797.8,173.3L798,178.6L798.2,182.2L798.5,183.9L798.8,184.2L799,184.3L799.2,185.3L799.5,187.9L799.8,191.8L800,196.2L800.2,200.5L800.5,204.1L800.8,206.7L801,208.3L801.2,209L801.5,208.8L801.8,208L802,206.5L802.2,204.6L802.5,202.6L802.8,200.9L803,199.8L803.2,199.3L803.5,199.2L803.8,198.8L804,197.8L804.2,196.4L804.5,195.1L804.8,194.6L805,195.3L805.2,196.9L805.5,199L805.8,200.9L806,202.3L806.2,203.2L806.5,204L806.8,205.2L807,206.9L807.2,208.9L807.5,211L807.8,212.8L808,214.3L808.2,215.3L808.5,216L808.8,216.4L809,216.6L809.2,216.8L809.5,216.9L809.8,216.9L810,217L810.2,217.1L810.5,217.1L810.8,217.1L811,217.2L811.2,217.2L811.5,217.2L811.8,217.3L812,217.3L812.2,217.3L812.5,217.3L812.8,217.3L813,217.4L813.2,217.4L813.5,217.4L813.8,217.4L814,217.4L814.2,217.4L814.5,217.4L814.8,217.4L815,217.4L815.2,217.5L815.5,217.5L815.8,217.5L816,217.5L816.2,217.5L816.5,217.5L816.8,217.5L817,217.5L817.2,217.5L817.5,217.5L817.8,217.5L818,217.5L818.2,217.5L818.5,217.5L818.8,217.5L819,217.5L819.2,217.5L819.5,217.5L819.8,217.5L820,217.5L820.2,217.5L820.5,217.5L820.8,217.5L821,217.5L821.2,217.5L821.5,217.5L821.8,217.5L822,217.5L822.2,217.5L822.5,217.5L822.8,217.5L823,217.5L823.2,217.5L823.5,217.5L823.8,217.5L824,217.5L824.2,217.4L824.5,217.4L824.8,217.4L825,217.4L825.2,217.4L825.5,217.4L825.8,217.4L826,217.4L826.2,217.3L826.5,217.3L826.8,217.3L827,217.3L827.2,217.2L827.5,217.2L827.8,217.2L828,217.1L828.2,217.1L828.5,217L828.8,217L829,216.9L829.2,216.8L829.5,216.7L829.8,216.6L830,216.5L830.2,216.3L830.5,216L830.8,215.5L831,214.7L831.2,213.2L831.5,210.6L831.8,206.5L832,200.3L832.2,192.2L832.5,182.5L832.8,172.2L833,162.6L833.2,154.7L833.5,148.5L833.8,143.1L834,137.3L834.2,131.3L834.5,126.1L834.8,123.7L835,125.3L835.2,130.2L835.5,136.9L835.8,143.6L836,149.8L836.2,155.9L836.5,163.1L836.8,171.8L837,181.3L837.2,190.7L837.5,198.9L837.8,205.3L838,209.8L838.2,212.7L838.5,214.4L838.8,215.4L839,215.9L839.2,216.3L839.5,216.5L839.8,216.6L840,216.7L840.2,216.8L840.5,216.9L840.8,217L841,217.1L841.2,217.1L841.5,217.2L841.8,217.2L842,217.3L842.2,217.3L842.5,217.3L842.8,217.3L843,217.4L843.2,217.4L843.5,217.4L843.8,217.4L844,217.5L844.2,217.5L844.5,217.5L844.8,217.5L845,217.5L845.2,217.5L845.5,217.5L845.8,217.5L846,217.6L846.2,217.6L846.5,217.6L846.8,217.6L847,217.6L847.2,217.6L847.5,217.6L847.8,217.6L848,217.6L848.2,217.6L848.5,217.6L848.8,217.6L849,217.6L849.2,217.6L849.5,217.6L849.8,217.6L850,217.7L850.2,217.7L850.5,217.7L850.8,217.7L851,217.7L851.2,217.7L851.5,217.7L851.8,217.7L852,217.7L852.2,217.7L852.5,217.7L852.8,217.7L853,217.7L853.2,217.7L853.5,217.7L853.8,217.7L854,217.7L854.2,217.7L854.5,217.7L854.8,217.7L855,217.7L855.2,217.7L855.5,217.7L855.8,217.7L856,217.7L856.2,217.7L856.5,217.7L856.8,217.7L857,217.7L857.2,217.7L857.5,217.7L857.8,217.7L858,217.7L858.2,217.7L858.5,217.7L858.8,217.7L859,217.7L859.2,217.7L859.5,217.7L859.8,217.7L860,217.7L860.2,217.7L860.5,217.7L860.8,217.7L861,217.7L861.2,217.7L861.5,217.7L861.8,217.7L862,217.7L862.2,217.7L862.5,217.7L862.8,217.7L863,217.7L863.2,217.7L863.5,217.7L863.8,217.7L864,217.7L864.2,217.7L864.5,217.7L864.8,217.7L865,217.7L865.2,217.7L865.5,217.7L865.8,217.7L866,217.7L866.2,217.7L866.5,217.7L866.8,217.7L867,217.7L867.2,217.7L867.5,217.7L867.8,217.7L868,217.7L868.2,217.7L868.5,217.7L868.8,217.7L869,217.7L869.2,217.7L869.5,217.7L869.8,217.7L870,217.7L870.2,217.7L870.5,217.7L870.8,217.7L871,217.7L871.2,217.7L871.5,217.6L871.8,217.5L872,217.4L872.2,217.2L872.5,216.9L872.8,216.6L873,216.3L873.2,215.9L873.5,215.6L873.8,215.3L874,215.3L874.2,215.3L874.5,215.6L874.8,215.9L875,216.3L875.2,216.6L875.5,216.9L875.8,217.2L876,217.4L876.2,217.5L876.5,217.6L876.8,217.7L877,217.7L877.2,217.7L877.5,217.7L877.8,217.7L878,217.7L878.2,217.7L878.5,217.7L878.8,217.7L879,217.7L879.2,217.8L879.5,217.8L889.5,217.8L899.5,217.8L902,217.8L902.2,217.7L902.5,217.7L902.8,217.7L903,217.7L903.2,217.7L903.5,217.7L903.8,217.7L904,217.7L904.2,217.7L904.5,217.7L904.8,217.6L905,217.6L905.2,217.6L905.5,217.6L905.8,217.6L906,217.5L906.2,217.5L906.5,217.5L906.8,217.5L907,217.4L907.2,217.4L907.5,217.4L907.8,217.3L908,217.3L908.2,217.3L908.5,217.3L908.8,217.2L909,217.2L909.2,217.2L909.5,217.2L909.8,217.2L910,217.2L910.2,217.2L910.5,217.2L910.8,217.2L911,217.2L911.2,217.2L911.5,217.3L911.8,217.3L912,217.3L912.2,217.3L912.5,217.4L912.8,217.4L913,217.4L913.2,217.5L913.5,217.5L913.8,217.5L914,217.5L914.2,217.6L914.5,217.6L914.8,217.6L915,217.6L915.2,217.6L915.5,217.7L915.8,217.7L916,217.7L916.2,217.7L916.5,217.7L916.8,217.7L917,217.7L917.2,217.7L917.5,217.7L917.8,217.8L919.5,217.8L929.5,217.8L939.5,217.8L949.5,217.8L959.5,217.8L969.5,217.8L979.5,217.8L987.5,217.8L987.8,217.7L988,217.7L988.2,217.7L988.5,217.7L988.8,217.7L989,217.7L989.2,217.7L989.5,217.7L989.8,217.7L990,217.7L990.2,217.7L990.5,217.7L990.8,217.7L991,217.7L991.2,217.7L991.5,217.7L991.8,217.7L992,217.7L992.2,217.7L992.5,217.7L992.8,217.7L993,217.7L993.2,217.7L993.5,217.7L993.8,217.7L994,217.7L994.2,217.7L994.5,217.7L994.8,217.7L995,217.6L995.2,217.6L995.5,217.6L995.8,217.6L996,217.6L996.2,217.6L996.5,217.6L996.8,217.6L997,217.6L997.2,217.5L997.5,217.5L997.8,217.5L998,217.5L998.2,217.4L998.5,217.4L998.8,217.4L999,217.3L999.2,217.2L999.5,217.1L999.8,217L1000,216.8L1000.2,216.4L1000.5,215.8L1000.8,215L1001,213.8L1001.2,212.1L1001.5,209.8L1001.8,206.9L1002,203.4L1002.2,199.5L1002.5,195.3L1002.8,191.1L1003,187.5L1003.2,184.8L1003.5,183.4L1003.8,183.6L1004,185.3L1004.2,188.2L1004.5,191.9L1004.8,196.1L1005,200.3L1005.2,204.2L1005.5,207.5L1005.8,210.3L1006,212.5L1006.2,214.1L1006.5,215.2L1006.8,216L1007,216.5L1007.2,216.8L1007.5,217L1007.8,217.2L1008,217.3L1008.2,217.3L1008.5,217.4L1008.8,217.4L1009,217.4L1009.2,217.5L1009.5,217.5L1009.8,217.5L1010,217.5L1010.2,217.6L1010.5,217.6L1010.8,217.6L1011,217.6L1011.2,217.6L1011.5,217.6L1011.8,217.6L1012,217.6L1012.2,217.6L1012.5,217.7L1012.8,217.7L1013,217.7L1013.2,217.7L1013.5,217.7L1013.8,217.7L1014,217.7L1014.2,217.7L1014.5,217.7L1014.8,217.7L1015,217.7L1015.2,217.7L1015.5,217.7L1015.8,217.7L1016,217.7L1016.2,217.7L1016.5,217.7L1016.8,217.7L1017,217.7L1017.2,217.7L1017.5,217.7L1017.8,217.7L1018,217.7L1018.2,217.7L1018.5,217.7L1018.8,217.7L1019,217.7L1019.2,217.7L1019.5,217.7L1019.8,217.7L1020,217.7L1020.2,217.7L1020.5,217.7L1020.8,217.8L1029.5,217.8L1039.5,217.8L1049.5,217.8L1054.2,217.8L1054.5,217.7L1054.8,217.7L1055,217.7L1055.2,217.7L1055.5,217.7L1055.8,217.7L1056,217.7L1056.2,217.7L1056.5,217.7L1056.8,217.7L1057,217.7L1057.2,217.7L1057.5,217.7L1057.8,217.7L1058,217.7L1058.2,217.7L1058.5,217.7L1058.8,217.7L1059,217.7L1059.2,217.7L1059.5,217.7L1059.8,217.7L1060,217.7L1060.2,217.7L1060.5,217.7L1060.8,217.7L1061,217.7L1061.2,217.7L1061.5,217.7L1061.8,217.7L1062,217.7L1062.2,217.7L1062.5,217.7L1062.8,217.7L1063,217.7L1063.2,217.7L1063.5,217.7L1063.8,217.7L1064,217.7L1064.2,217.7L1064.5,217.7L1064.8,217.7L1065,217.7L1065.2,217.7L1065.5,217.7L1065.8,217.7L1066,217.7L1066.2,217.7L1066.5,217.7L1066.8,217.7L1067,217.7L1067.2,217.7L1067.5,217.7L1067.8,217.6L1068,217.6L1068.2,217.6L1068.5,217.6L1068.8,217.6L1069,217.6L1069.2,217.6L1069.5,217.6L1069.8,217.6L1070,217.6L1070.2,217.6L1070.5,217.6L1070.8,217.6L1071,217.6L1071.2,217.5L1071.5,217.5L1071.8,217.5L1072,217.5L1072.2,217.5L1072.5,217.5L1072.8,217.5L1073,217.4L1073.2,217.4L1073.5,217.4L1073.8,217.4L1074,217.4L1074.2,217.3L1074.5,217.3L1074.8,217.3L1075,217.2L1075.2,217.2L1075.5,217.1L1075.8,217.1L1076,217L1076.2,216.9L1076.5,216.8L1076.8,216.6L1077,216.2L1077.2,215.6L1077.5,214.5L1077.8,212.6L1078,209.6L1078.2,205.3L1078.5,200L1078.8,194.1L1079,188.7L1079.2,185.3L1079.5,184.8L1079.8,187.3L1080,191.8L1080.2,196.9L1080.5,201.1L1080.8,203.4L1081,202.8L1081.2,198.7L1081.5,190.7L1081.8,178.6L1082,162.8L1082.2,144.8L1082.5,126.9L1082.8,112.3L1083,104.4L1083.2,105.3L1083.5,114.8L1083.8,130.2L1084,148.3L1084.2,165.8L1084.5,180.6L1084.8,191.4L1085,197.8L1085.2,200.1L1085.5,199.2L1085.8,196.2L1086,192.4L1086.2,189.3L1086.5,188.3L1086.8,189.9L1087,193.8L1087.2,198.8L1087.5,203.8L1087.8,208.2L1088,211.5L1088.2,213.7L1088.5,215.1L1088.8,215.8L1089,216.2L1089.2,216.5L1089.5,216.6L1089.8,216.7L1090,216.7L1090.2,216.8L1090.5,216.8L1090.8,216.8L1091,216.8L1091.2,216.8L1091.5,216.8L1091.8,216.8L1092,216.7L1092.2,216.7L1092.5,216.6L1092.8,216.4L1093,216.2L1093.2,215.9L1093.5,215.2L1093.8,214L1094,212L1094.2,208.8L1094.5,204.3L1094.8,198.6L1095,192.2L1095.2,185.8L1095.5,180.1L1095.8,175.4L1096,171.1L1096.2,165.9L1096.5,159.2L1096.8,151.4L1097,144.2L1097.2,140.1L1097.5,141.1L1097.8,147.9L1098,159L1098.2,172L1098.5,184.6L1098.8,195.2L1099,203.3L1099.2,208.8L1099.5,212.3L1099.8,214.3L1100,215.4L1100.2,216L1100.5,216.4L1100.8,216.6L1101,216.7L1101.2,216.8L1101.5,216.9L1101.8,217L1102,217.1L1102.2,217.1L1102.5,217.2L1102.8,217.2L1103,217.3L1103.2,217.3L1103.5,217.4L1103.8,217.4L1104,217.4L1104.2,217.4L1104.5,217.4L1104.8,217.5L1105,217.5L1105.2,217.5L1105.5,217.5L1105.8,217.5L1106,217.5L1106.2,217.5L1106.5,217.6L1106.8,217.6L1107,217.6L1107.2,217.6L1107.5,217.6L1107.8,217.6L1108,217.6L1108.2,217.6L1108.5,217.6L1108.8,217.6L1109,217.6L1109.2,217.6L1109.5,217.6L1109.8,217.6L1110,217.6L1110.2,217.6L1110.5,217.6L1110.8,217.6L1111,217.6L1111.2,217.6L1111.5,217.6L1111.8,217.6L1112,217.5L1112.2,217.4L1112.5,217.3L1112.8,217.1L1113,216.9L1113.2,216.6L1113.5,216.3L1113.8,216L1114,215.6L1114.2,215.3L1114.5,215L1114.8,214.8L1115,214.7L1115.2,214.8L1115.5,215L1115.8,215.3L1116,215.6L1116.2,216L1116.5,216.3L1116.8,216.7L1117,216.9L1117.2,217.2L1117.5,217.3L1117.8,217.5L1118,217.5L1118.2,217.6L1118.5,217.6L1118.8,217.7L1119,217.7L1119.2,217.7L1119.5,217.7L1119.8,217.7L1120,217.7L1120.2,217.7L1120.5,217.7L1120.8,217.7L1121,217.7L1121.2,217.7L1121.5,217.7L1121.8,217.7L1122,217.7L1122.2,217.7L1122.5,217.7L1122.8,217.7L1123,217.7L1123.2,217.7L1123.5,217.7L1123.8,217.7L1124,217.7L1124.2,217.7L1124.5,217.8L1129.5,217.8L1139.5,217.8L1149.5,217.8L1159.5,217.8L1169.5,217.8L1179.5,217.8L1189.5,217.8L1199.5,217.8L1209.5,217.8L1219.5,217.8L1229.5,217.8L1239.5,217.8L1249.5,217.8L1254.2,217.8" fill="none" stroke="#000" stroke-width="4" stroke-linejoin="round"/>
<path d="M729.5,349.1L739.5,349.1L741,349.1L741.2,349L741.5,349L741.8,349L742,349L742.2,349L742.5,349L742.8,349L743,349L743.2,349L743.5,349L743.8,349L744,349L744.2,349L744.5,349L744.8,349L745,349L745.2,349L745.5,349L745.8,349L746,349L746.2,349L746.5,349L746.8,349L747,349L747.2,349L747.5,349L747.8,349L748,349L748.2,349L748.5,349L748.8,349L749,349L749.2,349L749.5,349L749.8,349L750,349L750.2,349L750.5,349L750.8,349L751,349L751.2,349L751.5,349L751.8,349L752,349L752.2,349L752.5,349L752.8,349L753,349L753.2,349L753.5,349L753.8,349L754,349L754.2,349L754.5,349L754.8,349L755,349L755.2,349L755.5,349L755.8,349L756,349L756.2,349L756.5,349L756.8,349L757,349L757.2,349L757.5,349L757.8,349L758,349L758.2,349L758.5,349L758.8,349L759,349L759.2,349L759.5,349L759.8,349L760,349L760.2,349L760.5,348.9L760.8,348.9L761,348.9L761.2,348.9L761.5,348.9L761.8,348.9L762,348.9L762.2,348.9L762.5,348.9L762.8,348.9L763,348.9L763.2,348.9L763.5,348.9L763.8,348.9L764,348.9L764.2,348.9L764.5,348.9L764.8,348.9L765,348.9L765.2,348.8L765.5,348.8L765.8,348.8L766,348.8L766.2,348.8L766.5,348.8L766.8,348.8L767,348.8L767.2,348.8L767.5,348.7L767.8,348.7L768,348.7L768.2,348.7L768.5,348.7L768.8,348.7L769,348.6L769.2,348.6L769.5,348.6L769.8,348.5L770,348.5L770.2,348.5L770.5,348.4L770.8,348.4L771,348.3L771.2,348.2L771.5,348.2L771.8,348.1L772,347.9L772.2,347.7L772.5,347.4L772.8,346.7L773,345.4L773.2,343.1L773.5,339.5L773.8,334.1L774,327.4L774.2,320.2L774.5,314L774.8,310.5L775,310.4L775.2,312.7L775.5,315L775.8,314.8L776,310.2L776.2,300.9L776.5,288.3L776.8,275.4L777,266.2L777.2,263.9L777.5,269.6L777.8,281.2L778,295.2L778.2,308.1L778.5,317.4L778.8,322.3L779,323.3L779.2,321.9L779.5,320.4L779.8,320.5L780,323L780.2,327.5L780.5,332.7L780.8,337.6L781,341.4L781.2,344L781.5,345.6L781.8,346.5L782,347L782.2,347.2L782.5,347.3L782.8,347.3L783,347.3L783.2,347.2L783.5,347.2L783.8,347.1L784,346.9L784.2,346.7L784.5,346.3L784.8,345.7L785,344.6L785.2,343L785.5,340.9L785.8,338.2L786,335.3L786.2,332.5L786.5,330.4L786.8,328.8L787,327.6L787.2,325.7L787.5,322.5L787.8,317.8L788,312.2L788.2,307L788.5,304.1L788.8,304.5L789,308.3L789.2,314.1L789.5,320.5L789.8,326L790,330.2L790.2,332.8L790.5,334.2L790.8,334.9L791,335.2L791.2,334.8L791.5,333.5L791.8,330.9L792,326.8L792.2,321L792.5,314L792.8,306.7L793,299.9L793.2,294.3L793.5,289.7L793.8,284.9L794,278.8L794.2,271.2L794.5,263.1L794.8,257L795,255L795.2,258.4L795.5,265.9L795.8,275L796,283L796.2,288.2L796.5,290.5L796.8,291.1L797,291.8L797.2,294.3L797.5,299L797.8,304.7L798,309.9L798.2,313.5L798.5,315.2L798.8,315.6L799,315.6L799.2,316.6L799.5,319.2L799.8,323.1L800,327.6L800.2,331.9L800.5,335.4L800.8,338L801,339.6L801.2,340.3L801.5,340.2L801.8,339.4L802,338L802.2,336.1L802.5,334.3L802.8,332.9L803,332.4L803.2,333L803.5,334.2L803.8,335.4L804,336L804.2,335.6L804.5,333.9L804.8,331.5L805,328.9L805.2,327L805.5,326.4L805.8,327.2L806,329L806.2,330.9L806.5,332.7L806.8,334.3L807,335.9L807.2,337.6L807.5,339.6L807.8,341.7L808,343.6L808.2,345.1L808.5,346.3L808.8,347.1L809,347.6L809.2,347.9L809.5,348.1L809.8,348.2L810,348.3L810.2,348.3L810.5,348.4L810.8,348.4L811,348.5L811.2,348.5L811.5,348.5L811.8,348.6L812,348.6L812.2,348.6L812.5,348.6L812.8,348.6L813,348.7L813.2,348.7L813.5,348.7L813.8,348.7L814,348.7L814.2,348.7L814.5,348.7L814.8,348.7L815,348.8L815.2,348.8L815.5,348.8L815.8,348.8L816,348.8L816.2,348.8L816.5,348.8L816.8,348.8L817,348.8L817.2,348.8L817.5,348.8L817.8,348.8L818,348.8L818.2,348.8L818.5,348.8L818.8,348.8L819,348.8L819.2,348.8L819.5,348.8L819.8,348.8L820,348.8L820.2,348.8L820.5,348.8L820.8,348.8L821,348.8L821.2,348.8L821.5,348.8L821.8,348.8L822,348.8L822.2,348.8L822.5,348.8L822.8,348.8L823,348.8L823.2,348.8L823.5,348.8L823.8,348.8L824,348.8L824.2,348.8L824.5,348.7L824.8,348.7L825,348.7L825.2,348.7L825.5,348.7L825.8,348.7L826,348.7L826.2,348.7L826.5,348.6L826.8,348.6L827,348.6L827.2,348.6L827.5,348.5L827.8,348.5L828,348.5L828.2,348.4L828.5,348.4L828.8,348.3L829,348.3L829.2,348.2L829.5,348.1L829.8,348L830,347.9L830.2,347.8L830.5,347.6L830.8,347.3L831,346.7L831.2,345.8L831.5,344.1L831.8,341.3L832,336.8L832.2,330.2L832.5,321.7L832.8,311.9L833,301.7L833.2,292.5L833.5,285.3L833.8,279.7L834,274.7L834.2,269.4L834.5,263.8L834.8,259.4L835,257.9L835.2,260.1L835.5,265.2L835.8,271.5L836,277.6L836.2,283.3L836.5,289.2L836.8,296.4L837,305.2L837.2,314.7L837.5,323.8L837.8,331.7L838,337.7L838.2,341.8L838.5,344.5L838.8,346L839,346.9L839.2,347.4L839.5,347.6L839.8,347.8L840,348L840.2,348.1L840.5,348.2L840.8,348.3L841,348.3L841.2,348.4L841.5,348.4L841.8,348.5L842,348.5L842.2,348.6L842.5,348.6L842.8,348.6L843,348.7L843.2,348.7L843.5,348.7L843.8,348.7L844,348.7L844.2,348.8L844.5,348.8L844.8,348.8L845,348.8L845.2,348.8L845.5,348.8L845.8,348.8L846,348.9L846.2,348.9L846.5,348.9L846.8,348.9L847,348.9L847.2,348.9L847.5,348.9L847.8,348.9L848,348.9L848.2,348.9L848.5,348.9L848.8,348.9L849,348.9L849.2,348.9L849.5,348.9L849.8,348.9L850,349L850.2,349L850.5,349L850.8,349L851,349L851.2,349L851.5,349L851.8,349L852,349L852.2,349L852.5,349L852.8,349L853,349L853.2,349L853.5,349L853.8,349L854,349L854.2,349L854.5,349L854.8,349L855,349L855.2,349L855.5,349L855.8,349L856,349L856.2,349L856.5,349L856.8,349L857,349L857.2,349L857.5,349L857.8,349L858,349L858.2,349L858.5,349L858.8,349L859,349L859.2,349L859.5,349L859.8,349L860,349L860.2,349L860.5,349L860.8,349L861,349L861.2,349L861.5,349L861.8,349L862,349L862.2,349L862.5,349L862.8,349L863,349L863.2,349L863.5,349L863.8,349L864,349L864.2,349L864.5,349L864.8,349L865,349L865.2,349L865.5,349L865.8,349L866,349L866.2,349L866.5,349L866.8,349L867,349L867.2,349L867.5,349L867.8,349L868,349L868.2,349L868.5,349L868.8,349L869,349L869.2,349L869.5,349L869.8,349L870,349L870.2,349L870.5,349L870.8,349L871,349L871.2,349L871.5,348.9L871.8,348.8L872,348.7L872.2,348.5L872.5,348.2L872.8,347.9L873,347.6L873.2,347.2L873.5,346.9L873.8,346.6L874,346.6L874.2,346.6L874.5,346.9L874.8,347.2L875,347.6L875.2,347.9L875.5,348.2L875.8,348.5L876,348.7L876.2,348.8L876.5,348.9L876.8,349L877,349L877.2,349L877.5,349L877.8,349L878,349L878.2,349L878.5,349L878.8,349L879,349L879.2,349.1L879.5,349.1L889.5,349.1L899.5,349.1L909.5,349.1L919.5,349.1L929.5,349.1L939.5,349.1L949.5,349.1L959.5,349.1L969.5,349.1L979.5,349.1L987.8,349.1L988,349L988.2,349L988.5,349L988.8,349L989,349L989.2,349L989.5,349L989.8,349L990,349L990.2,349L990.5,349L990.8,349L991,349L991.2,349L991.5,349L991.8,349L992,349L992.2,349L992.5,349L992.8,349L993,349L993.2,349L993.5,349L993.8,349L994,349L994.2,349L994.5,349L994.8,349L995,349L995.2,348.9L995.5,348.9L995.8,348.9L996,348.9L996.2,348.9L996.5,348.9L996.8,348.9L997,348.9L997.2,348.8L997.5,348.8L997.8,348.8L998,348.8L998.2,348.8L998.5,348.7L998.8,348.7L999,348.6L999.2,348.5L999.5,348.4L999.8,348.3L1000,348L1000.2,347.6L1000.5,347L1000.8,346.1L1001,344.8L1001.2,343L1001.5,340.7L1001.8,337.8L1002,334.3L1002.2,330.5L1002.5,326.6L1002.8,322.9L1003,319.9L1003.2,317.8L1003.5,317.1L1003.8,317.8L1004,319.9L1004.2,322.9L1004.5,326.6L1004.8,330.5L1005,334.3L1005.2,337.8L1005.5,340.7L1005.8,343L1006,344.8L1006.2,346.1L1006.5,347L1006.8,347.6L1007,348L1007.2,348.3L1007.5,348.4L1007.8,348.5L1008,348.6L1008.2,348.7L1008.5,348.7L1008.8,348.8L1009,348.8L1009.2,348.8L1009.5,348.8L1009.8,348.8L1010,348.9L1010.2,348.9L1010.5,348.9L1010.8,348.9L1011,348.9L1011.2,348.9L1011.5,348.9L1011.8,348.9L1012,349L1012.2,349L1012.5,349L1012.8,349L1013,349L1013.2,349L1013.5,349L1013.8,349L1014,349L1014.2,349L1014.5,349L1014.8,349L1015,349L1015.2,349L1015.5,349L1015.8,349L1016,349L1016.2,349L1016.5,349L1016.8,349L1017,349L1017.2,349L1017.5,349L1017.8,349L1018,349L1018.2,349L1018.5,349L1018.8,349L1019,349L1019.2,349L1019.5,349L1019.8,349L1020,349.1L1029.5,349.1L1039.5,349.1L1049.5,349.1L1055,349.1L1055.2,349L1055.5,349L1055.8,349L1056,349L1056.2,349L1056.5,349L1056.8,349L1057,349L1057.2,349L1057.5,349L1057.8,349L1058,349L1058.2,349L1058.5,349L1058.8,349L1059,349L1059.2,349L1059.5,349L1059.8,349L1060,349L1060.2,349L1060.5,349L1060.8,349L1061,349L1061.2,349L1061.5,349L1061.8,349L1062,349L1062.2,349L1062.5,349L1062.8,349L1063,349L1063.2,349L1063.5,349L1063.8,349L1064,349L1064.2,349L1064.5,349L1064.8,349L1065,349L1065.2,349L1065.5,349L1065.8,349L1066,349L1066.2,349L1066.5,349L1066.8,349L1067,349L1067.2,349L1067.5,349L1067.8,349L1068,349L1068.2,348.9L1068.5,348.9L1068.8,348.9L1069,348.9L1069.2,348.9L1069.5,348.9L1069.8,348.9L1070,348.9L1070.2,348.9L1070.5,348.9L1070.8,348.9L1071,348.9L1071.2,348.9L1071.5,348.8L1071.8,348.8L1072,348.8L1072.2,348.8L1072.5,348.8L1072.8,348.8L1073,348.7L1073.2,348.7L1073.5,348.7L1073.8,348.7L1074,348.6L1074.2,348.6L1074.5,348.6L1074.8,348.5L1075,348.5L1075.2,348.4L1075.5,348.3L1075.8,348.2L1076,348.1L1076.2,347.8L1076.5,347.3L1076.8,346.4L1077,344.8L1077.2,342.2L1077.5,338.4L1077.8,333.5L1078,327.9L1078.2,322.7L1078.5,319L1078.8,318L1079,320L1079.2,324.2L1079.5,329.5L1079.8,334.6L1080,338.7L1080.2,341.5L1080.5,342.7L1080.8,342.3L1081,340.2L1081.2,335.7L1081.5,328.5L1081.8,317.9L1082,304L1082.2,287.4L1082.5,270.1L1082.8,254.7L1083,244.4L1083.2,241.8L1083.5,247.6L1083.8,260.3L1084,276.9L1084.2,294.1L1084.5,309.6L1084.8,322L1085,330.6L1085.2,335.7L1085.5,337.5L1085.8,336.7L1086,333.9L1086.2,329.9L1086.5,325.7L1086.8,322.4L1087,321.3L1087.2,322.8L1087.5,326.4L1087.8,331.1L1088,335.9L1088.2,340.1L1088.5,343.2L1088.8,345.3L1089,346.6L1089.2,347.3L1089.5,347.7L1089.8,347.9L1090,348L1090.2,348.1L1090.5,348.1L1090.8,348.2L1091,348.2L1091.2,348.2L1091.5,348.2L1091.8,348.2L1092,348.2L1092.2,348.1L1092.5,348.1L1092.8,348L1093,347.9L1093.2,347.7L1093.5,347.3L1093.8,346.7L1094,345.5L1094.2,343.5L1094.5,340.5L1094.8,336.3L1095,331L1095.2,324.9L1095.5,318.8L1095.8,313.2L1096,308.3L1096.2,303.6L1096.5,298.7L1096.8,293.6L1097,289.3L1097.2,287.2L1097.5,288.9L1097.8,294.7L1098,303.5L1098.2,313.7L1098.5,323.4L1098.8,331.7L1099,337.9L1099.2,342.1L1099.5,344.8L1099.8,346.3L1100,347.2L1100.2,347.7L1100.5,347.9L1100.8,348.1L1101,348.2L1101.2,348.3L1101.5,348.4L1101.8,348.5L1102,348.5L1102.2,348.6L1102.5,348.6L1102.8,348.6L1103,348.7L1103.2,348.7L1103.5,348.7L1103.8,348.7L1104,348.8L1104.2,348.8L1104.5,348.8L1104.8,348.8L1105,348.8L1105.2,348.8L1105.5,348.8L1105.8,348.9L1106,348.9L1106.2,348.9L1106.5,348.9L1106.8,348.9L1107,348.9L1107.2,348.9L1107.5,348.9L1107.8,348.9L1108,348.9L1108.2,348.9L1108.5,348.9L1108.8,348.9L1109,348.9L1109.2,348.9L1109.5,348.9L1109.8,348.9L1110,348.9L1110.2,348.9L1110.5,348.9L1110.8,348.9L1111,348.8L1111.2,348.8L1111.5,348.7L1111.8,348.6L1112,348.5L1112.2,348.3L1112.5,348L1112.8,347.7L1113,347.4L1113.2,347L1113.5,346.6L1113.8,346.2L1114,345.8L1114.2,345.4L1114.5,345.2L1114.8,345L1115,345L1115.2,345.2L1115.5,345.4L1115.8,345.7L1116,346.1L1116.2,346.5L1116.5,347L1116.8,347.3L1117,347.7L1117.2,348L1117.5,348.3L1117.8,348.5L1118,348.6L1118.2,348.7L1118.5,348.8L1118.8,348.9L1119,348.9L1119.2,348.9L1119.5,349L1119.8,349L1120,349L1120.2,349L1120.5,349L1120.8,349L1121,349L1121.2,349L1121.5,349L1121.8,349L1122,349L1122.2,349L1122.5,349L1122.8,349L1123,349L1123.2,349L1123.5,349L1123.8,349L1124,349L1124.2,349L1124.5,349L1124.8,349L1125,349L1125.2,349L1125.5,349L1125.8,349L1126,349L1126.2,349L1126.5,349L1126.8,349.1L1129.5,349.1L1139.5,349.1L1149.5,349.1L1153.5,349.1L1153.8,349L1154,349L1154.2,349L1154.5,349L1154.8,349L1155,349L1155.2,349L1155.5,349L1155.8,349L1156,349L1156.2,349L1156.5,349L1156.8,349L1157,349L1157.2,349L1157.5,349L1157.8,349L1158,349L1158.2,349L1158.5,349L1158.8,349L1159,349L1159.2,349L1159.5,349L1159.8,349L1160,349L1160.2,349L1160.5,349L1160.8,349L1161,349L1161.2,349L1161.5,349L1161.8,349L1162,349L1162.2,349L1162.5,349L1162.8,349L1163,349L1163.2,349L1163.5,349L1163.8,349L1164,349L1164.2,349L1164.5,349L1164.8,349L1165,349L1165.2,348.9L1165.5,348.9L1165.8,348.9L1166,348.9L1166.2,348.9L1166.5,348.9L1166.8,348.9L1167,348.9L1167.2,348.9L1167.5,348.9L1167.8,348.9L1168,348.9L1168.2,348.9L1168.5,348.9L1168.8,348.9L1169,348.9L1169.2,348.9L1169.5,348.9L1169.8,348.9L1170,348.9L1170.2,348.9L1170.5,348.8L1170.8,348.8L1171,348.8L1171.2,348.8L1171.5,348.8L1171.8,348.8L1172,348.8L1172.2,348.8L1172.5,348.8L1172.8,348.8L1173,348.8L1173.2,348.8L1173.5,348.8L1173.8,348.8L1174,348.8L1174.2,348.8L1174.5,348.7L1174.8,348.7L1175,348.7L1175.2,348.7L1175.5,348.7L1175.8,348.7L1176,348.7L1176.2,348.7L1176.5,348.7L1176.8,348.7L1177,348.7L1177.2,348.7L1177.5,348.7L1177.8,348.6L1178,348.6L1178.2,348.6L1178.5,348.6L1178.8,348.6L1179,348.6L1179.2,348.6L1179.5,348.6L1179.8,348.6L1180,348.6L1180.2,348.6L1180.5,348.6L1180.8,348.6L1181,348.5L1181.2,348.5L1181.5,348.5L1181.8,348.5L1182,348.5L1182.2,348.5L1182.5,348.5L1182.8,348.5L1183,348.5L1183.2,348.5L1183.5,348.5L1183.8,348.5L1184,348.5L1184.2,348.5L1184.5,348.4L1184.8,348.4L1185,348.4L1185.2,348.4L1185.5,348.4L1185.8,348.4L1186,348.4L1186.2,348.4L1186.5,348.4L1186.8,348.4L1187,348.4L1187.2,348.4L1187.5,348.4L1187.8,348.4L1188,348.4L1188.2,348.4L1188.5,348.3L1188.8,348.3L1189,348.3L1189.2,348.3L1189.5,348.3L1189.8,348.3L1190,348.3L1190.2,348.3L1190.5,348.3L1190.8,348.3L1191,348.3L1191.2,348.3L1191.5,348.3L1191.8,348.3L1192,348.3L1192.2,348.3L1192.5,348.3L1192.8,348.3L1193,348.3L1193.2,348.3L1193.5,348.3L1193.8,348.3L1194,348.3L1194.2,348.3L1194.5,348.3L1194.8,348.3L1195,348.3L1195.2,348.3L1195.5,348.3L1195.8,348.3L1196,348.3L1196.2,348.3L1196.5,348.3L1196.8,348.3L1197,348.3L1197.2,348.3L1197.5,348.3L1197.8,348.3L1198,348.3L1198.2,348.3L1198.5,348.3L1198.8,348.3L1199,348.3L1199.2,348.3L1199.5,348.3L1199.8,348.4L1200,348.4L1200.2,348.4L1200.5,348.4L1200.8,348.4L1201,348.4L1201.2,348.4L1201.5,348.4L1201.8,348.4L1202,348.4L1202.2,348.4L1202.5,348.4L1202.8,348.4L1203,348.4L1203.2,348.4L1203.5,348.4L1203.8,348.5L1204,348.5L1204.2,348.5L1204.5,348.5L1204.8,348.5L1205,348.5L1205.2,348.5L1205.5,348.5L1205.8,348.5L1206,348.5L1206.2,348.5L1206.5,348.5L1206.8,348.5L1207,348.6L1207.2,348.6L1207.5,348.6L1207.8,348.6L1208,348.6L1208.2,348.6L1208.5,348.6L1208.8,348.6L1209,348.6L1209.2,348.6L1209.5,348.6L1209.8,348.6L1210,348.6L1210.2,348.7L1210.5,348.7L1210.8,348.7L1211,348.7L1211.2,348.7L1211.5,348.7L1211.8,348.7L1212,348.7L1212.2,348.7L1212.5,348.7L1212.8,348.7L1213,348.7L1213.2,348.7L1213.5,348.7L1213.8,348.8L1214,348.8L1214.2,348.8L1214.5,348.8L1214.8,348.8L1215,348.8L1215.2,348.8L1215.5,348.8L1215.8,348.8L1216,348.8L1216.2,348.8L1216.5,348.8L1216.8,348.8L1217,348.8L1217.2,348.8L1217.5,348.9L1217.8,348.9L1218,348.9L1218.2,348.9L1218.5,348.9L1218.8,348.9L1219,348.9L1219.2,348.9L1219.5,348.9L1219.8,348.9L1220,348.9L1220.2,348.9L1220.5,348.9L1220.8,348.9L1221,348.9L1221.2,348.9L1221.5,348.9L1221.8,348.9L1222,348.9L1222.2,348.9L1222.5,349L1222.8,349L1223,349L1223.2,349L1223.5,349L1223.8,349L1224,349L1224.2,349L1224.5,349L1224.8,349L1225,349L1225.2,349L1225.5,349L1225.8,349L1226,349L1226.2,349L1226.5,349L1226.8,349L1227,349L1227.2,349L1227.5,349L1227.8,349L1228,349L1228.2,349L1228.5,349L1228.8,349L1229,349L1229.2,349L1229.5,349L1229.8,349L1230,349L1230.2,349L1230.5,349L1230.8,349L1231,349L1231.2,349L1231.5,349L1231.8,349L1232,349L1232.2,349L1232.5,349.1L1239.5,349.1L1249.5,349.1L1254.2,349.1" fill="none" stroke="#ff0000" stroke-width="4" stroke-linejoin="round"/>
<rect x="729.5" y="28.3" width="524.8" height="386.3" fill="none" stroke="#000" stroke-width="4.6"/>
<path d="M729.5,414.6V423.9M854.4,414.6V420.4M979.3,414.6V423.9M1104.2,414.6V420.4M1229.1,414.6V423.9" stroke="#000" stroke-width="4.4" stroke-linecap="round"/>
<text x="729.5" y="454" text-anchor="middle" font-size="34">0</text>
<text x="979.3" y="454" text-anchor="middle" font-size="34">5</text>
<text x="1229.1" y="454" text-anchor="middle" font-size="34">10</text>
<text x="991.9" y="493" text-anchor="middle" font-size="44.5">Chemical shift (ppm)</text>
<text transform="translate(707,220.2) rotate(-90)" text-anchor="middle" font-size="44.5">Intensity</text>
<rect x="981.3" y="25.8" width="43.3" height="389" fill="#4472c4" fill-opacity="0.17"/>
</g>
<g id="panel-c">
<path d="M1449,368L1450.5,367.7L1452,367.6L1453.5,369.2L1455,368.3L1456.5,370L1458,368.5L1459.5,369.5L1461,369.3L1462.5,369L1464,370.2L1465.5,369.8L1467,370.6L1468.5,370.2L1470,369.6L1471.5,370.5L1473,370.8L1474.5,371.7L1476,370.4L1477.5,371.2L1479,370.1L1480.5,372L1482,370.9L1483.5,370.5L1485,371.9L1486.5,373L1488,371.1L1489.5,371.6L1491,372L1492.5,371.9L1494,373.2L1495.5,372.4L1497,372.7L1498.5,373.8L1500,373L1501.5,374.1L1503,373.3L1504.5,373.4L1506,373.2L1507.5,376.2L1509,374.9L1510.5,375.6L1512,375.7L1513.5,376.2L1515,376.4L1516.5,378.2L1518,376.3L1519.5,376.2L1521,377L1522.5,377.1L1524,378.9L1525.5,379.3L1527,378.3L1528.5,378.3L1530,379.4L1531.5,381L1533,378.1L1534.5,381L1536,380.1L1537.5,382L1539,380.7L1540.5,381.6L1542,381L1543.5,381.8L1545,383.8L1546.5,383.7L1548,383.1L1549.5,383L1551,382.5L1552.5,383.9L1554,384.5L1555.5,384.7L1557,384.9L1558.5,384.4L1560,385.4L1561.5,385.6L1563,386.8L1564.5,387.4L1566,386.1L1567.5,385.9L1569,386.6L1570.5,386.4L1572,386.5L1573.5,387.2L1575,386.7L1576.5,388.1L1578,387.8L1579.5,388.3L1581,388.3L1582.5,388.1L1584,388.3L1585.5,389.1L1587,389.3L1588.5,390.2L1590,390.4L1591.5,389.8L1593,391.3L1594.5,390.6L1596,391.6L1597.5,392.2L1599,391.3L1600.5,393.3L1602,393.8L1603.5,393.9L1605,394.1L1606.5,394.5L1608,394.4L1609.5,395.2L1611,395.3L1612.5,396L1614,395.3L1615.5,396.6L1617,396.8L1618.5,396.8L1620,396.8L1621.5,397.8L1623,396.3L1624.5,398.1L1626,398.2L1627.5,398.4L1629,398.7L1630.5,398.1L1632,398.6L1633.5,399.5L1635,399.6L1636.5,399.7L1638,398.6L1639.5,400.4L1641,401.2L1642.5,401.3L1644,401L1645.5,400L1647,402.1L1648.5,401.6L1650,400.1L1651.5,402.6L1653,401.5L1654.5,401.9L1656,402.7L1657.5,404.4L1659,403.4L1660.5,404.2L1662,405.5L1663.5,405.6L1665,404.6L1666.5,404.7L1668,404.1L1669.5,404.7L1671,405.8L1672.5,405.9L1674,405.9L1675.5,406.7L1677,405.6L1678.5,406.3L1680,407L1681.5,407.1L1683,407.6L1684.5,407.3L1686,406.9L1687.5,407.6L1689,406.7L1690.5,406.4L1692,408.2L1693.5,407.9L1695,408.4L1696.5,407L1698,408.2L1699.5,408.2L1701,408.1L1702.5,407.3L1704,408.9L1705.5,409.9L1707,409.7L1708.5,409.1L1710,409.7L1711.5,410.4L1713,407.9L1714.5,410L1716,410.7L1717.5,410.9L1719,411.8L1720.5,411.5L1722,411L1723.5,411L1725,411.5L1726.5,410.6L1728,411.1L1729.5,411.9L1731,412.8L1732.5,411.3L1734,411.5L1735.5,411.7L1737,412.7L1738.5,411.7L1740,412.9L1741.5,411.1L1743,411.8L1744.5,411.8L1746,412.6L1747.5,412.9L1749,411L1750.5,411.5L1752,412.5L1753.5,411.8L1755,411.2L1756.5,413.1L1758,412.8L1759.5,412.8L1761,412.1L1762.5,413.3L1764,412.4L1765.5,413.4L1767,412L1768.5,412L1770,412.9L1771.5,412.2L1773,413.3L1774.5,413L1776,412.2L1777.5,412.9L1779,412.7L1780.5,413.6L1782,412.5L1783.5,412.7L1785,413.9L1786.5,414.7L1788,414.6L1789.5,413.1L1791,413.3L1792.5,414.3L1794,413.1L1795.5,412.4L1797,413.3L1798.5,413.5L1800,412.6L1801.5,412L1803,412.1L1804.5,413.7L1806,412.7L1807.5,413.1L1809,413.4L1810.5,413.7L1812,413L1813.5,413.7L1815,412.6L1816.5,413L1818,412.6L1819.5,414.2L1821,413.3L1822.5,412.8L1824,413.1L1825.5,413.2L1827,413.9L1828.5,412.2L1830,412.6L1831.5,413.1L1833,415.3L1834.5,414.1L1836,413.3L1837.5,414L1839,415L1840.5,413.3L1842,413.2L1843.5,414.4L1845,413.8L1846.5,414L1848,413.1L1849.5,414.9L1851,414.8L1852.5,413.9L1854,414L1855.5,412L1857,414L1858.5,413.4L1860,413.9L1861.5,414L1863,413.3L1864.5,412.3L1866,413.8L1867.5,413L1869,413.3L1870.5,413.1L1872,413.3L1873.5,411.8L1875,414.5L1876.5,413.8L1878,414.4L1879.5,415.1L1881,413.6L1882.5,412.2L1884,412.9L1885.5,412.7L1887,413.2L1888.5,413.7L1890,412.1L1891.5,413.9L1893,412.5L1894.5,413.8L1896,413.5L1897.5,413.4L1899,413.5L1900.5,413.2L1902,413.1L1903.5,412.3L1905,413.6L1906.5,415L1908,415.1L1909.5,414.6L1911,414.1L1912.5,413.1L1914,414.7L1915.5,413.6L1917,413.5L1918.5,413.4L1920,413.7L1921.5,413.3L1923,413.5L1924.5,412.8L1926,413.3L1927.5,415.3L1929,413.5L1930.5,413.4L1932,414L1933.5,414.1L1935,412.8L1936.5,413.4L1938,414.3L1939.5,413.8L1941,413.7L1942.5,414.8L1944,413.1L1945.5,413.7L1947,413.2L1948.5,414.7L1950,412.1L1951.5,413.1L1953,413.2L1954.5,414.1L1956,414.1L1957.5,414.6L1959,412.4L1960.5,414.2L1962,413.4L1963.5,413.1L1965,414L1966.5,412.9L1968,412L1969.5,413.3L1971,412.5" fill="none" stroke="#000000" stroke-width="4.9" stroke-linejoin="round"/>
<path d="M1449,370.8L1450.5,371.7L1452,371.8L1453.5,372.8L1455,371.6L1456.5,370.7L1458,371.4L1459.5,371.4L1461,371.3L1462.5,372.7L1464,372L1465.5,371.1L1467,373.3L1468.5,372.8L1470,373.3L1471.5,373.2L1473,373.8L1474.5,373.5L1476,374.5L1477.5,374.1L1479,374.2L1480.5,374.4L1482,373.1L1483.5,374.2L1485,374.3L1486.5,374.8L1488,373.8L1489.5,376.3L1491,375.3L1492.5,374.5L1494,374.3L1495.5,375.5L1497,375.9L1498.5,375.6L1500,376.4L1501.5,376L1503,377.1L1504.5,376.4L1506,377.1L1507.5,378.1L1509,379.5L1510.5,377L1512,377.7L1513.5,377.6L1515,379.1L1516.5,377.9L1518,378.6L1519.5,379.2L1521,378.7L1522.5,379L1524,379.6L1525.5,378.6L1527,379.3L1528.5,380.3L1530,381L1531.5,381L1533,380.1L1534.5,381.3L1536,382.5L1537.5,382.6L1539,382.4L1540.5,382L1542,383.4L1543.5,382.8L1545,382.6L1546.5,383.1L1548,385L1549.5,384.2L1551,385.1L1552.5,384L1554,385.2L1555.5,384.2L1557,384.6L1558.5,386.7L1560,385.4L1561.5,384.6L1563,384.9L1564.5,385.3L1566,386L1567.5,384.8L1569,383.9L1570.5,385.1L1572,385.4L1573.5,385.5L1575,386.5L1576.5,385.8L1578,386.3L1579.5,384.9L1581,386.5L1582.5,387.5L1584,386.6L1585.5,386.4L1587,386.5L1588.5,387.9L1590,386.1L1591.5,386.9L1593,387.6L1594.5,388L1596,387.4L1597.5,388.2L1599,388L1600.5,388.5L1602,388.6L1603.5,388.1L1605,389.2L1606.5,390.1L1608,389L1609.5,389.7L1611,390.6L1612.5,389.6L1614,390.7L1615.5,390L1617,391.9L1618.5,393L1620,393L1621.5,391.5L1623,392.4L1624.5,392.2L1626,392.4L1627.5,393.7L1629,391.8L1630.5,393.8L1632,393.2L1633.5,394.6L1635,393.9L1636.5,393.5L1638,394.5L1639.5,395.1L1641,394.9L1642.5,395.5L1644,395.1L1645.5,394.2L1647,396.8L1648.5,396.9L1650,396.9L1651.5,397.1L1653,398.2L1654.5,397.4L1656,397.5L1657.5,398.2L1659,399.6L1660.5,397.9L1662,400.1L1663.5,399L1665,398.9L1666.5,401L1668,400.2L1669.5,399.5L1671,400.4L1672.5,401.6L1674,402L1675.5,401L1677,401.8L1678.5,402.3L1680,401.4L1681.5,402.4L1683,402.3L1684.5,402.1L1686,402.4L1687.5,403L1689,403.2L1690.5,403L1692,403.4L1693.5,404.8L1695,404.4L1696.5,405.3L1698,405.8L1699.5,405.6L1701,407L1702.5,404.9L1704,406.3L1705.5,405.6L1707,407.4L1708.5,407.4L1710,404.8L1711.5,405.7L1713,407.1L1714.5,407.3L1716,407.4L1717.5,406.9L1719,407.4L1720.5,407.7L1722,407.3L1723.5,408.2L1725,405.8L1726.5,408.1L1728,407L1729.5,408.6L1731,407.8L1732.5,407.4L1734,408.4L1735.5,407.6L1737,407.7L1738.5,407.3L1740,408.5L1741.5,409L1743,409.5L1744.5,408.8L1746,409.8L1747.5,409.1L1749,409.1L1750.5,409.7L1752,410.2L1753.5,409.3L1755,409.5L1756.5,409.6L1758,409.9L1759.5,409.3L1761,410.9L1762.5,409.9L1764,410.6L1765.5,409.8L1767,410.8L1768.5,410.9L1770,410.4L1771.5,412.3L1773,411.2L1774.5,412.3L1776,411.8L1777.5,410.7L1779,411L1780.5,411.7L1782,411.5L1783.5,411.6L1785,411.4L1786.5,410.3L1788,411.6L1789.5,410.2L1791,412.2L1792.5,411.4L1794,411.5L1795.5,411.9L1797,412.3L1798.5,411.1L1800,410.9L1801.5,411.5L1803,410.8L1804.5,411.6L1806,413.6L1807.5,411.7L1809,413L1810.5,411.5L1812,412.8L1813.5,412.4L1815,412.6L1816.5,413.1L1818,414.1L1819.5,412.9L1821,412.9L1822.5,412.1L1824,413.4L1825.5,412.8L1827,413.6L1828.5,413L1830,414.4L1831.5,411.6L1833,412.9L1834.5,413.8L1836,412.9L1837.5,412.6L1839,413.1L1840.5,412.3L1842,413.4L1843.5,415.2L1845,414.2L1846.5,412.6L1848,412.8L1849.5,413.1L1851,414.2L1852.5,412.9L1854,413L1855.5,414.2L1857,414.2L1858.5,413.3L1860,412.7L1861.5,412.4L1863,413.1L1864.5,411.9L1866,414.2L1867.5,413.1L1869,414L1870.5,415L1872,414.5L1873.5,412.7L1875,414.2L1876.5,414.5L1878,413L1879.5,412.9L1881,413.5L1882.5,412.4L1884,414.7L1885.5,411.8L1887,412.7L1888.5,413.4L1890,413.4L1891.5,413.7L1893,413.7L1894.5,413.4L1896,414.4L1897.5,411.9L1899,413.5L1900.5,412.9L1902,413.6L1903.5,413.6L1905,412.8L1906.5,413L1908,414L1909.5,413.7L1911,412.9L1912.5,414.9L1914,415L1915.5,412.2L1917,413.4L1918.5,415L1920,413.6L1921.5,413.1L1923,412.6L1924.5,412.3L1926,412.4L1927.5,412L1929,412.8L1930.5,411.8L1932,411.7L1933.5,410.9L1935,411.7L1936.5,410.9L1938,411.3L1939.5,412L1941,411.4L1942.5,411.3L1944,411.1L1945.5,410.7L1947,410.3L1948.5,410L1950,410.6L1951.5,409.1L1953,410.7L1954.5,409.5L1956,408.7L1957.5,408.6L1959,408.3L1960.5,408.7L1962,407.8L1963.5,408.9L1965,407.2L1966.5,405.9L1968,406.8L1969.5,405.6L1971,406.8" fill="none" stroke="#ff00ff" stroke-width="4.9" stroke-linejoin="round"/>
<path d="M1449,378.7L1450.5,378.4L1452,377L1453.5,377.4L1455,379.4L1456.5,378.4L1458,378.2L1459.5,379L1461,380.1L1462.5,379.3L1464,378.5L1465.5,378.8L1467,379L1468.5,378.2L1470,377.9L1471.5,378.9L1473,378.2L1474.5,378.9L1476,379.1L1477.5,380.9L1479,378.6L1480.5,379.3L1482,379.3L1483.5,379.9L1485,380.4L1486.5,379.4L1488,379.2L1489.5,378.7L1491,379.4L1492.5,380.6L1494,380.4L1495.5,379.7L1497,380.3L1498.5,380.8L1500,381.3L1501.5,380.7L1503,381.1L1504.5,380.2L1506,380.8L1507.5,383.1L1509,380.5L1510.5,382L1512,382.6L1513.5,382.4L1515,382.2L1516.5,383L1518,383.2L1519.5,383.3L1521,382.1L1522.5,383.5L1524,383.1L1525.5,383.5L1527,384.2L1528.5,384.6L1530,384.9L1531.5,383.9L1533,385.1L1534.5,385.4L1536,385.4L1537.5,385.7L1539,384.6L1540.5,384.7L1542,385.5L1543.5,383.9L1545,385.1L1546.5,384.6L1548,384.7L1549.5,383.5L1551,383.5L1552.5,383.3L1554,383.1L1555.5,382.2L1557,380.5L1558.5,379.7L1560,378.4L1561.5,378.5L1563,377.3L1564.5,377.2L1566,377.3L1567.5,375.3L1569,373.6L1570.5,373.5L1572,372.5L1573.5,372.1L1575,373.4L1576.5,372L1578,370L1579.5,371L1581,370.8L1582.5,369L1584,368.3L1585.5,368.1L1587,368L1588.5,367.8L1590,367.8L1591.5,367.4L1593,367L1594.5,366.8L1596,366.1L1597.5,364.4L1599,365.4L1600.5,365.8L1602,365.4L1603.5,366.6L1605,365.8L1606.5,365.6L1608,367.6L1609.5,367.3L1611,367.2L1612.5,367.9L1614,368.3L1615.5,368.1L1617,366.3L1618.5,367.9L1620,368.4L1621.5,368.4L1623,369.6L1624.5,370.8L1626,369.9L1627.5,369.8L1629,372.6L1630.5,371.1L1632,371L1633.5,372.5L1635,373.1L1636.5,372.7L1638,374.3L1639.5,373.8L1641,373.9L1642.5,375.2L1644,376.1L1645.5,375.5L1647,376.7L1648.5,376.9L1650,379.5L1651.5,377.3L1653,379.3L1654.5,378.7L1656,379.1L1657.5,380.2L1659,380.7L1660.5,381.5L1662,381.2L1663.5,381L1665,381.5L1666.5,382.7L1668,383.2L1669.5,384.3L1671,384L1672.5,384.9L1674,385.8L1675.5,385.2L1677,384.5L1678.5,385.2L1680,385.5L1681.5,388.3L1683,387L1684.5,389.1L1686,389.2L1687.5,390.6L1689,390.6L1690.5,390.4L1692,390.8L1693.5,391.6L1695,392.2L1696.5,392.1L1698,392.9L1699.5,394.6L1701,392.5L1702.5,394.3L1704,393.8L1705.5,395L1707,395.8L1708.5,395.4L1710,396.4L1711.5,394.9L1713,397.2L1714.5,396.3L1716,397.5L1717.5,397.4L1719,395.6L1720.5,397.3L1722,398.3L1723.5,399.5L1725,398.8L1726.5,399.1L1728,398.1L1729.5,400.5L1731,401L1732.5,399.9L1734,400L1735.5,399.2L1737,401.4L1738.5,403L1740,401.8L1741.5,402.5L1743,402.2L1744.5,401.3L1746,403.4L1747.5,401.7L1749,402.8L1750.5,403.5L1752,404.2L1753.5,404.2L1755,404.4L1756.5,403.8L1758,403.7L1759.5,405L1761,404.7L1762.5,404.5L1764,404.8L1765.5,405.6L1767,404.8L1768.5,405.4L1770,405.4L1771.5,406.9L1773,407.3L1774.5,408.6L1776,406.2L1777.5,407L1779,408.3L1780.5,407.7L1782,407.7L1783.5,409.4L1785,408L1786.5,407.6L1788,407.6L1789.5,409L1791,409.1L1792.5,408L1794,408.5L1795.5,409.7L1797,409.9L1798.5,409.1L1800,410.2L1801.5,410.3L1803,408.6L1804.5,409.9L1806,410.5L1807.5,409.9L1809,408.8L1810.5,410.3L1812,411.2L1813.5,411.9L1815,409.2L1816.5,412.9L1818,410.2L1819.5,411.8L1821,412.1L1822.5,412L1824,411.5L1825.5,410.6L1827,412L1828.5,411L1830,409.7L1831.5,413.8L1833,412.3L1834.5,413.2L1836,411.2L1837.5,413.1L1839,413.2L1840.5,413.2L1842,412.1L1843.5,411.3L1845,412.1L1846.5,410.7L1848,411.1L1849.5,412.5L1851,411.7L1852.5,412.4L1854,412.5L1855.5,414.1L1857,413.7L1858.5,412.7L1860,413.7L1861.5,412.3L1863,412.6L1864.5,413.6L1866,412L1867.5,412.8L1869,412.1L1870.5,413.2L1872,414.4L1873.5,412.6L1875,413.4L1876.5,412.6L1878,412.4L1879.5,412.4L1881,414.4L1882.5,415.2L1884,413.8L1885.5,412.9L1887,414L1888.5,413.2L1890,414.1L1891.5,413.7L1893,413.8L1894.5,414L1896,413.1L1897.5,413.3L1899,412.3L1900.5,413.3L1902,412.5L1903.5,413.5L1905,412.9L1906.5,413.7L1908,414L1909.5,412.6L1911,413L1912.5,413L1914,414.2L1915.5,415L1917,414.3L1918.5,413.4L1920,414.8L1921.5,412.6L1923,414.8L1924.5,413.2L1926,411.6L1927.5,415.7L1929,414.9L1930.5,413L1932,413.9L1933.5,413.6L1935,413.8L1936.5,412.6L1938,413.2L1939.5,414.1L1941,413.9L1942.5,414.7L1944,413.8L1945.5,415.5L1947,413.2L1948.5,414L1950,412.3L1951.5,412.8L1953,414.8L1954.5,413.1L1956,414.2L1957.5,413.7L1959,413L1960.5,413.5L1962,413.4L1963.5,413.4L1965,414.4L1966.5,414.3L1968,413.4L1969.5,413.1L1971,414" fill="none" stroke="#008000" stroke-width="4.9" stroke-linejoin="round"/>
<path d="M1449,381.4L1450.5,382.3L1452,383.6L1453.5,382.2L1455,381.6L1456.5,381.6L1458,381.1L1459.5,381.1L1461,381.1L1462.5,381.6L1464,381.6L1465.5,382.5L1467,381.7L1468.5,381.9L1470,381.2L1471.5,383.4L1473,382.6L1474.5,383.6L1476,383L1477.5,383.5L1479,382.3L1480.5,383.1L1482,384.7L1483.5,381.8L1485,383.6L1486.5,384.1L1488,383.2L1489.5,383.6L1491,384L1492.5,382.6L1494,383.5L1495.5,382.7L1497,382.9L1498.5,383.1L1500,383.6L1501.5,383.9L1503,384.3L1504.5,383L1506,385.8L1507.5,385.3L1509,385.1L1510.5,384.4L1512,384.7L1513.5,385.3L1515,385.3L1516.5,383.8L1518,385.8L1519.5,387.5L1521,383.9L1522.5,386.2L1524,385.7L1525.5,385.4L1527,386.6L1528.5,384.6L1530,385.5L1531.5,386.4L1533,385L1534.5,384.6L1536,384.8L1537.5,384.1L1539,385.4L1540.5,383L1542,383.5L1543.5,380.8L1545,381L1546.5,379.1L1548,375.9L1549.5,376.7L1551,374.6L1552.5,373.7L1554,373.8L1555.5,370.3L1557,368.9L1558.5,369.3L1560,366.7L1561.5,366.2L1563,363.5L1564.5,360.9L1566,359.7L1567.5,358.9L1569,356.7L1570.5,354L1572,352L1573.5,349.9L1575,347.7L1576.5,347.8L1578,344.6L1579.5,342L1581,340.8L1582.5,339.9L1584,338L1585.5,335.5L1587,333.1L1588.5,331.6L1590,328.3L1591.5,326.7L1593,326.6L1594.5,324L1596,323.2L1597.5,322.5L1599,320.8L1600.5,319.1L1602,319.5L1603.5,317.3L1605,315.5L1606.5,315.4L1608,314.4L1609.5,312.8L1611,313L1612.5,312.4L1614,310.6L1615.5,311.6L1617,311.1L1618.5,310.7L1620,309.5L1621.5,310.3L1623,310.5L1624.5,310.6L1626,309.9L1627.5,311.8L1629,311.1L1630.5,312.7L1632,314.9L1633.5,314.4L1635,315.6L1636.5,317.9L1638,317.8L1639.5,319L1641,320.7L1642.5,322.7L1644,321.6L1645.5,324.1L1647,325.4L1648.5,326.7L1650,328.2L1651.5,329.5L1653,331.5L1654.5,331.7L1656,333.6L1657.5,334.9L1659,335.1L1660.5,336.8L1662,339.1L1663.5,339.2L1665,339.6L1666.5,341.2L1668,341.7L1669.5,343.8L1671,345.5L1672.5,345.4L1674,347L1675.5,349.2L1677,349.2L1678.5,350.8L1680,351L1681.5,352.3L1683,353.7L1684.5,356.8L1686,356L1687.5,357L1689,358L1690.5,359.4L1692,361.1L1693.5,361.8L1695,364.2L1696.5,363.8L1698,365.8L1699.5,365.9L1701,367.1L1702.5,366.6L1704,368.6L1705.5,369.7L1707,370.6L1708.5,370.2L1710,373.5L1711.5,373.6L1713,374.6L1714.5,375.7L1716,376.7L1717.5,378.1L1719,377.7L1720.5,378.8L1722,380.6L1723.5,381.3L1725,381.7L1726.5,382.3L1728,382.9L1729.5,384.2L1731,385.9L1732.5,384.9L1734,387.5L1735.5,387.7L1737,387.4L1738.5,388.9L1740,387.8L1741.5,388.2L1743,389.1L1744.5,390.3L1746,390.9L1747.5,391.3L1749,392.2L1750.5,391.1L1752,393.5L1753.5,392.5L1755,393.6L1756.5,394.2L1758,394.1L1759.5,394.4L1761,395L1762.5,396.2L1764,397L1765.5,397.4L1767,396.6L1768.5,397.1L1770,397.4L1771.5,398.8L1773,397.3L1774.5,400.1L1776,399.1L1777.5,399.2L1779,400.4L1780.5,401.2L1782,401L1783.5,401.8L1785,401.4L1786.5,402.5L1788,402.8L1789.5,402.1L1791,403.5L1792.5,402.8L1794,403L1795.5,402.5L1797,403.2L1798.5,404.3L1800,403L1801.5,404.7L1803,404.7L1804.5,404.9L1806,403.3L1807.5,405.2L1809,406L1810.5,405.2L1812,406L1813.5,404.4L1815,406.9L1816.5,406.2L1818,407.5L1819.5,405.7L1821,407.8L1822.5,407.3L1824,408.3L1825.5,407.1L1827,407.5L1828.5,409.8L1830,407.7L1831.5,407.9L1833,408.4L1834.5,408L1836,409.8L1837.5,410.4L1839,408.7L1840.5,408.1L1842,410.4L1843.5,410.5L1845,410.4L1846.5,410.8L1848,409.4L1849.5,410.1L1851,409.3L1852.5,409.4L1854,411.3L1855.5,410.1L1857,412.5L1858.5,410.9L1860,410.5L1861.5,411.7L1863,412.5L1864.5,411.6L1866,410.4L1867.5,411.7L1869,412.5L1870.5,411.2L1872,411L1873.5,412.4L1875,411.8L1876.5,410.9L1878,411.5L1879.5,411.3L1881,412.2L1882.5,412.1L1884,412.9L1885.5,412.6L1887,411L1888.5,412.5L1890,412.9L1891.5,412.7L1893,413.1L1894.5,412L1896,411.8L1897.5,413.2L1899,411.8L1900.5,411L1902,413.4L1903.5,412.2L1905,412.5L1906.5,411.7L1908,411.8L1909.5,412L1911,412.6L1912.5,413.2L1914,411.2L1915.5,413.6L1917,412.1L1918.5,412.3L1920,413.6L1921.5,413.1L1923,412L1924.5,414.6L1926,412.6L1927.5,413.4L1929,413.4L1930.5,414.3L1932,413L1933.5,414.1L1935,412.8L1936.5,414.2L1938,412.8L1939.5,413.1L1941,414.8L1942.5,413.7L1944,413.5L1945.5,415.1L1947,413.7L1948.5,412.9L1950,414L1951.5,412.6L1953,414.4L1954.5,414.4L1956,413.1L1957.5,413.1L1959,413.7L1960.5,413.6L1962,412.8L1963.5,414L1965,412.1L1966.5,413.3L1968,413.3L1969.5,413.4L1971,413.8" fill="none" stroke="#000080" stroke-width="4.9" stroke-linejoin="round"/>
<path d="M1449,385.1L1450.5,386.4L1452,385.8L1453.5,385.5L1455,384.9L1456.5,385L1458,386.2L1459.5,385.2L1461,385.9L1462.5,386.7L1464,386.6L1465.5,387L1467,385.6L1468.5,385L1470,386.5L1471.5,386L1473,386.6L1474.5,385.7L1476,386.6L1477.5,386.3L1479,386.2L1480.5,386L1482,385.9L1483.5,385.8L1485,385.7L1486.5,386.3L1488,385.1L1489.5,386.8L1491,385.4L1492.5,386.2L1494,385.4L1495.5,385.3L1497,386.9L1498.5,385.2L1500,384.4L1501.5,384.8L1503,385.1L1504.5,387L1506,385.5L1507.5,386L1509,384.5L1510.5,385.5L1512,385.7L1513.5,386.6L1515,384.7L1516.5,385.6L1518,385.3L1519.5,384.3L1521,385L1522.5,384.6L1524,382.8L1525.5,384.5L1527,383.9L1528.5,382.6L1530,381.4L1531.5,382.9L1533,381.4L1534.5,381.2L1536,380.7L1537.5,378.4L1539,378.5L1540.5,376.7L1542,375.6L1543.5,374.2L1545,372.8L1546.5,372.1L1548,369.8L1549.5,367.9L1551,366L1552.5,364.6L1554,361.6L1555.5,359.8L1557,358L1558.5,355.3L1560,353.3L1561.5,350.5L1563,349.9L1564.5,346.6L1566,343L1567.5,339.4L1569,337.5L1570.5,332.2L1572,328L1573.5,324.5L1575,320.8L1576.5,317.9L1578,313.1L1579.5,311L1581,305.3L1582.5,303.1L1584,298.6L1585.5,297.5L1587,292.8L1588.5,290L1590,287.7L1591.5,285.1L1593,280.6L1594.5,278.5L1596,275.3L1597.5,273.9L1599,271.2L1600.5,268.5L1602,265.8L1603.5,263.7L1605,261.3L1606.5,260.4L1608,259.6L1609.5,255.9L1611,256.5L1612.5,255.7L1614,255.7L1615.5,254.1L1617,254.2L1618.5,253.2L1620,254.3L1621.5,253.7L1623,253.5L1624.5,254.3L1626,254.4L1627.5,254.2L1629,256.7L1630.5,257.5L1632,258.4L1633.5,260.5L1635,261.9L1636.5,261.4L1638,262.9L1639.5,266L1641,267.5L1642.5,267.5L1644,269L1645.5,271.3L1647,273.4L1648.5,274.5L1650,277.7L1651.5,278.7L1653,280.8L1654.5,284.7L1656,285.7L1657.5,288.5L1659,291.4L1660.5,293.8L1662,295.2L1663.5,297.6L1665,298.9L1666.5,302.7L1668,303.6L1669.5,304.1L1671,306.6L1672.5,308.8L1674,310.4L1675.5,313.1L1677,314.5L1678.5,314.9L1680,317.1L1681.5,318.2L1683,321.4L1684.5,323.3L1686,327.2L1687.5,327.2L1689,327.4L1690.5,330.3L1692,332.6L1693.5,333.1L1695,334.9L1696.5,336.7L1698,338.7L1699.5,339.7L1701,340.6L1702.5,343.3L1704,343.8L1705.5,345.3L1707,346.1L1708.5,348L1710,350.5L1711.5,350.2L1713,352.8L1714.5,354.8L1716,355.4L1717.5,357.2L1719,357.5L1720.5,360.6L1722,361.6L1723.5,362.2L1725,361.9L1726.5,363.7L1728,366.4L1729.5,368.1L1731,368.2L1732.5,370L1734,369.7L1735.5,371.1L1737,372.3L1738.5,373.6L1740,373.1L1741.5,375.9L1743,377.1L1744.5,376.1L1746,376.9L1747.5,379L1749,379.1L1750.5,378.6L1752,381.8L1753.5,382.1L1755,382.4L1756.5,385.1L1758,384.4L1759.5,384.5L1761,385.8L1762.5,385.7L1764,386.6L1765.5,388.1L1767,388L1768.5,388.7L1770,391L1771.5,390.9L1773,391.5L1774.5,391.9L1776,392.4L1777.5,393.7L1779,393.2L1780.5,395.1L1782,393.6L1783.5,394.6L1785,394.3L1786.5,395.6L1788,396.7L1789.5,397.9L1791,396.8L1792.5,397.7L1794,397.9L1795.5,398L1797,398.1L1798.5,399.4L1800,398.5L1801.5,400.2L1803,400.5L1804.5,400.4L1806,400.4L1807.5,400.5L1809,403.3L1810.5,401.2L1812,403.7L1813.5,403.3L1815,402.8L1816.5,402.5L1818,404.5L1819.5,405.3L1821,403.5L1822.5,404.3L1824,405.5L1825.5,405.2L1827,406.7L1828.5,405L1830,406.1L1831.5,404.9L1833,407.7L1834.5,405.8L1836,404.9L1837.5,406.6L1839,406.8L1840.5,408.6L1842,407.1L1843.5,407.5L1845,408.2L1846.5,409.1L1848,408.1L1849.5,409.1L1851,408.9L1852.5,408.4L1854,408.9L1855.5,409L1857,408.4L1858.5,410.2L1860,408.4L1861.5,410.4L1863,410.4L1864.5,409.7L1866,409.3L1867.5,409.8L1869,410.4L1870.5,410.7L1872,410.4L1873.5,411L1875,409.9L1876.5,410.6L1878,409.3L1879.5,411.1L1881,410.7L1882.5,410.4L1884,411.6L1885.5,411.3L1887,408.7L1888.5,410.9L1890,409.9L1891.5,411.8L1893,412.9L1894.5,410.7L1896,411.2L1897.5,411L1899,411.5L1900.5,411.8L1902,412.3L1903.5,410.7L1905,412.6L1906.5,410.8L1908,411.7L1909.5,412.4L1911,412.1L1912.5,410.9L1914,411.1L1915.5,411.4L1917,411.7L1918.5,412.6L1920,410.8L1921.5,412.2L1923,412.3L1924.5,412.3L1926,412.3L1927.5,413.1L1929,412.4L1930.5,412.7L1932,412.5L1933.5,413.4L1935,410.7L1936.5,413.1L1938,412L1939.5,412L1941,411.5L1942.5,410.8L1944,412L1945.5,411.8L1947,412.7L1948.5,411.2L1950,413.4L1951.5,412.6L1953,412.2L1954.5,411.9L1956,411.9L1957.5,411.6L1959,412.1L1960.5,412.5L1962,412.4L1963.5,411.5L1965,412.3L1966.5,411.9L1968,412.7L1969.5,414L1971,413.1" fill="none" stroke="#8000ff" stroke-width="4.9" stroke-linejoin="round"/>
<path d="M1449,392.5L1450.5,391.3L1452,391.4L1453.5,391L1455,392.7L1456.5,391.5L1458,391.9L1459.5,391.3L1461,391.7L1462.5,392.5L1464,390.8L1465.5,391L1467,390.5L1468.5,391.6L1470,390L1471.5,389.8L1473,389.5L1474.5,389.3L1476,390.6L1477.5,392.1L1479,389.2L1480.5,390.6L1482,389.9L1483.5,388.8L1485,389.2L1486.5,389.1L1488,388.7L1489.5,390.5L1491,387.5L1492.5,389.1L1494,388.9L1495.5,388.1L1497,388.5L1498.5,389L1500,388.3L1501.5,388.4L1503,388.5L1504.5,386.3L1506,388.8L1507.5,389.2L1509,388.1L1510.5,388L1512,385.9L1513.5,386.7L1515,385.9L1516.5,385.8L1518,386.6L1519.5,384.9L1521,384.9L1522.5,382.9L1524,383.2L1525.5,382.2L1527,380.3L1528.5,378.8L1530,379.3L1531.5,375.5L1533,373.9L1534.5,372.3L1536,371.9L1537.5,370.6L1539,367.2L1540.5,364.4L1542,362.4L1543.5,361.2L1545,357.2L1546.5,356.2L1548,353L1549.5,348.6L1551,345.2L1552.5,341.1L1554,337.1L1555.5,330.1L1557,325.7L1558.5,317.8L1560,310.1L1561.5,303L1563,294.8L1564.5,286.3L1566,278L1567.5,271.1L1569,265.9L1570.5,259.5L1572,252L1573.5,245.8L1575,238.1L1576.5,232L1578,225.8L1579.5,218.2L1581,211.6L1582.5,205.5L1584,197.8L1585.5,189.5L1587,182.6L1588.5,174.4L1590,168.2L1591.5,161.1L1593,155.6L1594.5,151.5L1596,147.3L1597.5,143.3L1599,140.1L1600.5,137.9L1602,135L1603.5,132.8L1605,127.9L1606.5,126.1L1608,123.3L1609.5,121L1611,117.9L1612.5,115.5L1614,114.5L1615.5,112.4L1617,110.2L1618.5,111.5L1620,111.3L1621.5,110.5L1623,112.1L1624.5,111.7L1626,114L1627.5,114.1L1629,114.9L1630.5,116.5L1632,117.6L1633.5,119.8L1635,121.3L1636.5,123.1L1638,125L1639.5,125.3L1641,131L1642.5,132.5L1644,137.3L1645.5,141.1L1647,143.6L1648.5,146.1L1650,149.4L1651.5,152.7L1653,155.7L1654.5,159.1L1656,162.3L1657.5,167.5L1659,170.2L1660.5,174.6L1662,177.5L1663.5,181.5L1665,185.1L1666.5,189.6L1668,193.9L1669.5,197.7L1671,201.3L1672.5,205.5L1674,211.6L1675.5,214.5L1677,218.7L1678.5,224.3L1680,228.3L1681.5,232.3L1683,236L1684.5,242.5L1686,245.4L1687.5,249.7L1689,253.3L1690.5,256.2L1692,259.8L1693.5,264.6L1695,267.9L1696.5,270.6L1698,273L1699.5,275.8L1701,279.6L1702.5,281.6L1704,286.2L1705.5,289.1L1707,293L1708.5,294.2L1710,295.6L1711.5,297.8L1713,298.3L1714.5,302.8L1716,305.4L1717.5,308.6L1719,310.6L1720.5,312.9L1722,314.9L1723.5,317.6L1725,320.5L1726.5,321L1728,323.8L1729.5,325.4L1731,329.9L1732.5,331.8L1734,333.5L1735.5,334L1737,336.9L1738.5,338.4L1740,340.3L1741.5,341.8L1743,344L1744.5,344.9L1746,347.4L1747.5,348.5L1749,349.6L1750.5,351.2L1752,352.4L1753.5,354.7L1755,355.3L1756.5,357.1L1758,358L1759.5,358.5L1761,361.5L1762.5,361.3L1764,363.9L1765.5,364.9L1767,364.6L1768.5,366.3L1770,367.7L1771.5,368.6L1773,369.5L1774.5,372L1776,372.4L1777.5,373.9L1779,374.4L1780.5,376L1782,376.2L1783.5,377.8L1785,379.2L1786.5,379.8L1788,380.4L1789.5,380.9L1791,382.7L1792.5,383.7L1794,384.1L1795.5,384.6L1797,386.3L1798.5,388.6L1800,387.2L1801.5,388.4L1803,389.1L1804.5,387.6L1806,390.3L1807.5,390.4L1809,392.6L1810.5,392L1812,392.2L1813.5,393.2L1815,394.1L1816.5,394.1L1818,395L1819.5,394.6L1821,396L1822.5,397.2L1824,398.6L1825.5,398.2L1827,398.3L1828.5,399.4L1830,399.8L1831.5,400.7L1833,400.7L1834.5,400.3L1836,401L1837.5,401.3L1839,401.8L1840.5,402.2L1842,401.8L1843.5,401.2L1845,402.6L1846.5,402L1848,403.9L1849.5,404.1L1851,403.2L1852.5,405.2L1854,405.6L1855.5,405.3L1857,406.7L1858.5,407.1L1860,405.1L1861.5,407L1863,406.8L1864.5,407L1866,407.6L1867.5,406.5L1869,406.8L1870.5,406.9L1872,407.1L1873.5,407.8L1875,407L1876.5,407.5L1878,408.9L1879.5,408.6L1881,409.1L1882.5,407.5L1884,408.5L1885.5,408.8L1887,409.4L1888.5,409L1890,410.3L1891.5,409.7L1893,409.8L1894.5,409.9L1896,410.5L1897.5,409.7L1899,411L1900.5,410.6L1902,410.4L1903.5,410.4L1905,410.8L1906.5,411.3L1908,411.3L1909.5,410.9L1911,411.3L1912.5,410.8L1914,411.7L1915.5,410.8L1917,409.3L1918.5,411.9L1920,411L1921.5,410.1L1923,410.8L1924.5,410.4L1926,412.6L1927.5,411.5L1929,410L1930.5,411.6L1932,410.9L1933.5,412.7L1935,410.5L1936.5,409.7L1938,411.5L1939.5,411.2L1941,411.2L1942.5,410L1944,412L1945.5,413L1947,410.3L1948.5,412.7L1950,411.5L1951.5,413.7L1953,412.3L1954.5,411.9L1956,413L1957.5,412.6L1959,411.8L1960.5,412.9L1962,412L1963.5,411.1L1965,414.1L1966.5,412.3L1968,412.2L1969.5,413L1971,411.6" fill="none" stroke="#800080" stroke-width="4.9" stroke-linejoin="round"/>
<rect x="1448.5" y="28.8" width="523.8" height="386.2" fill="none" stroke="#000" stroke-width="4.6"/>
<path d="M1553.3,415V424.3M1658,415V420.8M1762.8,415V424.3M1867.5,415V420.8M1972.3,415V424.3M1448.5,415H1440.2M1448.5,318.4H1440.2M1448.5,221.9H1440.2M1448.5,125.4H1440.2M1448.5,28.8H1440.2" stroke="#000" stroke-width="4.4" stroke-linecap="butt"/>
<text x="1553.3" y="454.7" text-anchor="middle" font-size="34">400</text>
<text x="1762.8" y="454.7" text-anchor="middle" font-size="34">500</text>
<text x="1972.3" y="454.7" text-anchor="middle" font-size="34">600</text>
<text x="1434.8" y="423.6" text-anchor="end" font-size="26">0</text>
<text x="1434.8" y="327.1" text-anchor="end" font-size="26">20000</text>
<text x="1434.8" y="230.5" text-anchor="end" font-size="26">40000</text>
<text x="1434.8" y="134" text-anchor="end" font-size="26">60000</text>
<text x="1434.8" y="37.4" text-anchor="end" font-size="26">80000</text>
<text x="1711.5" y="491.6" text-anchor="middle" font-size="44.5">Wavelength/nm</text>
<text transform="translate(1359.8,216.7) rotate(-90)" text-anchor="middle" font-size="44.5">PL Intensity (arb.u.)</text>
<text x="1892.7" y="149.1" text-anchor="end" font-size="41">10 min</text>
<text x="1892.7" y="377.8" text-anchor="end" font-size="41">0 min</text>
<path d="M1829.3,330.5V183" stroke="#000" stroke-width="5.4"/>
<path d="M1829.3,169.3L1837.2,184.7L1821.4,184.7Z" fill="#000"/>
</g>
<text x="-1.4" y="49.1" font-size="73">a</text>
<text x="661.5" y="48.5" font-size="73">b</text>
<text x="1289.2" y="48.6" font-size="73">c</text>
<text x="-2.2" y="597.8" font-size="72">d</text>
<g id="panel-d">
<text x="96" y="728" font-size="44.5">PPh<tspan font-size="30" dy="13">3</tspan></text>
<text x="232" y="698" font-size="46" font-style="italic">UV</text>
<path d="M198.5,713H316" stroke="#4472c4" stroke-width="7"/>
<path d="M334,713L314.4,703.2L314.4,722.8Z" fill="#4472c4"/>
<text x="340.8" y="728" font-size="44.5">Ph*</text><text x="426.8" y="728" font-size="44.5">+</text><text x="465.8" y="728" font-size="44.5">PPh</text><text x="546.2" y="741" font-size="30">2</text><text x="562.6" y="728" font-size="44.5">*</text>
<path d="M63,822.4 A60,60 0 1 1 63,942.2 Z" fill="url(#g0)"/><path d="M63,822.4 A60,60 0 1 1 63,942.2 Z" fill="url(#f0)"/><path d="M63,822.4 A60,60 0 1 1 63,942.2 Z" fill="url(#r0)"/>
<path d="M124.5,890.5L161.3,860.1L195.2,889.4L229.7,860.1L265.5,890.7" fill="none" stroke="#000" stroke-width="4.5" stroke-linejoin="miter" stroke-linecap="butt"/><path d="M265.5,890.7C265.5,883.1 267.5,876.9 269.9,876.9C272.4,876.9 274.4,879.6 274.4,883C274.4,875.4 276.4,869.2 278.8,869.2C281.3,869.2 283.3,871.9 283.3,875.3C283.3,867.7 285.3,861.5 287.7,861.5C290.1,861.5 292.1,864.3 292.1,867.7C292.1,862.8 294.8,863.7 294.8,858.8" fill="none" stroke="#000" stroke-width="3.6" stroke-linecap="round" stroke-linejoin="round"/>
<path d="M348.7,864H512" stroke="#4472c4" stroke-width="6.7"/>
<path d="M537.9,864L508.7,849.3L508.7,878.7Z" fill="#4472c4"/>
<path d="M358.6,749.5C359.5,822 392,862 432,864" fill="none" stroke="#4472c4" stroke-width="6.7"/>
<path d="M428,864C470,865 491,915 494.5,962" fill="none" stroke="#4472c4" stroke-width="6.7"/>
<path d="M495.5,979L483.8,958.5L505.2,958.5Z" fill="#4472c4"/>
<text x="451.6" y="1026.3" font-size="44.5">PhH</text>
<path d="M642.4,820.1 A61,61 0 1 1 642.4,941.9 Z" fill="url(#g3)"/><path d="M642.4,820.1 A61,61 0 1 1 642.4,941.9 Z" fill="url(#f3)"/><path d="M642.4,820.1 A61,61 0 1 1 642.4,941.9 Z" fill="url(#r3)"/>
<path d="M700.5,893L738.2,857.5L776.7,894.6L815.9,857.5L856.5,896" fill="none" stroke="#000" stroke-width="5.2" stroke-linejoin="miter" stroke-linecap="butt"/><path d="M856.5,896C856.5,886.9 858.7,879.5 861.4,879.5C864.1,879.5 866.3,882.5 866.3,886.2C866.3,877.1 868.6,869.7 871.3,869.7C874,869.7 876.2,872.7 876.2,876.4C876.2,867.3 878.4,859.9 881.1,859.9C883.8,859.9 886,862.9 886,866.6C886,860.8 889,861.9 889,856.1" fill="none" stroke="#000" stroke-width="4.2" stroke-linecap="round" stroke-linejoin="round"/>
<ellipse cx="817.3" cy="842.2" rx="3.9" ry="5.6" fill="#000"/>
<path d="M772.9,817C804.2,731.9 869.2,656.9 958.5,632.2" fill="none" stroke="#4472c4" stroke-width="6.6"/>
<path d="M984.9,626.8L957.6,652.6L947.9,620Z" fill="#4472c4"/>
<text x="768.7" y="689.6" font-size="44.5">O<tspan font-size="30" dy="11">2</tspan></text>
<path d="M1018.3,583.9 A63,63 0 1 1 1018.3,709.7 Z" fill="url(#g6)"/><path d="M1018.3,583.9 A63,63 0 1 1 1018.3,709.7 Z" fill="url(#f6)"/><path d="M1018.3,583.9 A63,63 0 1 1 1018.3,709.7 Z" fill="url(#r6)"/>
<path d="M1083.5,655L1124.7,631.8L1164.2,654.3L1202.8,631.8L1244.1,655.4" fill="none" stroke="#000" stroke-width="4" stroke-linejoin="miter" stroke-linecap="butt"/><path d="M1244.1,655.4C1244.1,650.1 1246.3,645.8 1249,645.8C1251.7,645.8 1253.9,647.2 1253.9,648.9C1253.9,643.6 1256.1,639.3 1258.8,639.3C1261.5,639.3 1263.7,640.7 1263.7,642.5C1263.7,637.2 1265.9,632.9 1268.6,632.9C1271.3,632.9 1273.6,634.3 1273.6,636C1273.6,632.7 1276.5,633.3 1276.5,629.9" fill="none" stroke="#000" stroke-width="3.2" stroke-linecap="round" stroke-linejoin="round"/>
<path d="M1203,632V599.4" stroke="#000" stroke-width="4"/>
<text x="1193.5" y="595.3" font-size="23.5">OO</text>
<circle cx="1235.8" cy="575" r="3.6" fill="#000"/>
<path d="M1269,680.7C1419.3,788.4 1426.3,998.1 1293.5,1122.2" fill="none" stroke="#4472c4" stroke-width="6.6"/>
<path d="M1271.1,1141.3L1286.3,1106.6L1307.7,1131.8Z" fill="#4472c4"/>
<path d="M1385.2,867.5C1423.9,942.4 1492.2,993.8 1577,1000.8" fill="none" stroke="#4472c4" stroke-width="6.6"/>
<path d="M1604.3,1005.5L1568.4,1016.7L1573.6,983.7Z" fill="#4472c4"/>
<path d="M1086.5,1199.8C931,1207.1 784.8,1116.9 763.8,954" fill="none" stroke="#4472c4" stroke-width="6.6"/>
<path d="M758.9,925.9L780.7,956.9L747.1,961.9Z" fill="#4472c4"/>
<text x="1144.8" y="1190.6" font-size="45">•OH</text>
<path d="M847.1,979.8 A60.6,60.6 0 1 1 847.1,1100.8 Z" fill="url(#g9)"/><path d="M847.1,979.8 A60.6,60.6 0 1 1 847.1,1100.8 Z" fill="url(#f9)"/><path d="M847.1,979.8 A60.6,60.6 0 1 1 847.1,1100.8 Z" fill="url(#r9)"/>
<path d="M910.5,1043L952.3,1010.3L991.8,1042L1031.6,1010.3L1073.1,1043.4" fill="none" stroke="#000" stroke-width="5.1" stroke-linejoin="miter" stroke-linecap="butt"/><path d="M1073.1,1043.4C1073.1,1035.6 1075.4,1029.2 1078.2,1029.2C1081,1029.2 1083.3,1031.8 1083.3,1035C1083.3,1027.2 1085.6,1020.8 1088.4,1020.8C1091.2,1020.8 1093.5,1023.4 1093.5,1026.6C1093.5,1018.8 1095.8,1012.4 1098.6,1012.4C1101.4,1012.4 1103.7,1015.1 1103.7,1018.3C1103.7,1013.3 1106.8,1014.2 1106.8,1009.2" fill="none" stroke="#000" stroke-width="4.1" stroke-linecap="round" stroke-linejoin="round"/>
<path d="M1437.3,793.3 A61,61 0 1 1 1437.3,915.1 Z" fill="url(#g12)"/><path d="M1437.3,793.3 A61,61 0 1 1 1437.3,915.1 Z" fill="url(#f12)"/><path d="M1437.3,793.3 A61,61 0 1 1 1437.3,915.1 Z" fill="url(#r12)"/>
<path d="M1496.5,856.3L1533.3,830.1L1569.7,856.7L1606.4,830.1L1643.9,858.1" fill="none" stroke="#000" stroke-width="4.4" stroke-linejoin="miter" stroke-linecap="butt"/><path d="M1643.9,858.1C1643.9,851.7 1646,846.5 1648.5,846.5C1651,846.5 1653.1,848.5 1653.1,850.9C1653.1,844.6 1655.2,839.3 1657.7,839.3C1660.3,839.3 1662.3,841.3 1662.3,843.8C1662.3,837.4 1664.4,832.2 1666.9,832.2C1669.5,832.2 1671.5,834.2 1671.5,836.6C1671.5,832.5 1674.3,833.3 1674.3,829.2" fill="none" stroke="#000" stroke-width="3.5" stroke-linecap="round" stroke-linejoin="round"/>
<path d="M1971,811.8 A62,62 0 1 0 1971,935.6 Z" fill="url(#g15)"/><path d="M1971,811.8 A62,62 0 1 0 1971,935.6 Z" fill="url(#f15)"/><path d="M1971,811.8 A62,62 0 1 0 1971,935.6 Z" fill="url(#r15)"/>
<path d="M1908,880L1870.7,902L1835.2,880.7L1799.4,901.5L1763.3,879.8" fill="none" stroke="#000" stroke-width="3.5" stroke-linejoin="miter" stroke-linecap="butt"/><path d="M1764,880.5C1764,880.4 1763.6,880.4 1763.2,880.4C1760.8,880.4 1758.9,884.3 1758.9,889.2C1758.9,887 1757,885.2 1754.7,885.2C1752.3,885.2 1750.4,889.1 1750.4,894C1750.4,891.8 1748.5,890 1746.2,890C1743.9,890 1742,893.9 1742,898.8C1742,896.6 1740,894.8 1737.7,894.8C1735.6,894.8 1733.9,898.6 1733.9,903.2" fill="none" stroke="#000" stroke-width="2.8" stroke-linecap="round" stroke-linejoin="round"/>
<path d="M1799.4,901.5V933.6M1799.4,954.2V984.4" stroke="#000" stroke-width="3.5"/>
<text x="1799.4" y="950.6" font-size="20.5" text-anchor="middle">O</text>
<path d="M1629.5,937.1 A64.6,64.6 0 1 1 1629.5,1066.1 Z" fill="url(#g18)"/><path d="M1629.5,937.1 A64.6,64.6 0 1 1 1629.5,1066.1 Z" fill="url(#f18)"/><path d="M1629.5,937.1 A64.6,64.6 0 1 1 1629.5,1066.1 Z" fill="url(#r18)"/>
<path d="M1692.5,1004.3L1729.2,983.8L1764.4,1004.6L1799.4,984.4L1836.1,1005.5" fill="none" stroke="#000" stroke-width="3.5" stroke-linejoin="miter" stroke-linecap="butt"/><path d="M1836.1,1005.5C1836.1,1000.4 1838.2,996.3 1840.8,996.3C1843.4,996.3 1845.6,997.9 1845.6,999.9C1845.6,994.9 1847.7,990.7 1850.3,990.7C1852.9,990.7 1855,992.4 1855,994.3C1855,989.3 1857.1,985.2 1859.7,985.2C1862.3,985.2 1864.5,986.8 1864.5,988.8C1864.5,985.5 1867.3,986.1 1867.3,982.9" fill="none" stroke="#000" stroke-width="2.8" stroke-linecap="round" stroke-linejoin="round"/>
</g>
</svg>
</body></html>
